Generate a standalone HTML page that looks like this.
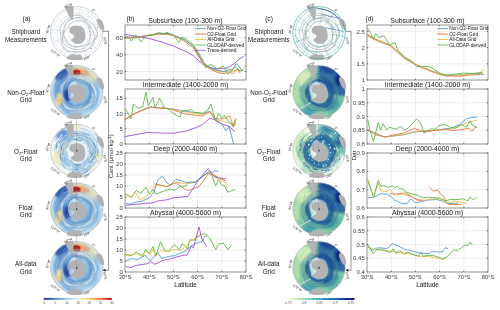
<!DOCTYPE html>
<html><head><meta charset="utf-8"><style>
html,body{margin:0;padding:0;background:#fff;width:500px;height:310px;overflow:hidden}
svg{display:block;will-change:transform}
text{font-family:"Liberation Sans", sans-serif}
</style></head><body>
<svg width="500" height="310" viewBox="0 0 500 310">
<rect width="500" height="310" fill="#fff"/>
<defs>
<filter id="bl2" x="-50%" y="-50%" width="200%" height="200%"><feGaussianBlur stdDeviation="2"/></filter>
<filter id="bl05" x="-50%" y="-50%" width="200%" height="200%"><feGaussianBlur stdDeviation="0.6"/></filter>
<filter id="bl1" x="-50%" y="-50%" width="200%" height="200%"><feGaussianBlur stdDeviation="1"/></filter>
<filter id="bl3" x="-50%" y="-50%" width="200%" height="200%"><feGaussianBlur stdDeviation="3.5"/></filter>
<clipPath id="cp00"><circle cx="76.7" cy="32.8" r="26.2"/></clipPath>
<clipPath id="cp00L"><circle cx="76.7" cy="32.8" r="28.03"/></clipPath>
<clipPath id="cp01"><circle cx="76.7" cy="91.7" r="26.2"/></clipPath>
<clipPath id="cp01L"><circle cx="76.7" cy="91.7" r="28.03"/></clipPath>
<clipPath id="cp02"><circle cx="76.7" cy="150.5" r="26.2"/></clipPath>
<clipPath id="cp02L"><circle cx="76.7" cy="150.5" r="28.03"/></clipPath>
<clipPath id="cp03"><circle cx="76.7" cy="209.0" r="26.2"/></clipPath>
<clipPath id="cp03L"><circle cx="76.7" cy="209.0" r="28.03"/></clipPath>
<clipPath id="cp04"><circle cx="76.7" cy="267.6" r="26.2"/></clipPath>
<clipPath id="cp04L"><circle cx="76.7" cy="267.6" r="28.03"/></clipPath>
<clipPath id="cp10"><circle cx="319.0" cy="32.8" r="26.2"/></clipPath>
<clipPath id="cp10L"><circle cx="319.0" cy="32.8" r="28.03"/></clipPath>
<clipPath id="cp11"><circle cx="319.0" cy="91.7" r="26.2"/></clipPath>
<clipPath id="cp11L"><circle cx="319.0" cy="91.7" r="28.03"/></clipPath>
<clipPath id="cp12"><circle cx="319.0" cy="150.5" r="26.2"/></clipPath>
<clipPath id="cp12L"><circle cx="319.0" cy="150.5" r="28.03"/></clipPath>
<clipPath id="cp13"><circle cx="319.0" cy="209.0" r="26.2"/></clipPath>
<clipPath id="cp13L"><circle cx="319.0" cy="209.0" r="28.03"/></clipPath>
<clipPath id="cp14"><circle cx="319.0" cy="267.6" r="26.2"/></clipPath>
<clipPath id="cp14L"><circle cx="319.0" cy="267.6" r="28.03"/></clipPath>
<linearGradient id="cbA" x1="0" x2="1" y1="0" y2="0"><stop offset="0" stop-color="#313695"/><stop offset="0.12" stop-color="#4575b4"/><stop offset="0.25" stop-color="#74add1"/><stop offset="0.38" stop-color="#abd9e9"/><stop offset="0.5" stop-color="#e0f3f8"/><stop offset="0.6" stop-color="#fee090"/><stop offset="0.72" stop-color="#fdae61"/><stop offset="0.85" stop-color="#f46d43"/><stop offset="0.93" stop-color="#d73027"/><stop offset="1" stop-color="#a50026"/></linearGradient>
<linearGradient id="cbC" x1="0" x2="1" y1="0" y2="0"><stop offset="0" stop-color="#ffffd9"/><stop offset="0.15" stop-color="#d5efb3"/><stop offset="0.3" stop-color="#97d6b9"/><stop offset="0.45" stop-color="#4ab3c2"/><stop offset="0.6" stop-color="#1f8ebc"/><stop offset="0.75" stop-color="#235fa6"/><stop offset="0.88" stop-color="#21318d"/><stop offset="1" stop-color="#081d58"/></linearGradient>
</defs>
<text x="25.80" y="34.40" font-size="6.3" text-anchor="middle" fill="#161616" >Shipboard</text>
<text x="25.80" y="41.70" font-size="6.3" text-anchor="middle" fill="#161616" >Measurements</text>
<text x="25.80" y="95.00" font-size="6.3" text-anchor="middle" fill="#161616" >Non-O<tspan font-size="4.2" dy="1.3">2</tspan><tspan dy="-1.3">-Float</tspan></text>
<text x="25.80" y="102.20" font-size="6.3" text-anchor="middle" fill="#161616" >Grid</text>
<text x="25.80" y="154.00" font-size="6.3" text-anchor="middle" fill="#161616" >O<tspan font-size="4.2" dy="1.3">2</tspan><tspan dy="-1.3">-Float</tspan></text>
<text x="25.80" y="161.40" font-size="6.3" text-anchor="middle" fill="#161616" >Grid</text>
<text x="25.80" y="210.00" font-size="6.3" text-anchor="middle" fill="#161616" >Float</text>
<text x="25.80" y="217.40" font-size="6.3" text-anchor="middle" fill="#161616" >Grid</text>
<text x="25.80" y="266.20" font-size="6.3" text-anchor="middle" fill="#161616" >All-data</text>
<text x="25.80" y="273.60" font-size="6.3" text-anchor="middle" fill="#161616" >Grid</text>
<text x="268.80" y="34.40" font-size="6.3" text-anchor="middle" fill="#161616" >Shipboard</text>
<text x="268.80" y="41.70" font-size="6.3" text-anchor="middle" fill="#161616" >Measurements</text>
<text x="268.80" y="95.00" font-size="6.3" text-anchor="middle" fill="#161616" >Non-O<tspan font-size="4.2" dy="1.3">2</tspan><tspan dy="-1.3">-Float</tspan></text>
<text x="268.80" y="102.20" font-size="6.3" text-anchor="middle" fill="#161616" >Grid</text>
<text x="268.80" y="154.00" font-size="6.3" text-anchor="middle" fill="#161616" >O<tspan font-size="4.2" dy="1.3">2</tspan><tspan dy="-1.3">-Float</tspan></text>
<text x="268.80" y="161.40" font-size="6.3" text-anchor="middle" fill="#161616" >Grid</text>
<text x="268.80" y="210.00" font-size="6.3" text-anchor="middle" fill="#161616" >Float</text>
<text x="268.80" y="217.40" font-size="6.3" text-anchor="middle" fill="#161616" >Grid</text>
<text x="268.80" y="266.20" font-size="6.3" text-anchor="middle" fill="#161616" >All-data</text>
<text x="268.80" y="273.60" font-size="6.3" text-anchor="middle" fill="#161616" >Grid</text>
<text x="26.50" y="21.30" font-size="6.6" text-anchor="middle" fill="#161616" >(a)</text>
<text x="269.00" y="21.30" font-size="6.6" text-anchor="middle" fill="#161616" >(c)</text>
<text x="130.50" y="21.30" font-size="6.6" text-anchor="middle" fill="#161616" >(b)</text>
<text x="369.50" y="21.30" font-size="6.6" text-anchor="middle" fill="#161616" >(d)</text>
<g clip-path="url(#cp00)">
<circle cx="76.7" cy="32.8" r="26.2" fill="#fff"/>
<circle cx="76.7" cy="32.8" r="7.86" fill="none" stroke="#b8b8b8" stroke-width="0.3" stroke-dasharray="0.7 0.7"/>
<circle cx="76.7" cy="32.8" r="14.41" fill="none" stroke="#b8b8b8" stroke-width="0.3" stroke-dasharray="0.7 0.7"/>
<circle cx="76.7" cy="32.8" r="20.96" fill="none" stroke="#b8b8b8" stroke-width="0.3" stroke-dasharray="0.7 0.7"/>
<line x1="76.70" y1="24.94" x2="76.70" y2="6.60" stroke="#c0c0c0" stroke-width="0.3" stroke-dasharray="0.7 0.7"/>
<line x1="80.63" y1="25.99" x2="89.80" y2="10.11" stroke="#c0c0c0" stroke-width="0.3" stroke-dasharray="0.7 0.7"/>
<line x1="83.51" y1="28.87" x2="99.39" y2="19.70" stroke="#c0c0c0" stroke-width="0.3" stroke-dasharray="0.7 0.7"/>
<line x1="84.56" y1="32.80" x2="102.90" y2="32.80" stroke="#c0c0c0" stroke-width="0.3" stroke-dasharray="0.7 0.7"/>
<line x1="83.51" y1="36.73" x2="99.39" y2="45.90" stroke="#c0c0c0" stroke-width="0.3" stroke-dasharray="0.7 0.7"/>
<line x1="80.63" y1="39.61" x2="89.80" y2="55.49" stroke="#c0c0c0" stroke-width="0.3" stroke-dasharray="0.7 0.7"/>
<line x1="76.70" y1="40.66" x2="76.70" y2="59.00" stroke="#c0c0c0" stroke-width="0.3" stroke-dasharray="0.7 0.7"/>
<line x1="72.77" y1="39.61" x2="63.60" y2="55.49" stroke="#c0c0c0" stroke-width="0.3" stroke-dasharray="0.7 0.7"/>
<line x1="69.89" y1="36.73" x2="54.01" y2="45.90" stroke="#c0c0c0" stroke-width="0.3" stroke-dasharray="0.7 0.7"/>
<line x1="68.84" y1="32.80" x2="50.50" y2="32.80" stroke="#c0c0c0" stroke-width="0.3" stroke-dasharray="0.7 0.7"/>
<line x1="69.89" y1="28.87" x2="54.01" y2="19.70" stroke="#c0c0c0" stroke-width="0.3" stroke-dasharray="0.7 0.7"/>
<line x1="72.77" y1="25.99" x2="63.60" y2="10.11" stroke="#c0c0c0" stroke-width="0.3" stroke-dasharray="0.7 0.7"/>
<path d="M77.75,21.03 C78.75,20.98 79.80,20.66 80.79,20.80 C81.77,20.93 82.80,21.32 83.66,21.82 C84.53,22.32 85.25,23.11 85.98,23.79 C86.71,24.46 87.56,25.07 88.07,25.88 C88.58,26.69 88.77,27.75 89.05,28.67 C89.32,29.58 89.50,30.47 89.73,31.38 C89.95,32.28 90.31,33.18 90.38,34.11 C90.45,35.04 90.24,35.97 90.16,36.94 C90.08,37.92 90.07,38.92 89.89,39.96 C89.70,40.99 89.68,42.35 89.06,43.13 C88.44,43.91 87.10,44.19 86.16,44.66 C85.23,45.13 84.41,45.76 83.45,45.96 C82.50,46.16 81.39,45.74 80.43,45.88 C79.48,46.02 78.68,46.62 77.75,46.79 C76.81,46.97 75.73,47.15 74.82,46.92 C73.92,46.69 73.19,45.84 72.30,45.42 C71.42,45.01 70.35,44.93 69.51,44.44 C68.67,43.95 67.86,43.25 67.26,42.47 C66.66,41.70 66.39,40.69 65.93,39.80 C65.48,38.91 64.86,38.08 64.51,37.13 C64.16,36.18 63.82,35.11 63.83,34.11 C63.85,33.11 64.08,31.98 64.58,31.11 C65.09,30.23 66.18,29.58 66.84,28.86 C67.50,28.13 68.02,27.52 68.53,26.76 C69.04,26.00 69.31,25.00 69.92,24.30 C70.53,23.59 71.37,23.08 72.18,22.55 C72.99,22.02 73.86,21.39 74.79,21.13 C75.71,20.88 76.75,21.09 77.75,21.03Z" fill="none" stroke="#222" stroke-width="0.4" opacity="0.65"/>
<path d="M77.75,17.56 C78.96,17.44 80.35,17.36 81.48,17.77 C82.61,18.18 83.61,19.24 84.54,20.01 C85.47,20.79 86.24,21.64 87.06,22.43 C87.88,23.23 88.77,23.91 89.44,24.78 C90.11,25.66 90.50,26.71 91.08,27.69 C91.66,28.66 92.43,29.58 92.92,30.65 C93.41,31.72 93.77,32.90 94.01,34.11 C94.25,35.32 94.57,36.70 94.36,37.90 C94.14,39.10 93.43,40.31 92.72,41.32 C92.02,42.33 91.06,43.23 90.12,43.97 C89.17,44.72 88.02,45.14 87.06,45.79 C86.10,46.43 85.36,47.32 84.37,47.87 C83.39,48.42 82.27,48.79 81.17,49.10 C80.07,49.41 78.90,49.66 77.75,49.71 C76.60,49.76 75.40,49.61 74.26,49.38 C73.12,49.15 71.99,48.79 70.89,48.35 C69.80,47.90 68.74,47.34 67.70,46.71 C66.66,46.08 65.46,45.46 64.63,44.57 C63.81,43.67 63.10,42.50 62.75,41.33 C62.41,40.16 62.49,38.78 62.57,37.57 C62.66,36.37 63.09,35.22 63.27,34.11 C63.44,33.00 63.43,31.95 63.63,30.89 C63.83,29.82 64.15,28.80 64.47,27.72 C64.79,26.63 65.08,25.49 65.57,24.40 C66.06,23.31 66.56,21.97 67.42,21.16 C68.29,20.36 69.63,20.03 70.75,19.58 C71.88,19.14 73.02,18.83 74.18,18.50 C75.35,18.16 76.53,17.68 77.75,17.56Z" fill="none" stroke="#222" stroke-width="0.4" opacity="0.65"/>
<path d="M77.75,15.30 C79.14,15.42 80.59,15.65 81.83,16.22 C83.07,16.79 84.09,17.93 85.17,18.70 C86.25,19.48 87.24,20.14 88.31,20.87 C89.37,21.60 90.55,22.22 91.55,23.11 C92.54,23.99 93.46,25.03 94.26,26.16 C95.07,27.28 95.82,28.54 96.36,29.86 C96.91,31.19 97.64,32.72 97.53,34.11 C97.42,35.50 96.31,36.92 95.69,38.20 C95.06,39.49 94.36,40.59 93.78,41.83 C93.21,43.08 93.04,44.60 92.25,45.67 C91.46,46.74 90.13,47.45 89.04,48.27 C87.95,49.09 86.92,50.11 85.69,50.60 C84.46,51.09 82.98,51.00 81.65,51.21 C80.33,51.42 79.07,51.77 77.75,51.85 C76.43,51.93 75.16,51.68 73.74,51.67 C72.32,51.65 70.69,52.04 69.25,51.75 C67.82,51.46 66.21,50.88 65.13,49.93 C64.04,48.99 63.37,47.40 62.75,46.07 C62.13,44.75 61.70,43.34 61.40,41.98 C61.09,40.63 61.00,39.26 60.92,37.95 C60.85,36.64 61.12,35.43 60.95,34.11 C60.78,32.79 59.92,31.39 59.91,30.04 C59.90,28.69 60.33,27.23 60.90,26.00 C61.47,24.76 62.39,23.61 63.33,22.61 C64.26,21.61 65.47,20.95 66.49,20.00 C67.52,19.05 68.29,17.64 69.46,16.89 C70.62,16.14 72.12,15.77 73.50,15.50 C74.88,15.24 76.36,15.18 77.75,15.30Z" fill="none" stroke="#222" stroke-width="0.4" opacity="0.65"/>
<line x1="78.09" y1="22.94" x2="80.31" y2="7.11" stroke="#78b0dc" stroke-width="0.45" opacity="0.45"/>
<line x1="82.83" y1="24.95" x2="92.67" y2="12.36" stroke="#78b0dc" stroke-width="0.45" opacity="0.45"/>
<line x1="85.93" y1="29.07" x2="100.75" y2="23.08" stroke="#78b0dc" stroke-width="0.45" opacity="0.45"/>
<line x1="86.56" y1="34.19" x2="102.39" y2="36.41" stroke="#78b0dc" stroke-width="0.45" opacity="0.45"/>
<line x1="84.55" y1="38.93" x2="97.14" y2="48.77" stroke="#78b0dc" stroke-width="0.45" opacity="0.45"/>
<line x1="80.43" y1="42.03" x2="86.42" y2="56.85" stroke="#78b0dc" stroke-width="0.45" opacity="0.45"/>
<line x1="75.31" y1="42.66" x2="73.09" y2="58.49" stroke="#78b0dc" stroke-width="0.45" opacity="0.45"/>
<line x1="70.57" y1="40.65" x2="60.73" y2="53.24" stroke="#78b0dc" stroke-width="0.45" opacity="0.45"/>
<line x1="67.47" y1="36.53" x2="52.65" y2="42.52" stroke="#78b0dc" stroke-width="0.45" opacity="0.45"/>
<line x1="66.84" y1="31.41" x2="51.01" y2="29.19" stroke="#78b0dc" stroke-width="0.45" opacity="0.45"/>
<line x1="68.85" y1="26.67" x2="56.26" y2="16.83" stroke="#78b0dc" stroke-width="0.45" opacity="0.45"/>
<line x1="72.97" y1="23.57" x2="66.98" y2="8.75" stroke="#78b0dc" stroke-width="0.45" opacity="0.45"/>
<circle cx="76.7" cy="32.8" r="14.41" fill="none" stroke="#78b0dc" stroke-width="0.45" opacity="0.45"/>
<circle cx="76.7" cy="32.8" r="19.39" fill="none" stroke="#78b0dc" stroke-width="0.45" opacity="0.45"/>
<circle cx="76.7" cy="32.8" r="23.84" fill="none" stroke="#78b0dc" stroke-width="0.45" opacity="0.45"/>
<circle cx="97.7" cy="27.6" r="0.5" fill="#e06030"/>
<circle cx="91.1" cy="48.5" r="0.6" fill="#d02020"/>
<path d="M87.2,9.2 Q99.0,17.1 101.6,35.4" fill="none" stroke="#e8c870" stroke-width="0.4" stroke-dasharray="0.6 0.6"/>
</g>
<g clip-path="url(#cp00L)"><path d="M64.91,6.60 C66.13,6.16 71.59,5.73 73.03,6.60 C74.47,7.47 73.51,10.18 73.56,11.84 C73.60,13.50 73.51,15.25 73.29,16.56 C73.08,17.87 72.73,19.44 72.25,19.70 C71.77,19.96 71.15,19.18 70.41,18.13 C69.67,17.08 68.58,14.90 67.79,13.41 C67.01,11.93 66.18,10.36 65.70,9.22 C65.22,8.08 63.69,7.04 64.91,6.60Z" fill="#b3b3b3"/>
<path d="M96.61,19.18 C97.05,18.39 99.10,18.56 100.28,19.18 C101.46,19.79 103.12,21.01 103.69,22.84 C104.25,24.68 104.25,29.22 103.69,30.18 C103.12,31.14 101.28,29.66 100.28,28.61 C99.28,27.56 98.27,25.46 97.66,23.89 C97.05,22.32 96.18,19.96 96.61,19.18Z" fill="#b3b3b3"/>
<path d="M67.27,59.79 C65.17,59.09 67.92,56.55 68.84,55.59 C69.76,54.63 71.46,54.15 72.77,54.02 C74.08,53.89 75.52,54.76 76.70,54.81 C77.88,54.85 78.97,53.93 79.84,54.28 C80.72,54.63 81.68,55.99 81.94,56.90 C82.20,57.82 83.86,59.31 81.42,59.79 C78.97,60.27 69.36,60.48 67.27,59.79Z" fill="#b3b3b3"/>
<path d="M71.46,26.51 C72.42,25.94 73.99,25.81 75.39,25.73 C76.79,25.64 78.53,25.59 79.84,25.99 C81.15,26.38 82.38,27.04 83.25,28.08 C84.12,29.13 84.73,30.79 85.08,32.28 C85.43,33.76 85.56,35.51 85.35,36.99 C85.13,38.48 84.60,40.09 83.77,41.18 C82.94,42.28 81.59,43.11 80.37,43.54 C79.15,43.98 77.66,44.02 76.44,43.80 C75.22,43.59 73.95,42.89 73.03,42.23 C72.11,41.58 70.89,40.57 70.94,39.87 C70.98,39.18 72.77,38.78 73.29,38.04 C73.82,37.30 74.34,36.07 74.08,35.42 C73.82,34.76 72.46,34.63 71.72,34.11 C70.98,33.59 69.98,33.11 69.63,32.28 C69.28,31.45 69.32,30.09 69.63,29.13 C69.93,28.17 70.50,27.08 71.46,26.51Z" fill="#b3b3b3"/></g>
<circle cx="76.7" cy="32.8" r="26.2" fill="none" stroke="#a8a8a8" stroke-width="0.5"/>
<text x="68.8" y="6.6" font-size="3.4" fill="#3a3a3a" text-anchor="middle" transform="rotate(-25 68.8 6.6)">60°W</text>
<text x="92.9" y="11.3" font-size="3.4" fill="#3a3a3a" text-anchor="middle" transform="rotate(40 92.9 11.3)">0°</text>
<text x="49.2" y="29.7" font-size="3.4" fill="#3a3a3a" text-anchor="middle" transform="rotate(-75 49.2 29.7)">90°W</text>
<text x="103.9" y="41.2" font-size="3.4" fill="#3a3a3a" text-anchor="middle" transform="rotate(80 103.9 41.2)">60°E</text>
<text x="54.4" y="53.8" font-size="3.4" fill="#3a3a3a" text-anchor="middle" transform="rotate(35 54.4 53.8)">120°W</text>
<text x="87.2" y="59.0" font-size="3.4" fill="#3a3a3a" text-anchor="middle" transform="rotate(-20 87.2 59.0)">180°</text>
<g clip-path="url(#cp01)">
<circle cx="76.7" cy="91.7" r="26.2" fill="#94c3e6"/>
<circle cx="76.7" cy="91.7" r="24.89" fill="none" stroke="#d4eaf5" stroke-width="3.14" filter="url(#bl1)"/>
<ellipse cx="62.29" cy="91.70" rx="7.86" ry="14.41" fill="#6496d2" opacity="0.9" filter="url(#bl2)" transform="rotate(0 62.29 91.70)"/>
<ellipse cx="74.08" cy="110.56" rx="11.79" ry="4.72" fill="#7aaad8" opacity="0.8" filter="url(#bl2)" transform="rotate(0 74.08 110.56)"/>
<ellipse cx="91.11" cy="100.87" rx="7.86" ry="9.17" fill="#88b8e0" opacity="0.7" filter="url(#bl2)" transform="rotate(0 91.11 100.87)"/>
<ellipse cx="61.50" cy="73.88" rx="7.86" ry="5.24" fill="#2f58ad" opacity="0.95" filter="url(#bl1)" transform="rotate(-35 61.50 73.88)"/>
<ellipse cx="64.91" cy="79.91" rx="4.72" ry="3.93" fill="#5a88c8" opacity="0.8" filter="url(#bl2)" transform="rotate(0 64.91 79.91)"/>
<ellipse cx="84.56" cy="79.91" rx="9.17" ry="3.67" fill="#eef0d6" opacity="0.9" filter="url(#bl2)" transform="rotate(15 84.56 79.91)"/>
<ellipse cx="92.94" cy="75.98" rx="5.76" ry="3.14" fill="#f5e2a2" opacity="0.95" filter="url(#bl2)" transform="rotate(35 92.94 75.98)"/>
<ellipse cx="79.32" cy="69.43" rx="6.55" ry="2.62" fill="#f3dca8" opacity="0.9" filter="url(#bl2)" transform="rotate(0 79.32 69.43)"/>
<ellipse cx="80.63" cy="71.79" rx="8.38" ry="3.41" fill="#f0a060" opacity="0.9" filter="url(#bl1)" transform="rotate(12 80.63 71.79)"/>
<ellipse cx="76.18" cy="72.57" rx="4.45" ry="3.14" fill="#b01812" opacity="1" filter="url(#bl05)" transform="rotate(5 76.18 72.57)"/>
<ellipse cx="59.41" cy="99.04" rx="3.41" ry="6.81" fill="#f2dc8c" opacity="1" filter="url(#bl1)" transform="rotate(15 59.41 99.04)"/>
<ellipse cx="59.41" cy="100.61" rx="1.57" ry="2.62" fill="#f0b060" opacity="0.8" filter="url(#bl1)" transform="rotate(0 59.41 100.61)"/>
<path d="M77.75,75.97 C79.01,76.06 80.34,76.18 81.48,76.64 C82.63,77.11 83.60,78.08 84.62,78.75 C85.63,79.42 86.60,80.00 87.58,80.68 C88.56,81.36 89.63,82.00 90.49,82.85 C91.35,83.70 92.07,84.73 92.74,85.79 C93.41,86.85 94.01,87.98 94.50,89.19 C94.99,90.39 95.74,91.75 95.66,93.01 C95.59,94.27 94.61,95.56 94.07,96.74 C93.53,97.91 92.93,98.93 92.43,100.08 C91.93,101.23 91.81,102.66 91.08,103.64 C90.36,104.63 89.10,105.22 88.09,105.98 C87.09,106.74 86.18,107.71 85.05,108.18 C83.93,108.65 82.57,108.58 81.35,108.78 C80.13,108.98 78.96,109.34 77.75,109.38 C76.54,109.42 75.37,109.09 74.09,109.03 C72.81,108.96 71.35,109.26 70.06,108.97 C68.77,108.68 67.35,108.14 66.36,107.29 C65.38,106.44 64.76,105.03 64.15,103.85 C63.54,102.68 63.04,101.47 62.71,100.25 C62.37,99.04 62.20,97.78 62.13,96.58 C62.05,95.37 62.36,94.23 62.23,93.01 C62.10,91.79 61.34,90.50 61.36,89.27 C61.38,88.04 61.84,86.73 62.38,85.61 C62.92,84.49 63.77,83.45 64.62,82.54 C65.48,81.63 66.58,81.04 67.51,80.17 C68.44,79.30 69.12,77.97 70.18,77.30 C71.25,76.63 72.64,76.36 73.90,76.14 C75.16,75.92 76.48,75.89 77.75,75.97Z" fill="none" stroke="#e2f0f6" stroke-width="2.36" opacity="0.85" filter="url(#bl1)"/>
<path d="M77.75,80.64 C78.69,80.91 79.49,81.28 80.38,81.50 C81.27,81.71 82.21,81.65 83.09,81.91 C83.98,82.17 84.86,82.58 85.69,83.05 C86.52,83.53 87.36,84.09 88.08,84.77 C88.81,85.44 89.51,86.23 90.04,87.09 C90.57,87.95 91.06,88.94 91.25,89.93 C91.43,90.92 91.23,92.00 91.14,93.01 C91.05,94.02 91.02,95.04 90.70,95.97 C90.39,96.89 89.72,97.69 89.25,98.55 C88.78,99.40 88.52,100.41 87.89,101.10 C87.26,101.79 86.30,102.23 85.49,102.72 C84.68,103.20 83.87,103.59 83.04,104.00 C82.21,104.41 81.41,104.80 80.53,105.18 C79.64,105.55 78.75,105.95 77.75,106.26 C76.75,106.58 75.56,107.16 74.54,107.07 C73.52,106.98 72.48,106.32 71.62,105.73 C70.76,105.14 70.03,104.29 69.38,103.51 C68.73,102.72 68.14,101.89 67.71,101.02 C67.28,100.14 67.19,99.14 66.82,98.27 C66.45,97.41 65.86,96.69 65.47,95.81 C65.09,94.93 64.63,93.98 64.49,93.01 C64.36,92.04 64.47,91.00 64.65,90.02 C64.83,89.04 65.17,88.07 65.57,87.15 C65.97,86.22 66.40,85.22 67.07,84.49 C67.73,83.76 68.78,83.40 69.57,82.75 C70.35,82.10 70.91,81.08 71.77,80.60 C72.63,80.12 73.75,79.85 74.75,79.86 C75.74,79.87 76.81,80.36 77.75,80.64Z" fill="none" stroke="#6a9fd4" stroke-width="3.67" opacity="0.85" filter="url(#bl1)"/>
<ellipse cx="67.27" cy="94.84" rx="3.41" ry="6.29" fill="#2442a0" opacity="1" filter="url(#bl1)" transform="rotate(0 67.27 94.84)"/>
<ellipse cx="79.32" cy="110.56" rx="9.17" ry="3.14" fill="#b8daf0" opacity="0.8" filter="url(#bl2)" transform="rotate(0 79.32 110.56)"/>
<path d="M84.76,115.75 A23.80,23.80 0 0 1 77.16,116.71" fill="none" stroke="#d8ecf6" stroke-width="0.73" opacity="0.5"/>
<path d="M93.86,86.62 A17.34,17.34 0 0 1 95.37,93.78" fill="none" stroke="#ffffff" stroke-width="0.35" opacity="0.5"/>
<path d="M98.66,100.30 A22.15,22.15 0 0 1 97.93,103.31" fill="none" stroke="#ffffff" stroke-width="0.60" opacity="0.5"/>
<path d="M90.58,109.80 A21.13,21.13 0 0 1 85.56,113.06" fill="none" stroke="#d8ecf6" stroke-width="0.31" opacity="0.5"/>
<path d="M75.40,106.02 A13.22,13.22 0 0 1 74.02,104.99" fill="none" stroke="#ffffff" stroke-width="0.69" opacity="0.5"/>
<path d="M89.54,99.14 A13.29,13.29 0 0 1 86.38,102.18" fill="none" stroke="#4a80c4" stroke-width="0.55" opacity="0.5"/>
<path d="M65.40,100.58 A14.49,14.49 0 0 1 62.52,97.18" fill="none" stroke="#ffffff" stroke-width="0.65" opacity="0.5"/>
<path d="M91.18,98.85 A14.65,14.65 0 0 1 88.89,100.67" fill="none" stroke="#ffffff" stroke-width="0.50" opacity="0.5"/>
<path d="M57.80,79.16 A24.29,24.29 0 0 1 61.34,73.89" fill="none" stroke="#ffffff" stroke-width="0.41" opacity="0.5"/>
<path d="M70.72,78.76 A15.89,15.89 0 0 1 72.31,77.50" fill="none" stroke="#4a80c4" stroke-width="0.34" opacity="0.5"/>
<path d="M67.31,102.88 A14.37,14.37 0 0 1 65.25,97.52" fill="none" stroke="#4a80c4" stroke-width="0.31" opacity="0.5"/>
<path d="M84.40,103.50 A12.42,12.42 0 0 1 78.99,105.91" fill="none" stroke="#ffffff" stroke-width="0.33" opacity="0.5"/>
<path d="M60.01,87.61 A18.54,18.54 0 0 1 61.31,84.73" fill="none" stroke="#ffffff" stroke-width="0.79" opacity="0.5"/>
<path d="M61.86,91.05 A16.01,16.01 0 0 1 63.20,87.02" fill="none" stroke="#ffffff" stroke-width="0.30" opacity="0.5"/>
<path d="M63.43,80.49 A19.02,19.02 0 0 1 70.54,74.00" fill="none" stroke="#ffffff" stroke-width="0.41" opacity="0.5"/>
<path d="M89.91,108.54 A19.73,19.73 0 0 1 81.87,111.23" fill="none" stroke="#ffffff" stroke-width="0.41" opacity="0.5"/>
<path d="M92.95,93.80 A15.22,15.22 0 0 1 90.90,99.54" fill="none" stroke="#ffffff" stroke-width="0.34" opacity="0.5"/>
<path d="M88.09,90.27 A10.70,10.70 0 0 1 88.06,94.00" fill="none" stroke="#d8ecf6" stroke-width="0.53" opacity="0.5"/>
<path d="M72.98,74.87 A18.76,18.76 0 0 1 78.47,73.30" fill="none" stroke="#ffffff" stroke-width="0.61" opacity="0.5"/>
<path d="M95.63,100.20 A19.28,19.28 0 0 1 94.44,103.79" fill="none" stroke="#ffffff" stroke-width="0.67" opacity="0.5"/>
<path d="M68.91,70.51 A24.17,24.17 0 0 1 72.85,68.32" fill="none" stroke="#d8ecf6" stroke-width="0.34" opacity="0.5"/>
<path d="M82.99,75.93 A17.86,17.86 0 0 1 85.11,77.44" fill="none" stroke="#d8ecf6" stroke-width="0.65" opacity="0.5"/>
<path d="M96.80,93.85 A19.08,19.08 0 0 1 94.24,101.46" fill="none" stroke="#ffffff" stroke-width="0.76" opacity="0.5"/>
<path d="M75.26,75.80 A17.39,17.39 0 0 1 77.88,75.22" fill="none" stroke="#d8ecf6" stroke-width="0.61" opacity="0.5"/>
<path d="M90.93,95.54 A13.42,13.42 0 0 1 87.37,100.43" fill="none" stroke="#4a80c4" stroke-width="0.51" opacity="0.5"/>
<path d="M92.29,92.92 A14.54,14.54 0 0 1 92.28,94.66" fill="none" stroke="#ffffff" stroke-width="0.35" opacity="0.5"/>
<path d="M89.40,83.17 A15.25,15.25 0 0 1 92.22,86.53" fill="none" stroke="#d8ecf6" stroke-width="0.59" opacity="0.5"/>
<path d="M86.04,86.18 A10.74,10.74 0 0 1 87.66,86.59" fill="none" stroke="#d8ecf6" stroke-width="0.46" opacity="0.5"/>
<path d="M80.17,81.71 A11.56,11.56 0 0 1 83.20,84.12" fill="none" stroke="#4a80c4" stroke-width="0.46" opacity="0.5"/>
<path d="M77.67,74.66 A18.35,18.35 0 0 1 80.13,74.19" fill="none" stroke="#d8ecf6" stroke-width="0.67" opacity="0.5"/>
<path d="M88.95,82.43 A15.40,15.40 0 0 1 91.54,89.17" fill="none" stroke="#4a80c4" stroke-width="0.75" opacity="0.5"/>
<path d="M61.91,77.93 A21.87,21.87 0 0 1 65.95,73.47" fill="none" stroke="#d8ecf6" stroke-width="0.31" opacity="0.5"/>
<path d="M68.67,98.59 A10.66,10.66 0 0 1 68.63,95.83" fill="none" stroke="#ffffff" stroke-width="0.62" opacity="0.5"/>
<path d="M76.87,72.05 A20.97,20.97 0 0 1 85.99,74.04" fill="none" stroke="#d8ecf6" stroke-width="0.65" opacity="0.5"/>
<path d="M82.54,110.65 A18.28,18.28 0 0 1 77.39,111.33" fill="none" stroke="#d8ecf6" stroke-width="0.31" opacity="0.5"/>
<path d="M69.55,104.11 A13.80,13.80 0 0 1 66.28,101.58" fill="none" stroke="#4a80c4" stroke-width="0.69" opacity="0.5"/>
<path d="M57.98,105.53 A23.40,23.40 0 0 1 55.53,99.16" fill="none" stroke="#ffffff" stroke-width="0.64" opacity="0.5"/>
<path d="M100.24,86.10 A23.53,23.53 0 0 1 101.50,89.90" fill="none" stroke="#4a80c4" stroke-width="0.55" opacity="0.5"/>
<path d="M91.82,92.26 A14.09,14.09 0 0 1 91.88,96.00" fill="none" stroke="#ffffff" stroke-width="0.74" opacity="0.5"/>
<path d="M87.74,104.26 A15.04,15.04 0 0 1 83.14,106.02" fill="none" stroke="#4a80c4" stroke-width="0.48" opacity="0.5"/>
<path d="M70.80,83.97 A11.40,11.40 0 0 1 71.24,82.15" fill="none" stroke="#ffffff" stroke-width="0.36" opacity="0.5"/>
<path d="M81.77,115.10 A22.45,22.45 0 0 1 71.41,114.23" fill="none" stroke="#d8ecf6" stroke-width="0.55" opacity="0.5"/>
<path d="M100.33,102.84 A24.63,24.63 0 0 1 93.99,111.36" fill="none" stroke="#ffffff" stroke-width="0.71" opacity="0.5"/>
<path d="M97.69,96.57 A20.25,20.25 0 0 1 94.83,102.78" fill="none" stroke="#4a80c4" stroke-width="0.45" opacity="0.5"/>
<path d="M65.73,89.80 A12.44,12.44 0 0 1 66.26,88.57" fill="none" stroke="#ffffff" stroke-width="0.68" opacity="0.5"/>
<path d="M99.59,95.27 A21.96,21.96 0 0 1 97.97,104.45" fill="none" stroke="#ffffff" stroke-width="0.52" opacity="0.5"/>
<path d="M61.63,108.15 A22.11,22.11 0 0 1 56.20,101.92" fill="none" stroke="#d8ecf6" stroke-width="0.40" opacity="0.5"/>
<path d="M59.17,83.72 A20.77,20.77 0 0 1 60.89,79.76" fill="none" stroke="#d8ecf6" stroke-width="0.66" opacity="0.5"/>
<path d="M91.70,86.35 A15.46,15.46 0 0 1 93.28,89.27" fill="none" stroke="#d8ecf6" stroke-width="0.55" opacity="0.5"/>
<path d="M77.29,70.30 A22.71,22.71 0 0 1 81.07,70.02" fill="none" stroke="#ffffff" stroke-width="0.34" opacity="0.5"/>
<path d="M72.67,81.75 A12.35,12.35 0 0 1 77.33,80.79" fill="none" stroke="#d8ecf6" stroke-width="0.74" opacity="0.5"/>
<path d="M78.59,73.14 A19.89,19.89 0 0 1 84.80,74.41" fill="none" stroke="#4a80c4" stroke-width="0.53" opacity="0.5"/>
<path d="M60.75,105.14 A20.88,20.88 0 0 1 58.08,102.22" fill="none" stroke="#d8ecf6" stroke-width="0.76" opacity="0.5"/>
<path d="M89.03,81.52 A16.10,16.10 0 0 1 90.16,84.55" fill="none" stroke="#4a80c4" stroke-width="0.57" opacity="0.5"/>
<path d="M54.93,87.03 A23.59,23.59 0 0 1 56.04,81.59" fill="none" stroke="#4a80c4" stroke-width="0.55" opacity="0.5"/>
<path d="M81.58,76.91 A16.55,16.55 0 0 1 84.98,78.78" fill="none" stroke="#ffffff" stroke-width="0.41" opacity="0.5"/>
<path d="M69.62,85.61 A10.99,10.99 0 0 1 71.86,83.63" fill="none" stroke="#d8ecf6" stroke-width="0.69" opacity="0.5"/>
<path d="M91.59,81.63 A17.92,17.92 0 0 1 93.73,83.68" fill="none" stroke="#d8ecf6" stroke-width="0.64" opacity="0.5"/>
<path d="M69.67,70.24 A24.16,24.16 0 0 1 76.74,69.96" fill="none" stroke="#ffffff" stroke-width="0.52" opacity="0.5"/>
<path d="M71.04,110.33 A18.57,18.57 0 0 1 65.03,105.31" fill="none" stroke="#d8ecf6" stroke-width="0.72" opacity="0.5"/>
<path d="M77.75,79.93 C78.75,79.88 79.80,79.56 80.79,79.70 C81.77,79.83 82.80,80.22 83.66,80.72 C84.53,81.22 85.25,82.01 85.98,82.69 C86.71,83.36 87.56,83.97 88.07,84.78 C88.58,85.59 88.77,86.65 89.05,87.57 C89.32,88.48 89.50,89.37 89.73,90.28 C89.95,91.18 90.31,92.08 90.38,93.01 C90.45,93.94 90.24,94.87 90.16,95.84 C90.08,96.82 90.07,97.82 89.89,98.86 C89.70,99.89 89.68,101.25 89.06,102.03 C88.44,102.81 87.10,103.09 86.16,103.56 C85.23,104.03 84.41,104.66 83.45,104.86 C82.50,105.06 81.39,104.64 80.43,104.78 C79.48,104.92 78.68,105.52 77.75,105.69 C76.81,105.87 75.73,106.05 74.82,105.82 C73.92,105.59 73.19,104.74 72.30,104.32 C71.42,103.91 70.35,103.83 69.51,103.34 C68.67,102.85 67.86,102.15 67.26,101.37 C66.66,100.60 66.39,99.59 65.93,98.70 C65.48,97.81 64.86,96.98 64.51,96.03 C64.16,95.08 63.82,94.01 63.83,93.01 C63.85,92.01 64.08,90.88 64.58,90.01 C65.09,89.13 66.18,88.48 66.84,87.76 C67.50,87.03 68.02,86.42 68.53,85.66 C69.04,84.90 69.31,83.90 69.92,83.20 C70.53,82.49 71.37,81.98 72.18,81.45 C72.99,80.92 73.86,80.29 74.79,80.03 C75.71,79.78 76.75,79.99 77.75,79.93Z" fill="none" stroke="#3c4650" stroke-width="0.35" opacity="0.6"/>
<path d="M77.75,76.46 C78.96,76.34 80.35,76.26 81.48,76.67 C82.61,77.08 83.61,78.14 84.54,78.91 C85.47,79.69 86.24,80.54 87.06,81.33 C87.88,82.13 88.77,82.81 89.44,83.68 C90.11,84.56 90.50,85.61 91.08,86.59 C91.66,87.56 92.43,88.48 92.92,89.55 C93.41,90.62 93.77,91.80 94.01,93.01 C94.25,94.22 94.57,95.60 94.36,96.80 C94.14,98.00 93.43,99.21 92.72,100.22 C92.02,101.23 91.06,102.13 90.12,102.87 C89.17,103.62 88.02,104.04 87.06,104.69 C86.10,105.33 85.36,106.22 84.37,106.77 C83.39,107.32 82.27,107.69 81.17,108.00 C80.07,108.31 78.90,108.56 77.75,108.61 C76.60,108.66 75.40,108.51 74.26,108.28 C73.12,108.05 71.99,107.69 70.89,107.25 C69.80,106.80 68.74,106.24 67.70,105.61 C66.66,104.98 65.46,104.36 64.63,103.47 C63.81,102.57 63.10,101.40 62.75,100.23 C62.41,99.06 62.49,97.68 62.57,96.47 C62.66,95.27 63.09,94.12 63.27,93.01 C63.44,91.90 63.43,90.85 63.63,89.79 C63.83,88.72 64.15,87.70 64.47,86.62 C64.79,85.53 65.08,84.39 65.57,83.30 C66.06,82.21 66.56,80.87 67.42,80.06 C68.29,79.26 69.63,78.93 70.75,78.48 C71.88,78.04 73.02,77.73 74.18,77.40 C75.35,77.06 76.53,76.58 77.75,76.46Z" fill="none" stroke="#3c4650" stroke-width="0.35" opacity="0.6"/>
<path d="M77.75,74.20 C79.14,74.32 80.59,74.55 81.83,75.12 C83.07,75.69 84.09,76.83 85.17,77.60 C86.25,78.38 87.24,79.04 88.31,79.77 C89.37,80.50 90.55,81.12 91.55,82.01 C92.54,82.89 93.46,83.93 94.26,85.06 C95.07,86.18 95.82,87.44 96.36,88.76 C96.91,90.09 97.64,91.62 97.53,93.01 C97.42,94.40 96.31,95.82 95.69,97.10 C95.06,98.39 94.36,99.49 93.78,100.73 C93.21,101.98 93.04,103.50 92.25,104.57 C91.46,105.64 90.13,106.35 89.04,107.17 C87.95,107.99 86.92,109.01 85.69,109.50 C84.46,109.99 82.98,109.90 81.65,110.11 C80.33,110.32 79.07,110.67 77.75,110.75 C76.43,110.83 75.16,110.58 73.74,110.57 C72.32,110.55 70.69,110.94 69.25,110.65 C67.82,110.36 66.21,109.78 65.13,108.83 C64.04,107.89 63.37,106.30 62.75,104.97 C62.13,103.65 61.70,102.24 61.40,100.88 C61.09,99.53 61.00,98.16 60.92,96.85 C60.85,95.54 61.12,94.33 60.95,93.01 C60.78,91.69 59.92,90.29 59.91,88.94 C59.90,87.59 60.33,86.13 60.90,84.90 C61.47,83.66 62.39,82.51 63.33,81.51 C64.26,80.51 65.47,79.85 66.49,78.90 C67.52,77.95 68.29,76.54 69.46,75.79 C70.62,75.04 72.12,74.67 73.50,74.40 C74.88,74.14 76.36,74.08 77.75,74.20Z" fill="none" stroke="#3c4650" stroke-width="0.35" opacity="0.6"/>
</g>
<g clip-path="url(#cp01L)"><path d="M68.05,89.60 C68.45,87.86 69.50,85.24 70.41,83.84 C71.33,82.44 72.60,81.48 73.56,81.22 C74.52,80.96 75.43,81.70 76.18,82.27 C76.92,82.84 78.80,84.10 78.01,84.63 C77.22,85.15 72.86,84.84 71.46,85.41 C70.06,85.98 69.93,87.07 69.63,88.03 C69.32,88.99 69.28,90.35 69.63,91.18 C69.98,92.01 70.98,92.49 71.72,93.01 C72.46,93.53 73.82,93.67 74.08,94.32 C74.34,94.98 73.82,96.20 73.29,96.94 C72.77,97.68 71.59,98.56 70.94,98.77 C70.28,98.99 69.84,98.99 69.36,98.25 C68.88,97.51 68.27,95.76 68.05,94.32 C67.84,92.88 67.66,91.35 68.05,89.60Z" fill="#eef4f8" opacity="0.55"/>
<path d="M64.91,65.50 C66.13,65.06 71.59,64.63 73.03,65.50 C74.47,66.37 73.51,69.08 73.56,70.74 C73.60,72.40 73.51,74.15 73.29,75.46 C73.08,76.77 72.73,78.34 72.25,78.60 C71.77,78.86 71.15,78.08 70.41,77.03 C69.67,75.98 68.58,73.80 67.79,72.31 C67.01,70.83 66.18,69.26 65.70,68.12 C65.22,66.98 63.69,65.94 64.91,65.50Z" fill="#b3b3b3"/>
<path d="M96.61,78.08 C97.05,77.29 99.10,77.46 100.28,78.08 C101.46,78.69 103.12,79.91 103.69,81.74 C104.25,83.58 104.25,88.12 103.69,89.08 C103.12,90.04 101.28,88.56 100.28,87.51 C99.28,86.46 98.27,84.36 97.66,82.79 C97.05,81.22 96.18,78.86 96.61,78.08Z" fill="#b3b3b3"/>
<path d="M67.27,118.69 C65.17,117.99 67.92,115.45 68.84,114.49 C69.76,113.53 71.46,113.05 72.77,112.92 C74.08,112.79 75.52,113.66 76.70,113.71 C77.88,113.75 78.97,112.83 79.84,113.18 C80.72,113.53 81.68,114.89 81.94,115.80 C82.20,116.72 83.86,118.21 81.42,118.69 C78.97,119.17 69.36,119.38 67.27,118.69Z" fill="#b3b3b3"/>
<path d="M71.46,85.41 C72.42,84.84 73.99,84.71 75.39,84.63 C76.79,84.54 78.53,84.50 79.84,84.89 C81.15,85.28 82.38,85.94 83.25,86.98 C84.12,88.03 84.73,89.69 85.08,91.18 C85.43,92.66 85.56,94.41 85.35,95.89 C85.13,97.38 84.60,98.99 83.77,100.08 C82.94,101.18 81.59,102.01 80.37,102.44 C79.15,102.88 77.66,102.92 76.44,102.70 C75.22,102.49 73.95,101.79 73.03,101.13 C72.11,100.48 70.89,99.47 70.94,98.77 C70.98,98.08 72.77,97.68 73.29,96.94 C73.82,96.20 74.34,94.98 74.08,94.32 C73.82,93.67 72.46,93.53 71.72,93.01 C70.98,92.49 69.98,92.01 69.63,91.18 C69.28,90.35 69.32,88.99 69.63,88.03 C69.93,87.07 70.50,85.98 71.46,85.41Z" fill="#b3b3b3"/></g>
<circle cx="76.7" cy="91.7" r="26.2" fill="none" stroke="#a8a8a8" stroke-width="0.5"/>
<text x="68.8" y="65.5" font-size="3.4" fill="#3a3a3a" text-anchor="middle" transform="rotate(-25 68.8 65.5)">60°W</text>
<text x="92.9" y="70.2" font-size="3.4" fill="#3a3a3a" text-anchor="middle" transform="rotate(40 92.9 70.2)">0°</text>
<text x="49.2" y="88.6" font-size="3.4" fill="#3a3a3a" text-anchor="middle" transform="rotate(-75 49.2 88.6)">90°W</text>
<text x="103.9" y="100.1" font-size="3.4" fill="#3a3a3a" text-anchor="middle" transform="rotate(80 103.9 100.1)">60°E</text>
<text x="54.4" y="112.7" font-size="3.4" fill="#3a3a3a" text-anchor="middle" transform="rotate(35 54.4 112.7)">120°W</text>
<text x="87.2" y="117.9" font-size="3.4" fill="#3a3a3a" text-anchor="middle" transform="rotate(-20 87.2 117.9)">180°</text>
<g clip-path="url(#cp02)">
<circle cx="76.7" cy="150.5" r="26.2" fill="#eef6fa"/>
<path d="M77.75,136.93 C78.89,136.85 80.04,136.53 81.23,136.53 C82.43,136.54 83.72,136.61 84.90,136.96 C86.08,137.30 87.34,137.82 88.29,138.59 C89.24,139.35 89.92,140.53 90.60,141.56 C91.29,142.59 92.08,143.61 92.41,144.75 C92.74,145.89 92.42,147.24 92.60,148.42 C92.78,149.60 93.35,150.65 93.49,151.81 C93.63,152.97 93.76,154.28 93.45,155.39 C93.14,156.51 92.23,157.49 91.61,158.49 C91.00,159.49 90.53,160.57 89.76,161.39 C88.98,162.20 87.82,162.58 86.98,163.38 C86.13,164.18 85.60,165.44 84.67,166.18 C83.74,166.92 82.55,167.42 81.40,167.81 C80.25,168.21 78.95,168.60 77.75,168.55 C76.54,168.50 75.23,168.08 74.16,167.51 C73.10,166.93 72.28,165.80 71.35,165.10 C70.42,164.40 69.48,163.95 68.59,163.30 C67.70,162.64 66.89,161.93 66.01,161.17 C65.12,160.42 63.93,159.74 63.29,158.77 C62.65,157.80 62.30,156.53 62.16,155.37 C62.02,154.21 62.47,153.00 62.45,151.81 C62.43,150.62 61.87,149.37 62.04,148.23 C62.22,147.08 63.03,146.07 63.49,144.94 C63.94,143.81 64.02,142.36 64.75,141.44 C65.48,140.52 66.78,139.94 67.87,139.42 C68.96,138.91 70.18,138.75 71.27,138.36 C72.35,137.96 73.30,137.28 74.38,137.04 C75.46,136.80 76.61,137.02 77.75,136.93Z" fill="none" stroke="#a8d0ea" stroke-width="7.86" opacity="0.9" filter="url(#bl2)"/>
<ellipse cx="62.29" cy="134.26" rx="7.34" ry="5.24" fill="#4a7ec8" opacity="0.85" filter="url(#bl2)" transform="rotate(-30 62.29 134.26)"/>
<ellipse cx="57.05" cy="157.05" rx="3.67" ry="8.38" fill="#f4e4a8" opacity="0.95" filter="url(#bl2)" transform="rotate(0 57.05 157.05)"/>
<ellipse cx="98.97" cy="157.05" rx="3.14" ry="5.76" fill="#f4e6b0" opacity="0.9" filter="url(#bl2)" transform="rotate(0 98.97 157.05)"/>
<ellipse cx="91.11" cy="169.36" rx="4.72" ry="2.62" fill="#f4e6b0" opacity="0.9" filter="url(#bl2)" transform="rotate(0 91.11 169.36)"/>
<ellipse cx="64.91" cy="147.88" rx="2.62" ry="5.24" fill="#f0e8c0" opacity="0.8" filter="url(#bl2)" transform="rotate(0 64.91 147.88)"/>
<ellipse cx="78.01" cy="128.23" rx="3.14" ry="3.14" fill="#f2e6b0" opacity="0.9" filter="url(#bl2)" transform="rotate(0 78.01 128.23)"/>
<path d="M93.21,142.66 A17.97,17.97 0 0 1 95.44,148.98" fill="none" stroke="#4a88c8" stroke-width="0.99" opacity="0.85"/>
<path d="M79.75,164.29 A12.64,12.64 0 0 1 73.68,163.86" fill="none" stroke="#4a88c8" stroke-width="0.41" opacity="0.85"/>
<path d="M72.75,140.69 A12.19,12.19 0 0 1 75.81,139.11" fill="none" stroke="#4a88c8" stroke-width="0.82" opacity="0.85"/>
<path d="M85.31,169.86 A19.57,19.57 0 0 1 75.79,171.03" fill="none" stroke="#7ab0dc" stroke-width="0.42" opacity="0.85"/>
<path d="M88.17,157.45 A11.85,11.85 0 0 1 86.87,161.11" fill="none" stroke="#7ab0dc" stroke-width="0.41" opacity="0.85"/>
<path d="M57.77,152.94 A20.01,20.01 0 0 1 59.05,150.33" fill="none" stroke="#4a88c8" stroke-width="0.73" opacity="0.85"/>
<path d="M88.33,158.80 A12.68,12.68 0 0 1 85.08,160.63" fill="none" stroke="#4a88c8" stroke-width="0.44" opacity="0.85"/>
<path d="M96.61,145.33 A19.95,19.95 0 0 1 98.09,152.60" fill="none" stroke="#a8d0ea" stroke-width="0.99" opacity="0.85"/>
<path d="M85.11,136.41 A17.07,17.07 0 0 1 89.42,139.76" fill="none" stroke="#7ab0dc" stroke-width="0.95" opacity="0.85"/>
<path d="M68.15,140.56 A14.79,14.79 0 0 1 71.47,138.56" fill="none" stroke="#7ab0dc" stroke-width="0.59" opacity="0.85"/>
<path d="M79.73,172.03 A20.31,20.31 0 0 1 75.64,171.12" fill="none" stroke="#a8d0ea" stroke-width="1.00" opacity="0.85"/>
<path d="M78.17,168.77 A16.97,16.97 0 0 1 73.02,168.78" fill="none" stroke="#4a88c8" stroke-width="0.74" opacity="0.85"/>
<path d="M88.48,156.75 A11.81,11.81 0 0 1 85.14,161.58" fill="none" stroke="#a8d0ea" stroke-width="0.61" opacity="0.85"/>
<path d="M70.00,136.10 A17.52,17.52 0 0 1 74.04,135.20" fill="none" stroke="#4a88c8" stroke-width="0.50" opacity="0.85"/>
<path d="M70.53,138.05 A15.53,15.53 0 0 1 73.23,137.88" fill="none" stroke="#4a88c8" stroke-width="0.81" opacity="0.85"/>
<path d="M68.67,139.52 A15.28,15.28 0 0 1 75.22,135.44" fill="none" stroke="#a8d0ea" stroke-width="0.75" opacity="0.85"/>
<path d="M67.76,140.74 A14.91,14.91 0 0 1 71.71,138.91" fill="none" stroke="#4a88c8" stroke-width="0.50" opacity="0.85"/>
<path d="M86.02,134.04 A19.60,19.60 0 0 1 92.54,139.01" fill="none" stroke="#7ab0dc" stroke-width="0.43" opacity="0.85"/>
<path d="M93.16,152.58 A15.43,15.43 0 0 1 91.80,155.64" fill="none" stroke="#4a88c8" stroke-width="0.92" opacity="0.85"/>
<path d="M68.04,159.30 A12.26,12.26 0 0 1 66.45,157.96" fill="none" stroke="#4a88c8" stroke-width="0.55" opacity="0.85"/>
<path d="M72.88,133.37 A19.07,19.07 0 0 1 78.67,134.00" fill="none" stroke="#4a88c8" stroke-width="0.94" opacity="0.85"/>
<path d="M88.83,161.67 A14.83,14.83 0 0 1 87.55,163.87" fill="none" stroke="#7ab0dc" stroke-width="0.75" opacity="0.85"/>
<path d="M64.13,142.00 A16.78,16.78 0 0 1 67.03,139.67" fill="none" stroke="#a8d0ea" stroke-width="0.41" opacity="0.85"/>
<path d="M67.87,156.06 A10.76,10.76 0 0 1 66.78,150.98" fill="none" stroke="#a8d0ea" stroke-width="0.55" opacity="0.85"/>
<path d="M72.65,133.99 A18.53,18.53 0 0 1 77.55,132.62" fill="none" stroke="#4a88c8" stroke-width="0.48" opacity="0.85"/>
<path d="M83.80,142.89 A10.78,10.78 0 0 1 84.87,143.91" fill="none" stroke="#4a88c8" stroke-width="0.44" opacity="0.85"/>
<path d="M87.32,141.50 A14.06,14.06 0 0 1 90.22,143.09" fill="none" stroke="#7ab0dc" stroke-width="0.70" opacity="0.85"/>
<path d="M90.17,149.41 A12.65,12.65 0 0 1 90.07,151.51" fill="none" stroke="#a8d0ea" stroke-width="0.85" opacity="0.85"/>
<path d="M61.33,151.08 A16.43,16.43 0 0 1 61.93,145.38" fill="none" stroke="#4a88c8" stroke-width="0.87" opacity="0.85"/>
<path d="M78.30,140.59 A11.23,11.23 0 0 1 81.66,140.55" fill="none" stroke="#4a88c8" stroke-width="0.91" opacity="0.85"/>
<path d="M95.27,149.97 A17.62,17.62 0 0 1 94.70,158.60" fill="none" stroke="#4a88c8" stroke-width="0.63" opacity="0.85"/>
<path d="M90.75,156.90 A13.96,13.96 0 0 1 87.14,162.15" fill="none" stroke="#a8d0ea" stroke-width="0.69" opacity="0.85"/>
<path d="M72.80,161.84 A11.19,11.19 0 0 1 69.73,159.97" fill="none" stroke="#7ab0dc" stroke-width="0.98" opacity="0.85"/>
<path d="M93.25,157.97 A16.68,16.68 0 0 1 89.98,163.38" fill="none" stroke="#4a88c8" stroke-width="0.77" opacity="0.85"/>
<path d="M87.75,156.96 A11.25,11.25 0 0 1 86.99,158.93" fill="none" stroke="#7ab0dc" stroke-width="0.46" opacity="0.85"/>
<path d="M86.99,133.98 A20.08,20.08 0 0 1 89.60,134.76" fill="none" stroke="#7ab0dc" stroke-width="0.70" opacity="0.85"/>
<path d="M71.61,134.04 A18.80,18.80 0 0 1 78.48,133.10" fill="none" stroke="#a8d0ea" stroke-width="0.63" opacity="0.85"/>
<path d="M84.16,160.82 A11.06,11.06 0 0 1 82.27,161.71" fill="none" stroke="#4a88c8" stroke-width="0.57" opacity="0.85"/>
<path d="M69.48,164.94 A15.51,15.51 0 0 1 65.79,162.88" fill="none" stroke="#7ab0dc" stroke-width="0.63" opacity="0.85"/>
<path d="M79.56,173.57 A21.84,21.84 0 0 1 72.22,171.81" fill="none" stroke="#7ab0dc" stroke-width="0.50" opacity="0.85"/>
<path d="M87.07,160.91 A13.03,13.03 0 0 1 83.43,163.39" fill="none" stroke="#a8d0ea" stroke-width="0.86" opacity="0.85"/>
<path d="M61.46,161.03 A18.72,18.72 0 0 1 58.60,153.18" fill="none" stroke="#4a88c8" stroke-width="0.69" opacity="0.85"/>
<path d="M77.87,166.79 A14.98,14.98 0 0 1 74.55,166.51" fill="none" stroke="#a8d0ea" stroke-width="0.99" opacity="0.85"/>
<path d="M78.32,137.67 A14.16,14.16 0 0 1 81.38,138.42" fill="none" stroke="#4a88c8" stroke-width="0.45" opacity="0.85"/>
<path d="M93.61,143.77 A17.79,17.79 0 0 1 94.99,149.02" fill="none" stroke="#a8d0ea" stroke-width="0.68" opacity="0.85"/>
<path d="M89.56,137.21 A18.78,18.78 0 0 1 94.28,144.66" fill="none" stroke="#7ab0dc" stroke-width="0.62" opacity="0.85"/>
<path d="M72.13,161.78 A11.45,11.45 0 0 1 71.26,159.69" fill="none" stroke="#a8d0ea" stroke-width="0.55" opacity="0.85"/>
<path d="M62.46,141.37 A18.51,18.51 0 0 1 64.91,139.59" fill="none" stroke="#a8d0ea" stroke-width="0.81" opacity="0.85"/>
<path d="M62.98,155.00 A15.11,15.11 0 0 1 62.91,152.55" fill="none" stroke="#7ab0dc" stroke-width="0.77" opacity="0.85"/>
<path d="M92.49,154.68 A15.01,15.01 0 0 1 91.23,156.92" fill="none" stroke="#4a88c8" stroke-width="0.99" opacity="0.85"/>
<path d="M95.22,147.93 A17.90,17.90 0 0 1 96.62,152.22" fill="none" stroke="#7ab0dc" stroke-width="0.41" opacity="0.85"/>
<path d="M77.61,169.46 A17.65,17.65 0 0 1 75.51,169.84" fill="none" stroke="#4a88c8" stroke-width="0.99" opacity="0.85"/>
<path d="M69.87,131.32 A21.95,21.95 0 0 1 73.38,131.13" fill="none" stroke="#7ab0dc" stroke-width="0.94" opacity="0.85"/>
<path d="M92.19,165.38 A19.81,19.81 0 0 1 90.46,168.10" fill="none" stroke="#a8d0ea" stroke-width="0.90" opacity="0.85"/>
<path d="M97.23,159.33 A20.89,20.89 0 0 1 94.02,163.81" fill="none" stroke="#a8d0ea" stroke-width="0.88" opacity="0.85"/>
<path d="M60.35,140.23 A20.90,20.90 0 0 1 68.11,134.71" fill="none" stroke="#a8d0ea" stroke-width="0.44" opacity="0.85"/>
<path d="M86.44,172.17 A22.14,22.14 0 0 1 77.08,174.36" fill="none" stroke="#4a88c8" stroke-width="0.44" opacity="0.85"/>
<path d="M61.43,144.72 A17.79,17.79 0 0 1 64.81,139.70" fill="none" stroke="#a8d0ea" stroke-width="0.60" opacity="0.85"/>
<path d="M91.63,153.54 A13.99,13.99 0 0 1 91.13,156.93" fill="none" stroke="#4a88c8" stroke-width="0.80" opacity="0.85"/>
<path d="M96.40,143.93 A20.25,20.25 0 0 1 96.96,146.69" fill="none" stroke="#7ab0dc" stroke-width="0.44" opacity="0.85"/>
<path d="M82.03,133.81 A18.51,18.51 0 0 1 87.33,135.51" fill="none" stroke="#4a88c8" stroke-width="0.42" opacity="0.85"/>
<path d="M91.10,150.35 A13.43,13.43 0 0 1 90.28,153.51" fill="none" stroke="#4a88c8" stroke-width="0.84" opacity="0.85"/>
<path d="M74.64,171.80 A20.23,20.23 0 0 1 72.26,170.50" fill="none" stroke="#4a88c8" stroke-width="0.84" opacity="0.85"/>
<path d="M66.53,165.96 A18.06,18.06 0 0 1 63.40,160.55" fill="none" stroke="#7ab0dc" stroke-width="0.70" opacity="0.85"/>
<path d="M94.76,141.31 A19.99,19.99 0 0 1 98.67,149.45" fill="none" stroke="#a8d0ea" stroke-width="0.43" opacity="0.85"/>
<path d="M61.65,159.27 A17.74,17.74 0 0 1 59.78,153.16" fill="none" stroke="#4a88c8" stroke-width="0.98" opacity="0.85"/>
<path d="M91.45,168.41 A21.52,21.52 0 0 1 82.47,173.60" fill="none" stroke="#4a88c8" stroke-width="0.95" opacity="0.85"/>
<path d="M87.30,146.82 A10.77,10.77 0 0 1 87.80,148.97" fill="none" stroke="#a8d0ea" stroke-width="0.50" opacity="0.85"/>
<path d="M68.95,132.88 A20.88,20.88 0 0 1 75.33,131.85" fill="none" stroke="#a8d0ea" stroke-width="0.73" opacity="0.85"/>
<path d="M57.13,148.47 A20.89,20.89 0 0 1 60.32,140.96" fill="none" stroke="#4a88c8" stroke-width="0.54" opacity="0.85"/>
<path d="M66.99,166.74 A18.40,18.40 0 0 1 63.01,164.37" fill="none" stroke="#a8d0ea" stroke-width="0.48" opacity="0.85"/>
<path d="M80.67,134.74 A17.32,17.32 0 0 1 84.58,137.25" fill="none" stroke="#a8d0ea" stroke-width="0.84" opacity="0.85"/>
<path d="M61.01,152.68 A16.76,16.76 0 0 1 61.47,149.63" fill="none" stroke="#a8d0ea" stroke-width="0.58" opacity="0.85"/>
<path d="M92.77,142.42 A17.71,17.71 0 0 1 95.04,148.42" fill="none" stroke="#7ab0dc" stroke-width="0.85" opacity="0.85"/>
<path d="M65.12,160.89 A15.55,15.55 0 0 1 63.85,158.05" fill="none" stroke="#7ab0dc" stroke-width="0.69" opacity="0.85"/>
<path d="M81.00,139.32 A12.91,12.91 0 0 1 86.53,141.34" fill="none" stroke="#7ab0dc" stroke-width="0.75" opacity="0.85"/>
<path d="M59.69,145.60 A19.10,19.10 0 0 1 62.50,138.27" fill="none" stroke="#7ab0dc" stroke-width="0.49" opacity="0.85"/>
<path d="M81.98,131.55 A20.70,20.70 0 0 1 89.41,135.36" fill="none" stroke="#7ab0dc" stroke-width="0.52" opacity="0.85"/>
<path d="M97.60,148.96 A20.06,20.06 0 0 1 97.13,156.78" fill="none" stroke="#4a88c8" stroke-width="0.42" opacity="0.85"/>
<path d="M70.52,139.34 A14.42,14.42 0 0 1 72.64,138.74" fill="none" stroke="#a8d0ea" stroke-width="0.78" opacity="0.85"/>
<path d="M65.75,168.66 A20.68,20.68 0 0 1 59.84,163.41" fill="none" stroke="#7ab0dc" stroke-width="0.79" opacity="0.85"/>
<path d="M65.85,152.99 A11.95,11.95 0 0 1 64.98,149.43" fill="none" stroke="#a8d0ea" stroke-width="0.91" opacity="0.85"/>
<path d="M68.79,140.90 A14.11,14.11 0 0 1 70.11,139.53" fill="none" stroke="#4a88c8" stroke-width="0.85" opacity="0.85"/>
<path d="M70.72,135.51 A17.76,17.76 0 0 1 72.99,134.31" fill="none" stroke="#a8d0ea" stroke-width="0.52" opacity="0.85"/>
<path d="M77.95,164.86 A13.05,13.05 0 0 1 72.85,164.43" fill="none" stroke="#7ab0dc" stroke-width="0.95" opacity="0.85"/>
<path d="M74.86,172.02 A20.42,20.42 0 0 1 72.92,171.06" fill="none" stroke="#7ab0dc" stroke-width="0.82" opacity="0.85"/>
<path d="M88.52,169.68 A20.86,20.86 0 0 1 85.90,171.45" fill="none" stroke="#4a88c8" stroke-width="1.00" opacity="0.85"/>
<path d="M93.88,150.03 A16.23,16.23 0 0 1 93.48,156.19" fill="none" stroke="#a8d0ea" stroke-width="0.62" opacity="0.85"/>
<path d="M66.58,161.51 A14.79,14.79 0 0 1 64.28,156.89" fill="none" stroke="#7ab0dc" stroke-width="0.78" opacity="0.85"/>
<path d="M81.25,164.45 A13.12,13.12 0 0 1 77.27,165.67" fill="none" stroke="#4a88c8" stroke-width="0.91" opacity="0.85"/>
<path d="M65.99,136.11 A19.61,19.61 0 0 1 73.53,131.58" fill="none" stroke="#a8d0ea" stroke-width="0.45" opacity="0.85"/>
<path d="M78.98,171.67 A19.90,19.90 0 0 1 75.73,171.15" fill="none" stroke="#7ab0dc" stroke-width="0.58" opacity="0.85"/>
<path d="M74.91,139.27 A12.86,12.86 0 0 1 78.44,140.25" fill="none" stroke="#4a88c8" stroke-width="0.91" opacity="0.85"/>
<path d="M94.25,148.77 A16.78,16.78 0 0 1 93.51,151.22" fill="none" stroke="#7ab0dc" stroke-width="0.47" opacity="0.85"/>
<path d="M86.83,142.60 A12.94,12.94 0 0 1 88.44,147.14" fill="none" stroke="#4a88c8" stroke-width="0.53" opacity="0.85"/>
<path d="M71.29,165.98 A15.57,15.57 0 0 1 68.19,165.05" fill="none" stroke="#a8d0ea" stroke-width="0.82" opacity="0.85"/>
<path d="M57.61,143.47 A21.79,21.79 0 0 1 59.80,138.09" fill="none" stroke="#a8d0ea" stroke-width="0.61" opacity="0.85"/>
<path d="M61.78,148.26 A16.36,16.36 0 0 1 61.32,146.14" fill="none" stroke="#a8d0ea" stroke-width="0.69" opacity="0.85"/>
<path d="M82.39,132.70 A19.66,19.66 0 0 1 88.41,136.05" fill="none" stroke="#7ab0dc" stroke-width="0.83" opacity="0.85"/>
<path d="M74.97,166.04 A14.50,14.50 0 0 1 72.52,165.79" fill="none" stroke="#a8d0ea" stroke-width="0.56" opacity="0.85"/>
<path d="M71.81,141.56 A11.84,11.84 0 0 1 74.09,140.31" fill="none" stroke="#7ab0dc" stroke-width="0.59" opacity="0.85"/>
<path d="M65.95,148.55 A12.24,12.24 0 0 1 68.55,144.51" fill="none" stroke="#4a88c8" stroke-width="0.56" opacity="0.85"/>
<path d="M67.83,156.69 A11.06,11.06 0 0 1 66.05,151.75" fill="none" stroke="#7ab0dc" stroke-width="0.71" opacity="0.85"/>
<path d="M85.83,141.56 A13.05,13.05 0 0 1 90.61,146.16" fill="none" stroke="#a8d0ea" stroke-width="0.52" opacity="0.85"/>
<path d="M78.25,166.17 A14.37,14.37 0 0 1 75.23,165.12" fill="none" stroke="#4a88c8" stroke-width="0.66" opacity="0.85"/>
<path d="M90.12,147.81 A13.01,13.01 0 0 1 91.44,149.04" fill="none" stroke="#7ab0dc" stroke-width="0.41" opacity="0.85"/>
<path d="M56.14,148.59 A21.85,21.85 0 0 1 60.12,140.06" fill="none" stroke="#7ab0dc" stroke-width="0.72" opacity="0.85"/>
<path d="M90.08,164.20 A17.49,17.49 0 0 1 87.67,167.25" fill="none" stroke="#a8d0ea" stroke-width="0.62" opacity="0.85"/>
<path d="M94.30,138.69 A21.12,21.12 0 0 1 97.37,142.97" fill="none" stroke="#7ab0dc" stroke-width="0.81" opacity="0.85"/>
<path d="M56.11,148.79 A21.85,21.85 0 0 1 57.80,140.68" fill="none" stroke="#4a88c8" stroke-width="0.83" opacity="0.85"/>
<path d="M96.75,158.53 A20.16,20.16 0 0 1 94.21,164.69" fill="none" stroke="#a8d0ea" stroke-width="0.64" opacity="0.85"/>
<path d="M68.06,161.39 A13.63,13.63 0 0 1 65.63,159.59" fill="none" stroke="#a8d0ea" stroke-width="0.86" opacity="0.85"/>
<path d="M88.44,150.50 A10.77,10.77 0 0 1 87.75,152.07" fill="none" stroke="#7ab0dc" stroke-width="0.99" opacity="0.85"/>
<path d="M77.82,168.35 A16.54,16.54 0 0 1 71.22,168.33" fill="none" stroke="#a8d0ea" stroke-width="0.94" opacity="0.85"/>
<path d="M91.07,166.13 A19.56,19.56 0 0 1 83.12,170.67" fill="none" stroke="#4a88c8" stroke-width="0.48" opacity="0.85"/>
<path d="M78.15,135.98 A15.84,15.84 0 0 1 80.42,135.50" fill="none" stroke="#4a88c8" stroke-width="0.44" opacity="0.85"/>
<path d="M93.07,159.96 A17.35,17.35 0 0 1 91.78,162.68" fill="none" stroke="#a8d0ea" stroke-width="0.57" opacity="0.85"/>
<path d="M60.83,150.01 A17.01,17.01 0 0 1 64.06,142.71" fill="none" stroke="#4a88c8" stroke-width="0.82" opacity="0.85"/>
<path d="M66.11,144.94 A13.51,13.51 0 0 1 70.57,139.98" fill="none" stroke="#7ab0dc" stroke-width="0.93" opacity="0.85"/>
<path d="M94.40,153.40 A16.73,16.73 0 0 1 93.92,157.44" fill="none" stroke="#a8d0ea" stroke-width="0.61" opacity="0.85"/>
<path d="M72.61,132.68 A19.80,19.80 0 0 1 75.51,130.82" fill="none" stroke="#8cc0e4" stroke-width="0.82" opacity="0.8"/>
<path d="M52.96,153.43 A24.84,24.84 0 0 1 55.76,142.87" fill="none" stroke="#ffffff" stroke-width="0.98" opacity="0.8"/>
<path d="M101.09,162.70 A25.76,25.76 0 0 1 96.46,170.21" fill="none" stroke="#ffffff" stroke-width="0.82" opacity="0.8"/>
<path d="M84.79,129.38 A23.51,23.51 0 0 1 93.55,135.08" fill="none" stroke="#8cc0e4" stroke-width="0.51" opacity="0.8"/>
<path d="M93.50,133.15 A24.42,24.42 0 0 1 99.55,138.22" fill="none" stroke="#8cc0e4" stroke-width="0.82" opacity="0.8"/>
<path d="M60.94,171.54 A25.92,25.92 0 0 1 57.69,167.43" fill="none" stroke="#8cc0e4" stroke-width="0.57" opacity="0.8"/>
<path d="M100.04,154.71 A22.48,22.48 0 0 1 97.05,162.51" fill="none" stroke="#8cc0e4" stroke-width="0.65" opacity="0.8"/>
<path d="M103.18,152.06 A25.43,25.43 0 0 1 102.28,157.39" fill="none" stroke="#8cc0e4" stroke-width="0.58" opacity="0.8"/>
<path d="M93.14,166.96 A21.60,21.60 0 0 1 87.45,171.39" fill="none" stroke="#ffffff" stroke-width="0.85" opacity="0.8"/>
<path d="M65.77,135.49 A20.24,20.24 0 0 1 70.62,133.02" fill="none" stroke="#8cc0e4" stroke-width="0.66" opacity="0.8"/>
<path d="M92.59,173.02 A25.89,25.89 0 0 1 81.34,177.48" fill="none" stroke="#ffffff" stroke-width="0.40" opacity="0.8"/>
<path d="M82.81,171.00 A19.85,19.85 0 0 1 79.32,171.27" fill="none" stroke="#8cc0e4" stroke-width="0.60" opacity="0.8"/>
<path d="M93.30,164.22 A19.89,19.89 0 0 1 90.94,166.83" fill="none" stroke="#8cc0e4" stroke-width="0.79" opacity="0.8"/>
<path d="M89.87,135.34 A20.45,20.45 0 0 1 91.93,138.38" fill="none" stroke="#ffffff" stroke-width="0.43" opacity="0.8"/>
<path d="M91.81,136.84 A20.54,20.54 0 0 1 95.87,143.42" fill="none" stroke="#ffffff" stroke-width="0.69" opacity="0.8"/>
<path d="M88.16,128.09 A25.90,25.90 0 0 1 95.59,134.46" fill="none" stroke="#ffffff" stroke-width="0.97" opacity="0.8"/>
<path d="M80.46,128.16 A23.81,23.81 0 0 1 87.16,130.40" fill="none" stroke="#8cc0e4" stroke-width="0.78" opacity="0.8"/>
<path d="M65.85,168.88 A20.81,20.81 0 0 1 61.29,162.64" fill="none" stroke="#8cc0e4" stroke-width="0.61" opacity="0.8"/>
<path d="M92.16,136.09 A21.32,21.32 0 0 1 95.59,138.46" fill="none" stroke="#8cc0e4" stroke-width="0.41" opacity="0.8"/>
<path d="M54.05,151.43 A23.70,23.70 0 0 1 55.71,143.81" fill="none" stroke="#8cc0e4" stroke-width="0.84" opacity="0.8"/>
<path d="M68.72,134.07 A19.90,19.90 0 0 1 77.02,132.24" fill="none" stroke="#8cc0e4" stroke-width="0.52" opacity="0.8"/>
<path d="M57.78,151.34 A19.97,19.97 0 0 1 58.72,144.27" fill="none" stroke="#ffffff" stroke-width="0.68" opacity="0.8"/>
<path d="M99.14,151.68 A21.39,21.39 0 0 1 97.65,155.56" fill="none" stroke="#8cc0e4" stroke-width="0.51" opacity="0.8"/>
<path d="M73.02,132.54 A19.85,19.85 0 0 1 77.50,132.86" fill="none" stroke="#ffffff" stroke-width="0.43" opacity="0.8"/>
<path d="M79.80,176.39 A24.67,24.67 0 0 1 77.08,175.17" fill="none" stroke="#ffffff" stroke-width="0.91" opacity="0.8"/>
<path d="M98.20,149.66 A20.57,20.57 0 0 1 97.46,155.99" fill="none" stroke="#8cc0e4" stroke-width="0.82" opacity="0.8"/>
<path d="M61.89,171.39 A25.19,25.19 0 0 1 58.39,169.74" fill="none" stroke="#ffffff" stroke-width="0.57" opacity="0.8"/>
<path d="M60.05,139.87 A21.35,21.35 0 0 1 62.81,136.47" fill="none" stroke="#ffffff" stroke-width="0.90" opacity="0.8"/>
<path d="M76.20,176.77 A25.00,25.00 0 0 1 66.55,175.55" fill="none" stroke="#8cc0e4" stroke-width="0.70" opacity="0.8"/>
<path d="M94.54,162.96 A20.16,20.16 0 0 1 88.24,169.53" fill="none" stroke="#8cc0e4" stroke-width="0.82" opacity="0.8"/>
<path d="M88.96,133.04 A21.87,21.87 0 0 1 95.24,140.74" fill="none" stroke="#8cc0e4" stroke-width="0.52" opacity="0.8"/>
<path d="M92.73,164.53 A19.65,19.65 0 0 1 84.97,169.58" fill="none" stroke="#8cc0e4" stroke-width="0.47" opacity="0.8"/>
<path d="M76.74,175.58 A23.79,23.79 0 0 1 74.08,174.16" fill="none" stroke="#8cc0e4" stroke-width="0.95" opacity="0.8"/>
<path d="M99.42,152.85 A21.70,21.70 0 0 1 99.70,157.87" fill="none" stroke="#ffffff" stroke-width="0.59" opacity="0.8"/>
<path d="M59.87,160.76 A19.99,19.99 0 0 1 58.47,152.72" fill="none" stroke="#ffffff" stroke-width="0.81" opacity="0.8"/>
<path d="M78.18,131.39 A20.42,20.42 0 0 1 82.07,132.35" fill="none" stroke="#8cc0e4" stroke-width="0.96" opacity="0.8"/>
<path d="M94.05,132.79 A25.05,25.05 0 0 1 101.84,141.64" fill="none" stroke="#8cc0e4" stroke-width="0.69" opacity="0.8"/>
<path d="M90.48,173.30 A24.98,24.98 0 0 1 84.83,175.23" fill="none" stroke="#8cc0e4" stroke-width="0.93" opacity="0.8"/>
<path d="M72.68,132.55 A19.92,19.92 0 0 1 77.59,130.72" fill="none" stroke="#8cc0e4" stroke-width="0.46" opacity="0.8"/>
<path d="M56.83,141.55 A23.29,23.29 0 0 1 62.59,134.32" fill="none" stroke="#ffffff" stroke-width="1.00" opacity="0.8"/>
<path d="M57.13,142.07 A22.80,22.80 0 0 1 58.10,138.75" fill="none" stroke="#ffffff" stroke-width="0.44" opacity="0.8"/>
<path d="M99.43,165.50 A25.64,25.64 0 0 1 95.47,170.64" fill="none" stroke="#ffffff" stroke-width="0.66" opacity="0.8"/>
<path d="M72.30,173.80 A22.66,22.66 0 0 1 66.43,172.49" fill="none" stroke="#ffffff" stroke-width="0.62" opacity="0.8"/>
<path d="M97.42,156.33 A20.19,20.19 0 0 1 95.99,158.06" fill="none" stroke="#ffffff" stroke-width="0.85" opacity="0.8"/>
<path d="M89.66,130.02 A24.83,24.83 0 0 1 95.55,135.38" fill="none" stroke="#8cc0e4" stroke-width="0.41" opacity="0.8"/>
<path d="M67.39,132.81 A21.64,21.64 0 0 1 74.31,131.14" fill="none" stroke="#8cc0e4" stroke-width="0.96" opacity="0.8"/>
<path d="M97.63,163.96 A23.30,23.30 0 0 1 93.26,168.04" fill="none" stroke="#ffffff" stroke-width="0.80" opacity="0.8"/>
<path d="M84.52,173.20 A22.44,22.44 0 0 1 75.14,174.82" fill="none" stroke="#8cc0e4" stroke-width="0.87" opacity="0.8"/>
<path d="M101.58,148.10 A24.12,24.12 0 0 1 101.75,155.63" fill="none" stroke="#8cc0e4" stroke-width="0.77" opacity="0.8"/>
<path d="M102.65,150.47 A24.94,24.94 0 0 1 103.26,157.79" fill="none" stroke="#8cc0e4" stroke-width="0.75" opacity="0.8"/>
<circle cx="66.26" cy="129.32" r="0.92" fill="#ffffff" opacity="0.9"/>
<circle cx="87.13" cy="135.61" r="0.60" fill="#ffffff" opacity="0.9"/>
<circle cx="75.82" cy="161.88" r="0.43" fill="#ffffff" opacity="0.9"/>
<circle cx="81.81" cy="163.01" r="0.62" fill="#ffffff" opacity="0.9"/>
<circle cx="79.21" cy="142.49" r="0.80" fill="#ffffff" opacity="0.9"/>
<circle cx="85.94" cy="167.00" r="0.81" fill="#ffffff" opacity="0.9"/>
<circle cx="84.65" cy="157.45" r="0.85" fill="#ffffff" opacity="0.9"/>
<circle cx="67.16" cy="168.69" r="0.73" fill="#ffffff" opacity="0.9"/>
<circle cx="75.09" cy="137.54" r="0.83" fill="#ffffff" opacity="0.9"/>
<circle cx="91.23" cy="164.26" r="0.76" fill="#ffffff" opacity="0.9"/>
<circle cx="86.42" cy="155.52" r="0.63" fill="#ffffff" opacity="0.9"/>
<circle cx="59.43" cy="155.55" r="0.61" fill="#ffffff" opacity="0.9"/>
<circle cx="69.01" cy="158.82" r="0.42" fill="#ffffff" opacity="0.9"/>
<circle cx="98.19" cy="161.97" r="0.44" fill="#ffffff" opacity="0.9"/>
<circle cx="84.11" cy="144.53" r="0.33" fill="#ffffff" opacity="0.9"/>
<circle cx="95.88" cy="154.75" r="0.87" fill="#ffffff" opacity="0.9"/>
<circle cx="90.54" cy="158.93" r="0.50" fill="#ffffff" opacity="0.9"/>
<circle cx="98.57" cy="159.28" r="0.68" fill="#ffffff" opacity="0.9"/>
<circle cx="87.56" cy="152.33" r="0.85" fill="#ffffff" opacity="0.9"/>
<circle cx="55.52" cy="157.94" r="0.47" fill="#ffffff" opacity="0.9"/>
<circle cx="70.78" cy="175.52" r="0.71" fill="#ffffff" opacity="0.9"/>
<circle cx="74.08" cy="141.52" r="0.98" fill="#ffffff" opacity="0.9"/>
<circle cx="83.08" cy="137.26" r="0.32" fill="#ffffff" opacity="0.9"/>
<circle cx="58.70" cy="144.33" r="0.98" fill="#ffffff" opacity="0.9"/>
<circle cx="53.98" cy="143.26" r="0.68" fill="#ffffff" opacity="0.9"/>
<circle cx="76.15" cy="130.27" r="0.54" fill="#ffffff" opacity="0.9"/>
<circle cx="75.38" cy="137.23" r="0.44" fill="#ffffff" opacity="0.9"/>
<circle cx="85.28" cy="137.23" r="0.44" fill="#ffffff" opacity="0.9"/>
<circle cx="67.50" cy="128.69" r="0.45" fill="#ffffff" opacity="0.9"/>
<circle cx="88.38" cy="137.83" r="0.42" fill="#ffffff" opacity="0.9"/>
<circle cx="71.58" cy="173.73" r="0.48" fill="#ffffff" opacity="0.9"/>
<circle cx="89.26" cy="173.30" r="0.61" fill="#ffffff" opacity="0.9"/>
<circle cx="97.97" cy="165.15" r="0.87" fill="#ffffff" opacity="0.9"/>
<circle cx="65.22" cy="135.62" r="0.59" fill="#ffffff" opacity="0.9"/>
<circle cx="56.13" cy="159.90" r="0.75" fill="#ffffff" opacity="0.9"/>
<circle cx="90.99" cy="150.85" r="0.59" fill="#ffffff" opacity="0.9"/>
<circle cx="59.84" cy="149.36" r="0.68" fill="#ffffff" opacity="0.9"/>
<circle cx="69.02" cy="147.25" r="0.74" fill="#ffffff" opacity="0.9"/>
<circle cx="93.49" cy="160.79" r="0.88" fill="#ffffff" opacity="0.9"/>
<circle cx="103.06" cy="151.55" r="0.36" fill="#ffffff" opacity="0.9"/>
<circle cx="70.99" cy="168.27" r="0.46" fill="#ffffff" opacity="0.9"/>
<circle cx="71.59" cy="167.11" r="0.61" fill="#ffffff" opacity="0.9"/>
<circle cx="69.97" cy="153.38" r="0.56" fill="#ffffff" opacity="0.9"/>
<circle cx="67.55" cy="149.49" r="0.91" fill="#ffffff" opacity="0.9"/>
<circle cx="97.24" cy="145.96" r="0.42" fill="#ffffff" opacity="0.9"/>
<circle cx="82.63" cy="166.63" r="0.36" fill="#ffffff" opacity="0.9"/>
<circle cx="61.91" cy="157.00" r="0.78" fill="#ffffff" opacity="0.9"/>
<circle cx="73.35" cy="169.32" r="0.67" fill="#ffffff" opacity="0.9"/>
<circle cx="101.00" cy="159.01" r="0.36" fill="#ffffff" opacity="0.9"/>
<circle cx="61.16" cy="134.89" r="0.65" fill="#ffffff" opacity="0.9"/>
<circle cx="57.83" cy="148.40" r="0.72" fill="#ffffff" opacity="0.9"/>
<circle cx="91.00" cy="155.36" r="0.54" fill="#ffffff" opacity="0.9"/>
<circle cx="101.85" cy="160.01" r="0.54" fill="#ffffff" opacity="0.9"/>
<circle cx="87.85" cy="163.64" r="0.87" fill="#ffffff" opacity="0.9"/>
<circle cx="80.26" cy="169.65" r="0.48" fill="#ffffff" opacity="0.9"/>
<circle cx="87.09" cy="153.48" r="0.45" fill="#ffffff" opacity="0.9"/>
<circle cx="101.15" cy="153.86" r="0.65" fill="#ffffff" opacity="0.9"/>
<circle cx="88.20" cy="139.24" r="0.38" fill="#ffffff" opacity="0.9"/>
<circle cx="71.31" cy="166.42" r="0.90" fill="#ffffff" opacity="0.9"/>
<circle cx="101.17" cy="153.18" r="0.47" fill="#ffffff" opacity="0.9"/>
<path d="M77.75,138.73 C78.75,138.68 79.80,138.36 80.79,138.50 C81.77,138.63 82.80,139.02 83.66,139.52 C84.53,140.02 85.25,140.81 85.98,141.49 C86.71,142.16 87.56,142.77 88.07,143.58 C88.58,144.39 88.77,145.45 89.05,146.37 C89.32,147.28 89.50,148.17 89.73,149.08 C89.95,149.98 90.31,150.88 90.38,151.81 C90.45,152.74 90.24,153.67 90.16,154.64 C90.08,155.62 90.07,156.62 89.89,157.66 C89.70,158.69 89.68,160.05 89.06,160.83 C88.44,161.61 87.10,161.89 86.16,162.36 C85.23,162.83 84.41,163.46 83.45,163.66 C82.50,163.86 81.39,163.44 80.43,163.58 C79.48,163.72 78.68,164.32 77.75,164.49 C76.81,164.67 75.73,164.85 74.82,164.62 C73.92,164.39 73.19,163.54 72.30,163.12 C71.42,162.71 70.35,162.63 69.51,162.14 C68.67,161.65 67.86,160.95 67.26,160.17 C66.66,159.40 66.39,158.39 65.93,157.50 C65.48,156.61 64.86,155.78 64.51,154.83 C64.16,153.88 63.82,152.81 63.83,151.81 C63.85,150.81 64.08,149.68 64.58,148.81 C65.09,147.93 66.18,147.28 66.84,146.56 C67.50,145.83 68.02,145.22 68.53,144.46 C69.04,143.70 69.31,142.70 69.92,142.00 C70.53,141.29 71.37,140.78 72.18,140.25 C72.99,139.72 73.86,139.09 74.79,138.83 C75.71,138.58 76.75,138.79 77.75,138.73Z" fill="none" stroke="#3c4650" stroke-width="0.35" opacity="0.5"/>
<path d="M77.75,135.26 C78.96,135.14 80.35,135.06 81.48,135.47 C82.61,135.88 83.61,136.94 84.54,137.71 C85.47,138.49 86.24,139.34 87.06,140.13 C87.88,140.93 88.77,141.61 89.44,142.48 C90.11,143.36 90.50,144.41 91.08,145.39 C91.66,146.36 92.43,147.28 92.92,148.35 C93.41,149.42 93.77,150.60 94.01,151.81 C94.25,153.02 94.57,154.40 94.36,155.60 C94.14,156.80 93.43,158.01 92.72,159.02 C92.02,160.03 91.06,160.93 90.12,161.67 C89.17,162.42 88.02,162.84 87.06,163.49 C86.10,164.13 85.36,165.02 84.37,165.57 C83.39,166.12 82.27,166.49 81.17,166.80 C80.07,167.11 78.90,167.36 77.75,167.41 C76.60,167.46 75.40,167.31 74.26,167.08 C73.12,166.85 71.99,166.49 70.89,166.05 C69.80,165.60 68.74,165.04 67.70,164.41 C66.66,163.78 65.46,163.16 64.63,162.27 C63.81,161.37 63.10,160.20 62.75,159.03 C62.41,157.86 62.49,156.48 62.57,155.27 C62.66,154.07 63.09,152.92 63.27,151.81 C63.44,150.70 63.43,149.65 63.63,148.59 C63.83,147.52 64.15,146.50 64.47,145.42 C64.79,144.33 65.08,143.19 65.57,142.10 C66.06,141.01 66.56,139.67 67.42,138.86 C68.29,138.06 69.63,137.73 70.75,137.28 C71.88,136.84 73.02,136.53 74.18,136.20 C75.35,135.86 76.53,135.38 77.75,135.26Z" fill="none" stroke="#3c4650" stroke-width="0.35" opacity="0.5"/>
<path d="M77.75,133.00 C79.14,133.12 80.59,133.35 81.83,133.92 C83.07,134.49 84.09,135.63 85.17,136.40 C86.25,137.18 87.24,137.84 88.31,138.57 C89.37,139.30 90.55,139.92 91.55,140.81 C92.54,141.69 93.46,142.73 94.26,143.86 C95.07,144.98 95.82,146.24 96.36,147.56 C96.91,148.89 97.64,150.42 97.53,151.81 C97.42,153.20 96.31,154.62 95.69,155.90 C95.06,157.19 94.36,158.29 93.78,159.53 C93.21,160.78 93.04,162.30 92.25,163.37 C91.46,164.44 90.13,165.15 89.04,165.97 C87.95,166.79 86.92,167.81 85.69,168.30 C84.46,168.79 82.98,168.70 81.65,168.91 C80.33,169.12 79.07,169.47 77.75,169.55 C76.43,169.63 75.16,169.38 73.74,169.37 C72.32,169.35 70.69,169.74 69.25,169.45 C67.82,169.16 66.21,168.58 65.13,167.63 C64.04,166.69 63.37,165.10 62.75,163.77 C62.13,162.45 61.70,161.04 61.40,159.68 C61.09,158.33 61.00,156.96 60.92,155.65 C60.85,154.34 61.12,153.13 60.95,151.81 C60.78,150.49 59.92,149.09 59.91,147.74 C59.90,146.39 60.33,144.93 60.90,143.70 C61.47,142.46 62.39,141.31 63.33,140.31 C64.26,139.31 65.47,138.65 66.49,137.70 C67.52,136.75 68.29,135.34 69.46,134.59 C70.62,133.84 72.12,133.47 73.50,133.20 C74.88,132.94 76.36,132.88 77.75,133.00Z" fill="none" stroke="#3c4650" stroke-width="0.35" opacity="0.5"/>
</g>
<g clip-path="url(#cp02L)"><path d="M68.05,148.40 C68.45,146.66 69.50,144.04 70.41,142.64 C71.33,141.24 72.60,140.28 73.56,140.02 C74.52,139.76 75.43,140.50 76.18,141.07 C76.92,141.64 78.80,142.90 78.01,143.43 C77.22,143.95 72.86,143.64 71.46,144.21 C70.06,144.78 69.93,145.87 69.63,146.83 C69.32,147.79 69.28,149.15 69.63,149.98 C69.98,150.81 70.98,151.29 71.72,151.81 C72.46,152.33 73.82,152.47 74.08,153.12 C74.34,153.78 73.82,155.00 73.29,155.74 C72.77,156.48 71.59,157.36 70.94,157.57 C70.28,157.79 69.84,157.79 69.36,157.05 C68.88,156.31 68.27,154.56 68.05,153.12 C67.84,151.68 67.66,150.15 68.05,148.40Z" fill="#eef4f8" opacity="0.55"/>
<path d="M64.91,124.30 C66.13,123.86 71.59,123.43 73.03,124.30 C74.47,125.17 73.51,127.88 73.56,129.54 C73.60,131.20 73.51,132.95 73.29,134.26 C73.08,135.57 72.73,137.14 72.25,137.40 C71.77,137.66 71.15,136.88 70.41,135.83 C69.67,134.78 68.58,132.60 67.79,131.11 C67.01,129.63 66.18,128.06 65.70,126.92 C65.22,125.78 63.69,124.74 64.91,124.30Z" fill="#b3b3b3"/>
<path d="M96.61,136.88 C97.05,136.09 99.10,136.26 100.28,136.88 C101.46,137.49 103.12,138.71 103.69,140.54 C104.25,142.38 104.25,146.92 103.69,147.88 C103.12,148.84 101.28,147.36 100.28,146.31 C99.28,145.26 98.27,143.16 97.66,141.59 C97.05,140.02 96.18,137.66 96.61,136.88Z" fill="#b3b3b3"/>
<path d="M67.27,177.49 C65.17,176.79 67.92,174.25 68.84,173.29 C69.76,172.33 71.46,171.85 72.77,171.72 C74.08,171.59 75.52,172.46 76.70,172.51 C77.88,172.55 78.97,171.63 79.84,171.98 C80.72,172.33 81.68,173.69 81.94,174.60 C82.20,175.52 83.86,177.01 81.42,177.49 C78.97,177.97 69.36,178.18 67.27,177.49Z" fill="#b3b3b3"/>
<path d="M71.46,144.21 C72.42,143.64 73.99,143.51 75.39,143.43 C76.79,143.34 78.53,143.29 79.84,143.69 C81.15,144.08 82.38,144.74 83.25,145.78 C84.12,146.83 84.73,148.49 85.08,149.98 C85.43,151.46 85.56,153.21 85.35,154.69 C85.13,156.18 84.60,157.79 83.77,158.88 C82.94,159.98 81.59,160.81 80.37,161.24 C79.15,161.68 77.66,161.72 76.44,161.50 C75.22,161.29 73.95,160.59 73.03,159.93 C72.11,159.28 70.89,158.27 70.94,157.57 C70.98,156.88 72.77,156.48 73.29,155.74 C73.82,155.00 74.34,153.78 74.08,153.12 C73.82,152.47 72.46,152.33 71.72,151.81 C70.98,151.29 69.98,150.81 69.63,149.98 C69.28,149.15 69.32,147.79 69.63,146.83 C69.93,145.87 70.50,144.78 71.46,144.21Z" fill="#b3b3b3"/></g>
<circle cx="76.7" cy="150.5" r="26.2" fill="none" stroke="#a8a8a8" stroke-width="0.5"/>
<text x="68.8" y="124.3" font-size="3.4" fill="#3a3a3a" text-anchor="middle" transform="rotate(-25 68.8 124.3)">60°W</text>
<text x="92.9" y="129.0" font-size="3.4" fill="#3a3a3a" text-anchor="middle" transform="rotate(40 92.9 129.0)">0°</text>
<text x="49.2" y="147.4" font-size="3.4" fill="#3a3a3a" text-anchor="middle" transform="rotate(-75 49.2 147.4)">90°W</text>
<text x="103.9" y="158.9" font-size="3.4" fill="#3a3a3a" text-anchor="middle" transform="rotate(80 103.9 158.9)">60°E</text>
<text x="54.4" y="171.5" font-size="3.4" fill="#3a3a3a" text-anchor="middle" transform="rotate(35 54.4 171.5)">120°W</text>
<text x="87.2" y="176.7" font-size="3.4" fill="#3a3a3a" text-anchor="middle" transform="rotate(-20 87.2 176.7)">180°</text>
<path d="M76.70,149.30 L77.60,151.30 L75.80,151.30 Z" fill="#111"/>
<g clip-path="url(#cp03)">
<circle cx="76.7" cy="209.0" r="26.2" fill="#94c3e6"/>
<circle cx="76.7" cy="209.0" r="24.89" fill="none" stroke="#d4eaf5" stroke-width="3.14" filter="url(#bl1)"/>
<ellipse cx="62.29" cy="209.00" rx="7.86" ry="14.41" fill="#6496d2" opacity="0.9" filter="url(#bl2)" transform="rotate(0 62.29 209.00)"/>
<ellipse cx="74.08" cy="227.86" rx="11.79" ry="4.72" fill="#7aaad8" opacity="0.8" filter="url(#bl2)" transform="rotate(0 74.08 227.86)"/>
<ellipse cx="91.11" cy="218.17" rx="7.86" ry="9.17" fill="#88b8e0" opacity="0.7" filter="url(#bl2)" transform="rotate(0 91.11 218.17)"/>
<ellipse cx="61.50" cy="191.18" rx="7.86" ry="5.24" fill="#2f58ad" opacity="0.95" filter="url(#bl1)" transform="rotate(-35 61.50 191.18)"/>
<ellipse cx="64.91" cy="197.21" rx="4.72" ry="3.93" fill="#5a88c8" opacity="0.8" filter="url(#bl2)" transform="rotate(0 64.91 197.21)"/>
<ellipse cx="84.56" cy="197.21" rx="9.17" ry="3.67" fill="#eef0d6" opacity="0.9" filter="url(#bl2)" transform="rotate(15 84.56 197.21)"/>
<ellipse cx="92.94" cy="193.28" rx="5.76" ry="3.14" fill="#f5e2a2" opacity="0.95" filter="url(#bl2)" transform="rotate(35 92.94 193.28)"/>
<ellipse cx="79.32" cy="186.73" rx="6.55" ry="2.62" fill="#f3dca8" opacity="0.9" filter="url(#bl2)" transform="rotate(0 79.32 186.73)"/>
<ellipse cx="80.63" cy="189.09" rx="8.38" ry="3.41" fill="#f0a060" opacity="0.9" filter="url(#bl1)" transform="rotate(12 80.63 189.09)"/>
<ellipse cx="76.18" cy="189.87" rx="4.45" ry="3.14" fill="#b01812" opacity="1" filter="url(#bl05)" transform="rotate(5 76.18 189.87)"/>
<ellipse cx="59.41" cy="216.34" rx="3.41" ry="6.81" fill="#f2dc8c" opacity="1" filter="url(#bl1)" transform="rotate(15 59.41 216.34)"/>
<ellipse cx="59.41" cy="217.91" rx="1.57" ry="2.62" fill="#f0b060" opacity="0.8" filter="url(#bl1)" transform="rotate(0 59.41 217.91)"/>
<path d="M77.75,193.27 C79.01,193.36 80.34,193.48 81.48,193.94 C82.63,194.41 83.60,195.38 84.62,196.05 C85.63,196.72 86.60,197.30 87.58,197.98 C88.56,198.66 89.63,199.30 90.49,200.15 C91.35,201.00 92.07,202.03 92.74,203.09 C93.41,204.15 94.01,205.28 94.50,206.49 C94.99,207.69 95.74,209.05 95.66,210.31 C95.59,211.57 94.61,212.86 94.07,214.04 C93.53,215.21 92.93,216.23 92.43,217.38 C91.93,218.53 91.81,219.96 91.08,220.94 C90.36,221.93 89.10,222.52 88.09,223.28 C87.09,224.04 86.18,225.01 85.05,225.48 C83.93,225.95 82.57,225.88 81.35,226.08 C80.13,226.28 78.96,226.64 77.75,226.68 C76.54,226.72 75.37,226.39 74.09,226.33 C72.81,226.26 71.35,226.56 70.06,226.27 C68.77,225.98 67.35,225.44 66.36,224.59 C65.38,223.74 64.76,222.33 64.15,221.15 C63.54,219.98 63.04,218.77 62.71,217.55 C62.37,216.34 62.20,215.08 62.13,213.88 C62.05,212.67 62.36,211.53 62.23,210.31 C62.10,209.09 61.34,207.80 61.36,206.57 C61.38,205.34 61.84,204.03 62.38,202.91 C62.92,201.79 63.77,200.75 64.62,199.84 C65.48,198.93 66.58,198.34 67.51,197.47 C68.44,196.60 69.12,195.27 70.18,194.60 C71.25,193.93 72.64,193.66 73.90,193.44 C75.16,193.22 76.48,193.19 77.75,193.27Z" fill="none" stroke="#e2f0f6" stroke-width="2.36" opacity="0.85" filter="url(#bl1)"/>
<path d="M77.75,197.94 C78.69,198.21 79.49,198.58 80.38,198.80 C81.27,199.01 82.21,198.95 83.09,199.21 C83.98,199.47 84.86,199.88 85.69,200.35 C86.52,200.83 87.36,201.39 88.08,202.07 C88.81,202.74 89.51,203.53 90.04,204.39 C90.57,205.25 91.06,206.24 91.25,207.23 C91.43,208.22 91.23,209.30 91.14,210.31 C91.05,211.32 91.02,212.34 90.70,213.27 C90.39,214.19 89.72,214.99 89.25,215.85 C88.78,216.70 88.52,217.71 87.89,218.40 C87.26,219.09 86.30,219.53 85.49,220.02 C84.68,220.50 83.87,220.89 83.04,221.30 C82.21,221.71 81.41,222.10 80.53,222.48 C79.64,222.85 78.75,223.25 77.75,223.56 C76.75,223.88 75.56,224.46 74.54,224.37 C73.52,224.28 72.48,223.62 71.62,223.03 C70.76,222.44 70.03,221.59 69.38,220.81 C68.73,220.02 68.14,219.19 67.71,218.32 C67.28,217.44 67.19,216.44 66.82,215.57 C66.45,214.71 65.86,213.99 65.47,213.11 C65.09,212.23 64.63,211.28 64.49,210.31 C64.36,209.34 64.47,208.30 64.65,207.32 C64.83,206.34 65.17,205.37 65.57,204.45 C65.97,203.52 66.40,202.52 67.07,201.79 C67.73,201.06 68.78,200.70 69.57,200.05 C70.35,199.40 70.91,198.38 71.77,197.90 C72.63,197.42 73.75,197.15 74.75,197.16 C75.74,197.17 76.81,197.66 77.75,197.94Z" fill="none" stroke="#6a9fd4" stroke-width="3.67" opacity="0.85" filter="url(#bl1)"/>
<ellipse cx="67.27" cy="212.14" rx="3.41" ry="6.29" fill="#2442a0" opacity="1" filter="url(#bl1)" transform="rotate(0 67.27 212.14)"/>
<ellipse cx="79.32" cy="227.86" rx="9.17" ry="3.14" fill="#b8daf0" opacity="0.8" filter="url(#bl2)" transform="rotate(0 79.32 227.86)"/>
<path d="M80.94,230.14 A20.08,20.08 0 0 1 73.88,229.06" fill="none" stroke="#ffffff" stroke-width="0.80" opacity="0.5"/>
<path d="M79.62,227.32 A17.11,17.11 0 0 1 73.32,227.83" fill="none" stroke="#ffffff" stroke-width="0.58" opacity="0.5"/>
<path d="M63.47,219.21 A16.82,16.82 0 0 1 63.06,216.50" fill="none" stroke="#ffffff" stroke-width="0.33" opacity="0.5"/>
<path d="M59.24,201.77 A20.38,20.38 0 0 1 60.87,199.67" fill="none" stroke="#4a80c4" stroke-width="0.70" opacity="0.5"/>
<path d="M89.38,191.29 A22.29,22.29 0 0 1 97.06,198.35" fill="none" stroke="#ffffff" stroke-width="0.35" opacity="0.5"/>
<path d="M76.77,198.25 A12.10,12.10 0 0 1 82.36,199.34" fill="none" stroke="#ffffff" stroke-width="0.57" opacity="0.5"/>
<path d="M61.17,192.20 A24.55,24.55 0 0 1 67.37,186.95" fill="none" stroke="#d8ecf6" stroke-width="0.39" opacity="0.5"/>
<path d="M62.62,203.68 A16.52,16.52 0 0 1 64.64,199.86" fill="none" stroke="#4a80c4" stroke-width="0.60" opacity="0.5"/>
<path d="M74.76,221.59 A11.67,11.67 0 0 1 71.48,219.18" fill="none" stroke="#d8ecf6" stroke-width="0.43" opacity="0.5"/>
<path d="M71.95,195.36 A16.04,16.04 0 0 1 78.93,194.82" fill="none" stroke="#4a80c4" stroke-width="0.42" opacity="0.5"/>
<path d="M94.52,224.78 A22.15,22.15 0 0 1 89.41,229.15" fill="none" stroke="#ffffff" stroke-width="0.49" opacity="0.5"/>
<path d="M69.35,203.44 A10.85,10.85 0 0 1 69.86,202.21" fill="none" stroke="#ffffff" stroke-width="0.49" opacity="0.5"/>
<path d="M59.52,207.78 A18.41,18.41 0 0 1 60.86,205.48" fill="none" stroke="#d8ecf6" stroke-width="0.44" opacity="0.5"/>
<path d="M85.52,227.82 A19.16,19.16 0 0 1 80.09,229.92" fill="none" stroke="#d8ecf6" stroke-width="0.53" opacity="0.5"/>
<path d="M94.51,205.87 A17.34,17.34 0 0 1 96.27,209.45" fill="none" stroke="#4a80c4" stroke-width="0.42" opacity="0.5"/>
<path d="M76.42,191.97 A18.39,18.39 0 0 1 81.47,193.15" fill="none" stroke="#d8ecf6" stroke-width="0.41" opacity="0.5"/>
<path d="M63.02,228.84 A23.67,23.67 0 0 1 55.41,220.28" fill="none" stroke="#ffffff" stroke-width="0.42" opacity="0.5"/>
<path d="M78.80,190.94 A19.40,19.40 0 0 1 81.25,189.94" fill="none" stroke="#d8ecf6" stroke-width="0.55" opacity="0.5"/>
<path d="M81.01,188.73 A21.83,21.83 0 0 1 86.15,189.23" fill="none" stroke="#d8ecf6" stroke-width="0.36" opacity="0.5"/>
<path d="M60.61,206.57 A17.54,17.54 0 0 1 62.82,201.85" fill="none" stroke="#d8ecf6" stroke-width="0.77" opacity="0.5"/>
<path d="M68.70,198.75 A14.68,14.68 0 0 1 70.25,196.56" fill="none" stroke="#4a80c4" stroke-width="0.47" opacity="0.5"/>
<path d="M64.88,199.37 A16.89,16.89 0 0 1 69.13,194.90" fill="none" stroke="#d8ecf6" stroke-width="0.44" opacity="0.5"/>
<path d="M98.22,210.95 A20.48,20.48 0 0 1 95.69,217.99" fill="none" stroke="#4a80c4" stroke-width="0.51" opacity="0.5"/>
<path d="M102.30,208.96 A24.59,24.59 0 0 1 101.91,215.69" fill="none" stroke="#d8ecf6" stroke-width="0.66" opacity="0.5"/>
<path d="M73.45,200.13 A11.04,11.04 0 0 1 75.63,199.65" fill="none" stroke="#ffffff" stroke-width="0.75" opacity="0.5"/>
<path d="M62.73,206.53 A15.49,15.49 0 0 1 65.07,202.03" fill="none" stroke="#d8ecf6" stroke-width="0.49" opacity="0.5"/>
<path d="M88.53,203.56 A12.72,12.72 0 0 1 89.04,208.21" fill="none" stroke="#ffffff" stroke-width="0.75" opacity="0.5"/>
<path d="M66.10,191.82 A21.85,21.85 0 0 1 72.46,189.44" fill="none" stroke="#ffffff" stroke-width="0.66" opacity="0.5"/>
<path d="M98.06,202.11 A21.91,21.91 0 0 1 99.80,206.40" fill="none" stroke="#4a80c4" stroke-width="0.61" opacity="0.5"/>
<path d="M92.27,195.74 A20.58,20.58 0 0 1 95.81,201.05" fill="none" stroke="#ffffff" stroke-width="0.34" opacity="0.5"/>
<path d="M89.77,219.73 A15.27,15.27 0 0 1 88.76,221.59" fill="none" stroke="#d8ecf6" stroke-width="0.46" opacity="0.5"/>
<path d="M58.91,216.99 A19.98,19.98 0 0 1 56.67,208.98" fill="none" stroke="#4a80c4" stroke-width="0.39" opacity="0.5"/>
<path d="M94.65,205.87 A17.47,17.47 0 0 1 93.99,211.82" fill="none" stroke="#d8ecf6" stroke-width="0.47" opacity="0.5"/>
<path d="M101.76,208.55 A24.08,24.08 0 0 1 100.26,213.89" fill="none" stroke="#4a80c4" stroke-width="0.48" opacity="0.5"/>
<path d="M65.75,201.73 A14.75,14.75 0 0 1 69.71,197.90" fill="none" stroke="#ffffff" stroke-width="0.55" opacity="0.5"/>
<path d="M61.48,215.81 A17.18,17.18 0 0 1 60.52,213.11" fill="none" stroke="#d8ecf6" stroke-width="0.42" opacity="0.5"/>
<path d="M83.38,232.06 A22.46,22.46 0 0 1 73.68,231.68" fill="none" stroke="#d8ecf6" stroke-width="0.65" opacity="0.5"/>
<path d="M61.51,205.94 A16.82,16.82 0 0 1 64.59,201.85" fill="none" stroke="#ffffff" stroke-width="0.58" opacity="0.5"/>
<path d="M58.67,219.17 A21.03,21.03 0 0 1 57.57,214.29" fill="none" stroke="#4a80c4" stroke-width="0.75" opacity="0.5"/>
<path d="M64.91,221.99 A17.35,17.35 0 0 1 62.47,220.10" fill="none" stroke="#ffffff" stroke-width="0.43" opacity="0.5"/>
<path d="M81.90,196.32 A14.60,14.60 0 0 1 88.01,198.37" fill="none" stroke="#d8ecf6" stroke-width="0.44" opacity="0.5"/>
<path d="M60.00,202.90 A19.23,19.23 0 0 1 65.14,197.04" fill="none" stroke="#4a80c4" stroke-width="0.62" opacity="0.5"/>
<path d="M59.56,198.33 A21.78,21.78 0 0 1 64.79,193.09" fill="none" stroke="#d8ecf6" stroke-width="0.63" opacity="0.5"/>
<path d="M92.60,219.71 A17.58,17.58 0 0 1 88.30,225.78" fill="none" stroke="#ffffff" stroke-width="0.38" opacity="0.5"/>
<path d="M101.25,203.50 A24.47,24.47 0 0 1 102.20,208.34" fill="none" stroke="#ffffff" stroke-width="0.73" opacity="0.5"/>
<path d="M60.70,222.21 A20.79,20.79 0 0 1 56.20,214.96" fill="none" stroke="#4a80c4" stroke-width="0.69" opacity="0.5"/>
<path d="M59.89,195.73 A23.06,23.06 0 0 1 63.18,191.61" fill="none" stroke="#ffffff" stroke-width="0.58" opacity="0.5"/>
<path d="M81.26,197.49 A13.30,13.30 0 0 1 85.72,200.68" fill="none" stroke="#4a80c4" stroke-width="0.76" opacity="0.5"/>
<path d="M75.62,192.08 A18.35,18.35 0 0 1 82.69,193.94" fill="none" stroke="#ffffff" stroke-width="0.48" opacity="0.5"/>
<path d="M77.88,222.20 A11.89,11.89 0 0 1 75.96,220.76" fill="none" stroke="#ffffff" stroke-width="0.70" opacity="0.5"/>
<path d="M77.18,227.51 A17.21,17.21 0 0 1 71.11,226.57" fill="none" stroke="#4a80c4" stroke-width="0.73" opacity="0.5"/>
<path d="M63.61,192.61 A22.66,22.66 0 0 1 66.33,192.21" fill="none" stroke="#ffffff" stroke-width="0.55" opacity="0.5"/>
<path d="M58.63,195.38 A24.26,24.26 0 0 1 65.21,188.99" fill="none" stroke="#4a80c4" stroke-width="0.57" opacity="0.5"/>
<path d="M75.07,199.11 A11.51,11.51 0 0 1 77.94,197.70" fill="none" stroke="#4a80c4" stroke-width="0.33" opacity="0.5"/>
<path d="M84.84,201.53 A11.29,11.29 0 0 1 85.02,203.43" fill="none" stroke="#ffffff" stroke-width="0.32" opacity="0.5"/>
<path d="M55.82,219.54 A23.79,23.79 0 0 1 53.43,212.07" fill="none" stroke="#d8ecf6" stroke-width="0.67" opacity="0.5"/>
<path d="M73.46,197.23 A13.76,13.76 0 0 1 74.71,195.74" fill="none" stroke="#4a80c4" stroke-width="0.61" opacity="0.5"/>
<path d="M82.57,229.56 A19.84,19.84 0 0 1 77.97,231.02" fill="none" stroke="#ffffff" stroke-width="0.50" opacity="0.5"/>
<path d="M68.34,216.62 A11.33,11.33 0 0 1 66.40,214.52" fill="none" stroke="#d8ecf6" stroke-width="0.77" opacity="0.5"/>
<path d="M95.86,225.73 A23.79,23.79 0 0 1 92.23,229.51" fill="none" stroke="#d8ecf6" stroke-width="0.44" opacity="0.5"/>
<path d="M77.75,197.23 C78.75,197.18 79.80,196.86 80.79,197.00 C81.77,197.13 82.80,197.52 83.66,198.02 C84.53,198.52 85.25,199.31 85.98,199.99 C86.71,200.66 87.56,201.27 88.07,202.08 C88.58,202.89 88.77,203.95 89.05,204.87 C89.32,205.78 89.50,206.67 89.73,207.58 C89.95,208.48 90.31,209.38 90.38,210.31 C90.45,211.24 90.24,212.17 90.16,213.14 C90.08,214.12 90.07,215.12 89.89,216.16 C89.70,217.19 89.68,218.55 89.06,219.33 C88.44,220.11 87.10,220.39 86.16,220.86 C85.23,221.33 84.41,221.96 83.45,222.16 C82.50,222.36 81.39,221.94 80.43,222.08 C79.48,222.22 78.68,222.82 77.75,222.99 C76.81,223.17 75.73,223.35 74.82,223.12 C73.92,222.89 73.19,222.04 72.30,221.62 C71.42,221.21 70.35,221.13 69.51,220.64 C68.67,220.15 67.86,219.45 67.26,218.67 C66.66,217.90 66.39,216.89 65.93,216.00 C65.48,215.11 64.86,214.28 64.51,213.33 C64.16,212.38 63.82,211.31 63.83,210.31 C63.85,209.31 64.08,208.18 64.58,207.31 C65.09,206.43 66.18,205.78 66.84,205.06 C67.50,204.33 68.02,203.72 68.53,202.96 C69.04,202.20 69.31,201.20 69.92,200.50 C70.53,199.79 71.37,199.28 72.18,198.75 C72.99,198.22 73.86,197.59 74.79,197.33 C75.71,197.08 76.75,197.29 77.75,197.23Z" fill="none" stroke="#3c4650" stroke-width="0.35" opacity="0.6"/>
<path d="M77.75,193.76 C78.96,193.64 80.35,193.56 81.48,193.97 C82.61,194.38 83.61,195.44 84.54,196.21 C85.47,196.99 86.24,197.84 87.06,198.63 C87.88,199.43 88.77,200.11 89.44,200.98 C90.11,201.86 90.50,202.91 91.08,203.89 C91.66,204.86 92.43,205.78 92.92,206.85 C93.41,207.92 93.77,209.10 94.01,210.31 C94.25,211.52 94.57,212.90 94.36,214.10 C94.14,215.30 93.43,216.51 92.72,217.52 C92.02,218.53 91.06,219.43 90.12,220.17 C89.17,220.92 88.02,221.34 87.06,221.99 C86.10,222.63 85.36,223.52 84.37,224.07 C83.39,224.62 82.27,224.99 81.17,225.30 C80.07,225.61 78.90,225.86 77.75,225.91 C76.60,225.96 75.40,225.81 74.26,225.58 C73.12,225.35 71.99,224.99 70.89,224.55 C69.80,224.10 68.74,223.54 67.70,222.91 C66.66,222.28 65.46,221.66 64.63,220.77 C63.81,219.87 63.10,218.70 62.75,217.53 C62.41,216.36 62.49,214.98 62.57,213.77 C62.66,212.57 63.09,211.42 63.27,210.31 C63.44,209.20 63.43,208.15 63.63,207.09 C63.83,206.02 64.15,205.00 64.47,203.92 C64.79,202.83 65.08,201.69 65.57,200.60 C66.06,199.51 66.56,198.17 67.42,197.36 C68.29,196.56 69.63,196.23 70.75,195.78 C71.88,195.34 73.02,195.03 74.18,194.70 C75.35,194.36 76.53,193.88 77.75,193.76Z" fill="none" stroke="#3c4650" stroke-width="0.35" opacity="0.6"/>
<path d="M77.75,191.50 C79.14,191.62 80.59,191.85 81.83,192.42 C83.07,192.99 84.09,194.13 85.17,194.90 C86.25,195.68 87.24,196.34 88.31,197.07 C89.37,197.80 90.55,198.42 91.55,199.31 C92.54,200.19 93.46,201.23 94.26,202.36 C95.07,203.48 95.82,204.74 96.36,206.06 C96.91,207.39 97.64,208.92 97.53,210.31 C97.42,211.70 96.31,213.12 95.69,214.40 C95.06,215.69 94.36,216.79 93.78,218.03 C93.21,219.28 93.04,220.80 92.25,221.87 C91.46,222.94 90.13,223.65 89.04,224.47 C87.95,225.29 86.92,226.31 85.69,226.80 C84.46,227.29 82.98,227.20 81.65,227.41 C80.33,227.62 79.07,227.97 77.75,228.05 C76.43,228.13 75.16,227.88 73.74,227.87 C72.32,227.85 70.69,228.24 69.25,227.95 C67.82,227.66 66.21,227.08 65.13,226.13 C64.04,225.19 63.37,223.60 62.75,222.27 C62.13,220.95 61.70,219.54 61.40,218.18 C61.09,216.83 61.00,215.46 60.92,214.15 C60.85,212.84 61.12,211.63 60.95,210.31 C60.78,208.99 59.92,207.59 59.91,206.24 C59.90,204.89 60.33,203.43 60.90,202.20 C61.47,200.96 62.39,199.81 63.33,198.81 C64.26,197.81 65.47,197.15 66.49,196.20 C67.52,195.25 68.29,193.84 69.46,193.09 C70.62,192.34 72.12,191.97 73.50,191.70 C74.88,191.44 76.36,191.38 77.75,191.50Z" fill="none" stroke="#3c4650" stroke-width="0.35" opacity="0.6"/>
</g>
<g clip-path="url(#cp03L)"><path d="M68.05,206.90 C68.45,205.16 69.50,202.54 70.41,201.14 C71.33,199.74 72.60,198.78 73.56,198.52 C74.52,198.26 75.43,199.00 76.18,199.57 C76.92,200.14 78.80,201.40 78.01,201.93 C77.22,202.45 72.86,202.14 71.46,202.71 C70.06,203.28 69.93,204.37 69.63,205.33 C69.32,206.29 69.28,207.65 69.63,208.48 C69.98,209.31 70.98,209.79 71.72,210.31 C72.46,210.83 73.82,210.97 74.08,211.62 C74.34,212.28 73.82,213.50 73.29,214.24 C72.77,214.98 71.59,215.86 70.94,216.07 C70.28,216.29 69.84,216.29 69.36,215.55 C68.88,214.81 68.27,213.06 68.05,211.62 C67.84,210.18 67.66,208.65 68.05,206.90Z" fill="#eef4f8" opacity="0.55"/>
<path d="M64.91,182.80 C66.13,182.36 71.59,181.93 73.03,182.80 C74.47,183.67 73.51,186.38 73.56,188.04 C73.60,189.70 73.51,191.45 73.29,192.76 C73.08,194.07 72.73,195.64 72.25,195.90 C71.77,196.16 71.15,195.38 70.41,194.33 C69.67,193.28 68.58,191.10 67.79,189.61 C67.01,188.13 66.18,186.56 65.70,185.42 C65.22,184.28 63.69,183.24 64.91,182.80Z" fill="#b3b3b3"/>
<path d="M96.61,195.38 C97.05,194.59 99.10,194.76 100.28,195.38 C101.46,195.99 103.12,197.21 103.69,199.04 C104.25,200.88 104.25,205.42 103.69,206.38 C103.12,207.34 101.28,205.86 100.28,204.81 C99.28,203.76 98.27,201.66 97.66,200.09 C97.05,198.52 96.18,196.16 96.61,195.38Z" fill="#b3b3b3"/>
<path d="M67.27,235.99 C65.17,235.29 67.92,232.75 68.84,231.79 C69.76,230.83 71.46,230.35 72.77,230.22 C74.08,230.09 75.52,230.96 76.70,231.01 C77.88,231.05 78.97,230.13 79.84,230.48 C80.72,230.83 81.68,232.19 81.94,233.10 C82.20,234.02 83.86,235.51 81.42,235.99 C78.97,236.47 69.36,236.68 67.27,235.99Z" fill="#b3b3b3"/>
<path d="M71.46,202.71 C72.42,202.14 73.99,202.01 75.39,201.93 C76.79,201.84 78.53,201.79 79.84,202.19 C81.15,202.58 82.38,203.24 83.25,204.28 C84.12,205.33 84.73,206.99 85.08,208.48 C85.43,209.96 85.56,211.71 85.35,213.19 C85.13,214.68 84.60,216.29 83.77,217.38 C82.94,218.48 81.59,219.31 80.37,219.74 C79.15,220.18 77.66,220.22 76.44,220.00 C75.22,219.79 73.95,219.09 73.03,218.43 C72.11,217.78 70.89,216.77 70.94,216.07 C70.98,215.38 72.77,214.98 73.29,214.24 C73.82,213.50 74.34,212.28 74.08,211.62 C73.82,210.97 72.46,210.83 71.72,210.31 C70.98,209.79 69.98,209.31 69.63,208.48 C69.28,207.65 69.32,206.29 69.63,205.33 C69.93,204.37 70.50,203.28 71.46,202.71Z" fill="#b3b3b3"/></g>
<circle cx="76.7" cy="209.0" r="26.2" fill="none" stroke="#a8a8a8" stroke-width="0.5"/>
<text x="68.8" y="182.8" font-size="3.4" fill="#3a3a3a" text-anchor="middle" transform="rotate(-25 68.8 182.8)">60°W</text>
<text x="92.9" y="187.5" font-size="3.4" fill="#3a3a3a" text-anchor="middle" transform="rotate(40 92.9 187.5)">0°</text>
<text x="49.2" y="205.9" font-size="3.4" fill="#3a3a3a" text-anchor="middle" transform="rotate(-75 49.2 205.9)">90°W</text>
<text x="103.9" y="217.4" font-size="3.4" fill="#3a3a3a" text-anchor="middle" transform="rotate(80 103.9 217.4)">60°E</text>
<text x="54.4" y="230.0" font-size="3.4" fill="#3a3a3a" text-anchor="middle" transform="rotate(35 54.4 230.0)">120°W</text>
<text x="87.2" y="235.2" font-size="3.4" fill="#3a3a3a" text-anchor="middle" transform="rotate(-20 87.2 235.2)">180°</text>
<path d="M76.70,207.80 L77.60,209.80 L75.80,209.80 Z" fill="#111"/>
<g clip-path="url(#cp04)">
<circle cx="76.7" cy="267.6" r="26.2" fill="#94c3e6"/>
<circle cx="76.7" cy="267.6" r="24.89" fill="none" stroke="#d4eaf5" stroke-width="3.14" filter="url(#bl1)"/>
<ellipse cx="62.29" cy="267.60" rx="7.86" ry="14.41" fill="#6496d2" opacity="0.9" filter="url(#bl2)" transform="rotate(0 62.29 267.60)"/>
<ellipse cx="74.08" cy="286.46" rx="11.79" ry="4.72" fill="#7aaad8" opacity="0.8" filter="url(#bl2)" transform="rotate(0 74.08 286.46)"/>
<ellipse cx="91.11" cy="276.77" rx="7.86" ry="9.17" fill="#88b8e0" opacity="0.7" filter="url(#bl2)" transform="rotate(0 91.11 276.77)"/>
<ellipse cx="61.50" cy="249.78" rx="7.86" ry="5.24" fill="#2f58ad" opacity="0.95" filter="url(#bl1)" transform="rotate(-35 61.50 249.78)"/>
<ellipse cx="64.91" cy="255.81" rx="4.72" ry="3.93" fill="#5a88c8" opacity="0.8" filter="url(#bl2)" transform="rotate(0 64.91 255.81)"/>
<ellipse cx="84.56" cy="255.81" rx="9.17" ry="3.67" fill="#eef0d6" opacity="0.9" filter="url(#bl2)" transform="rotate(15 84.56 255.81)"/>
<ellipse cx="92.94" cy="251.88" rx="5.76" ry="3.14" fill="#f5e2a2" opacity="0.95" filter="url(#bl2)" transform="rotate(35 92.94 251.88)"/>
<ellipse cx="79.32" cy="245.33" rx="6.55" ry="2.62" fill="#f3dca8" opacity="0.9" filter="url(#bl2)" transform="rotate(0 79.32 245.33)"/>
<ellipse cx="80.63" cy="247.69" rx="8.38" ry="3.41" fill="#f0a060" opacity="0.9" filter="url(#bl1)" transform="rotate(12 80.63 247.69)"/>
<ellipse cx="76.18" cy="248.47" rx="4.45" ry="3.14" fill="#b01812" opacity="1" filter="url(#bl05)" transform="rotate(5 76.18 248.47)"/>
<ellipse cx="59.41" cy="274.94" rx="3.41" ry="6.81" fill="#f2dc8c" opacity="1" filter="url(#bl1)" transform="rotate(15 59.41 274.94)"/>
<ellipse cx="59.41" cy="276.51" rx="1.57" ry="2.62" fill="#f0b060" opacity="0.8" filter="url(#bl1)" transform="rotate(0 59.41 276.51)"/>
<path d="M77.75,251.87 C79.01,251.96 80.34,252.08 81.48,252.54 C82.63,253.01 83.60,253.98 84.62,254.65 C85.63,255.32 86.60,255.90 87.58,256.58 C88.56,257.26 89.63,257.90 90.49,258.75 C91.35,259.60 92.07,260.63 92.74,261.69 C93.41,262.75 94.01,263.88 94.50,265.09 C94.99,266.29 95.74,267.65 95.66,268.91 C95.59,270.17 94.61,271.46 94.07,272.64 C93.53,273.81 92.93,274.83 92.43,275.98 C91.93,277.13 91.81,278.56 91.08,279.54 C90.36,280.53 89.10,281.12 88.09,281.88 C87.09,282.64 86.18,283.61 85.05,284.08 C83.93,284.55 82.57,284.48 81.35,284.68 C80.13,284.88 78.96,285.24 77.75,285.28 C76.54,285.32 75.37,284.99 74.09,284.93 C72.81,284.86 71.35,285.16 70.06,284.87 C68.77,284.58 67.35,284.04 66.36,283.19 C65.38,282.34 64.76,280.93 64.15,279.75 C63.54,278.58 63.04,277.37 62.71,276.15 C62.37,274.94 62.20,273.68 62.13,272.48 C62.05,271.27 62.36,270.13 62.23,268.91 C62.10,267.69 61.34,266.40 61.36,265.17 C61.38,263.94 61.84,262.63 62.38,261.51 C62.92,260.39 63.77,259.35 64.62,258.44 C65.48,257.53 66.58,256.94 67.51,256.07 C68.44,255.20 69.12,253.87 70.18,253.20 C71.25,252.53 72.64,252.26 73.90,252.04 C75.16,251.82 76.48,251.79 77.75,251.87Z" fill="none" stroke="#e2f0f6" stroke-width="2.36" opacity="0.85" filter="url(#bl1)"/>
<path d="M77.75,256.54 C78.69,256.81 79.49,257.18 80.38,257.40 C81.27,257.61 82.21,257.55 83.09,257.81 C83.98,258.07 84.86,258.48 85.69,258.95 C86.52,259.43 87.36,259.99 88.08,260.67 C88.81,261.34 89.51,262.13 90.04,262.99 C90.57,263.85 91.06,264.84 91.25,265.83 C91.43,266.82 91.23,267.90 91.14,268.91 C91.05,269.92 91.02,270.94 90.70,271.87 C90.39,272.79 89.72,273.59 89.25,274.45 C88.78,275.30 88.52,276.31 87.89,277.00 C87.26,277.69 86.30,278.13 85.49,278.62 C84.68,279.10 83.87,279.49 83.04,279.90 C82.21,280.31 81.41,280.70 80.53,281.08 C79.64,281.45 78.75,281.85 77.75,282.16 C76.75,282.48 75.56,283.06 74.54,282.97 C73.52,282.88 72.48,282.22 71.62,281.63 C70.76,281.04 70.03,280.19 69.38,279.41 C68.73,278.62 68.14,277.79 67.71,276.92 C67.28,276.04 67.19,275.04 66.82,274.17 C66.45,273.31 65.86,272.59 65.47,271.71 C65.09,270.83 64.63,269.88 64.49,268.91 C64.36,267.94 64.47,266.90 64.65,265.92 C64.83,264.94 65.17,263.97 65.57,263.05 C65.97,262.12 66.40,261.12 67.07,260.39 C67.73,259.66 68.78,259.30 69.57,258.65 C70.35,258.00 70.91,256.98 71.77,256.50 C72.63,256.02 73.75,255.75 74.75,255.76 C75.74,255.77 76.81,256.26 77.75,256.54Z" fill="none" stroke="#6a9fd4" stroke-width="3.67" opacity="0.85" filter="url(#bl1)"/>
<ellipse cx="67.27" cy="270.74" rx="3.41" ry="6.29" fill="#2442a0" opacity="1" filter="url(#bl1)" transform="rotate(0 67.27 270.74)"/>
<ellipse cx="79.32" cy="286.46" rx="9.17" ry="3.14" fill="#b8daf0" opacity="0.8" filter="url(#bl2)" transform="rotate(0 79.32 286.46)"/>
<path d="M98.05,270.06 A20.34,20.34 0 0 1 97.06,277.78" fill="none" stroke="#ffffff" stroke-width="0.63" opacity="0.5"/>
<path d="M60.70,278.82 A19.72,19.72 0 0 1 58.91,270.40" fill="none" stroke="#ffffff" stroke-width="0.57" opacity="0.5"/>
<path d="M94.02,265.16 A16.70,16.70 0 0 1 95.33,268.75" fill="none" stroke="#d8ecf6" stroke-width="0.80" opacity="0.5"/>
<path d="M77.23,257.22 A11.70,11.70 0 0 1 82.49,257.37" fill="none" stroke="#4a80c4" stroke-width="0.71" opacity="0.5"/>
<path d="M55.84,269.63 A21.92,21.92 0 0 1 58.56,259.72" fill="none" stroke="#ffffff" stroke-width="0.54" opacity="0.5"/>
<path d="M61.09,268.39 A16.67,16.67 0 0 1 62.46,263.21" fill="none" stroke="#4a80c4" stroke-width="0.62" opacity="0.5"/>
<path d="M61.98,279.59 A19.05,19.05 0 0 1 59.57,275.69" fill="none" stroke="#4a80c4" stroke-width="0.65" opacity="0.5"/>
<path d="M73.60,280.62 A12.42,12.42 0 0 1 69.06,278.43" fill="none" stroke="#4a80c4" stroke-width="0.57" opacity="0.5"/>
<path d="M92.79,273.11 A15.61,15.61 0 0 1 91.54,275.47" fill="none" stroke="#4a80c4" stroke-width="0.60" opacity="0.5"/>
<path d="M88.44,282.83 A17.55,17.55 0 0 1 85.87,283.68" fill="none" stroke="#ffffff" stroke-width="0.74" opacity="0.5"/>
<path d="M61.83,273.91 A16.68,16.68 0 0 1 60.92,271.49" fill="none" stroke="#4a80c4" stroke-width="0.49" opacity="0.5"/>
<path d="M66.86,271.07 A11.10,11.10 0 0 1 67.97,266.12" fill="none" stroke="#d8ecf6" stroke-width="0.72" opacity="0.5"/>
<path d="M65.14,279.46 A16.44,16.44 0 0 1 62.76,277.76" fill="none" stroke="#4a80c4" stroke-width="0.40" opacity="0.5"/>
<path d="M61.20,256.30 A20.80,20.80 0 0 1 65.43,253.34" fill="none" stroke="#d8ecf6" stroke-width="0.60" opacity="0.5"/>
<path d="M58.66,272.22 A19.37,19.37 0 0 1 58.16,268.65" fill="none" stroke="#d8ecf6" stroke-width="0.32" opacity="0.5"/>
<path d="M71.22,280.27 A13.10,13.10 0 0 1 68.51,277.03" fill="none" stroke="#d8ecf6" stroke-width="0.58" opacity="0.5"/>
<path d="M68.01,255.39 A16.66,16.66 0 0 1 70.28,253.74" fill="none" stroke="#d8ecf6" stroke-width="0.65" opacity="0.5"/>
<path d="M74.18,249.46 A19.78,19.78 0 0 1 82.63,249.67" fill="none" stroke="#ffffff" stroke-width="0.80" opacity="0.5"/>
<path d="M87.67,258.54 A14.36,14.36 0 0 1 89.92,260.82" fill="none" stroke="#ffffff" stroke-width="0.77" opacity="0.5"/>
<path d="M76.23,279.80 A11.00,11.00 0 0 1 71.99,277.72" fill="none" stroke="#ffffff" stroke-width="0.55" opacity="0.5"/>
<path d="M74.48,251.91 A17.31,17.31 0 0 1 79.82,251.27" fill="none" stroke="#4a80c4" stroke-width="0.70" opacity="0.5"/>
<path d="M86.69,277.99 A12.74,12.74 0 0 1 82.27,279.83" fill="none" stroke="#4a80c4" stroke-width="0.64" opacity="0.5"/>
<path d="M62.35,257.85 A18.95,18.95 0 0 1 65.16,255.25" fill="none" stroke="#ffffff" stroke-width="0.60" opacity="0.5"/>
<path d="M85.02,283.84 A16.61,16.61 0 0 1 79.31,284.97" fill="none" stroke="#4a80c4" stroke-width="0.34" opacity="0.5"/>
<path d="M67.22,268.37 A10.54,10.54 0 0 1 67.34,264.62" fill="none" stroke="#ffffff" stroke-width="0.52" opacity="0.5"/>
<path d="M77.14,257.56 A11.36,11.36 0 0 1 80.05,257.71" fill="none" stroke="#ffffff" stroke-width="0.37" opacity="0.5"/>
<path d="M81.88,256.87 A12.73,12.73 0 0 1 84.43,258.67" fill="none" stroke="#d8ecf6" stroke-width="0.49" opacity="0.5"/>
<path d="M81.01,253.57 A15.68,15.68 0 0 1 83.23,254.38" fill="none" stroke="#d8ecf6" stroke-width="0.79" opacity="0.5"/>
<path d="M81.09,257.03 A12.34,12.34 0 0 1 85.03,257.98" fill="none" stroke="#4a80c4" stroke-width="0.38" opacity="0.5"/>
<path d="M62.46,251.08 A23.48,23.48 0 0 1 70.20,245.58" fill="none" stroke="#d8ecf6" stroke-width="0.37" opacity="0.5"/>
<path d="M79.79,284.23 A15.45,15.45 0 0 1 75.86,285.04" fill="none" stroke="#ffffff" stroke-width="0.32" opacity="0.5"/>
<path d="M91.63,267.84 A13.92,13.92 0 0 1 91.51,274.00" fill="none" stroke="#4a80c4" stroke-width="0.40" opacity="0.5"/>
<path d="M89.18,283.28 A18.36,18.36 0 0 1 86.73,283.56" fill="none" stroke="#d8ecf6" stroke-width="0.37" opacity="0.5"/>
<path d="M73.91,286.67 A18.17,18.17 0 0 1 67.24,283.09" fill="none" stroke="#d8ecf6" stroke-width="0.45" opacity="0.5"/>
<path d="M83.42,259.58 A10.92,10.92 0 0 1 84.87,259.86" fill="none" stroke="#ffffff" stroke-width="0.56" opacity="0.5"/>
<path d="M92.90,270.95 A15.29,15.29 0 0 1 92.80,273.08" fill="none" stroke="#ffffff" stroke-width="0.61" opacity="0.5"/>
<path d="M65.04,261.59 A14.67,14.67 0 0 1 68.31,256.80" fill="none" stroke="#ffffff" stroke-width="0.35" opacity="0.5"/>
<path d="M86.73,282.27 A16.10,16.10 0 0 1 82.77,283.24" fill="none" stroke="#ffffff" stroke-width="0.53" opacity="0.5"/>
<path d="M78.08,254.70 A14.21,14.21 0 0 1 79.60,255.26" fill="none" stroke="#ffffff" stroke-width="0.78" opacity="0.5"/>
<path d="M74.00,256.74 A12.74,12.74 0 0 1 77.08,255.31" fill="none" stroke="#4a80c4" stroke-width="0.50" opacity="0.5"/>
<path d="M97.84,255.27 A24.29,24.29 0 0 1 101.09,262.57" fill="none" stroke="#4a80c4" stroke-width="0.66" opacity="0.5"/>
<path d="M57.23,257.39 A23.53,23.53 0 0 1 58.68,255.21" fill="none" stroke="#d8ecf6" stroke-width="0.39" opacity="0.5"/>
<path d="M86.73,257.01 A14.91,14.91 0 0 1 90.98,260.07" fill="none" stroke="#4a80c4" stroke-width="0.59" opacity="0.5"/>
<path d="M57.36,272.18 A20.64,20.64 0 0 1 56.04,269.71" fill="none" stroke="#d8ecf6" stroke-width="0.51" opacity="0.5"/>
<path d="M71.96,246.75 A22.91,22.91 0 0 1 74.54,247.17" fill="none" stroke="#d8ecf6" stroke-width="0.38" opacity="0.5"/>
<path d="M85.62,246.43 A23.82,23.82 0 0 1 91.54,250.27" fill="none" stroke="#4a80c4" stroke-width="0.31" opacity="0.5"/>
<path d="M87.62,254.17 A17.74,17.74 0 0 1 90.82,256.64" fill="none" stroke="#4a80c4" stroke-width="0.63" opacity="0.5"/>
<path d="M62.18,288.19 A24.78,24.78 0 0 1 57.62,282.14" fill="none" stroke="#d8ecf6" stroke-width="0.67" opacity="0.5"/>
<path d="M91.85,249.60 A23.91,23.91 0 0 1 99.76,257.61" fill="none" stroke="#ffffff" stroke-width="0.64" opacity="0.5"/>
<path d="M59.07,272.37 A18.99,18.99 0 0 1 59.70,265.56" fill="none" stroke="#ffffff" stroke-width="0.36" opacity="0.5"/>
<path d="M94.28,260.93 A18.36,18.36 0 0 1 94.35,263.63" fill="none" stroke="#d8ecf6" stroke-width="0.56" opacity="0.5"/>
<path d="M61.97,266.41 A15.97,15.97 0 0 1 63.96,259.32" fill="none" stroke="#4a80c4" stroke-width="0.70" opacity="0.5"/>
<path d="M75.85,291.69 A22.86,22.86 0 0 1 72.96,291.34" fill="none" stroke="#4a80c4" stroke-width="0.47" opacity="0.5"/>
<path d="M59.79,278.44 A20.33,20.33 0 0 1 57.75,269.37" fill="none" stroke="#ffffff" stroke-width="0.68" opacity="0.5"/>
<path d="M67.82,247.22 A23.85,23.85 0 0 1 73.05,246.79" fill="none" stroke="#d8ecf6" stroke-width="0.52" opacity="0.5"/>
<path d="M89.09,286.92 A21.28,21.28 0 0 1 82.48,288.53" fill="none" stroke="#ffffff" stroke-width="0.30" opacity="0.5"/>
<path d="M73.18,291.03 A22.59,22.59 0 0 1 63.15,286.25" fill="none" stroke="#4a80c4" stroke-width="0.77" opacity="0.5"/>
<path d="M101.31,275.69 A24.52,24.52 0 0 1 98.74,279.35" fill="none" stroke="#ffffff" stroke-width="0.63" opacity="0.5"/>
<path d="M72.41,250.13 A19.53,19.53 0 0 1 78.60,249.89" fill="none" stroke="#ffffff" stroke-width="0.38" opacity="0.5"/>
<path d="M93.16,262.27 A16.78,16.78 0 0 1 95.08,263.84" fill="none" stroke="#ffffff" stroke-width="0.63" opacity="0.5"/>
<path d="M77.75,255.83 C78.75,255.78 79.80,255.46 80.79,255.60 C81.77,255.73 82.80,256.12 83.66,256.62 C84.53,257.12 85.25,257.91 85.98,258.59 C86.71,259.26 87.56,259.87 88.07,260.68 C88.58,261.49 88.77,262.55 89.05,263.47 C89.32,264.38 89.50,265.27 89.73,266.18 C89.95,267.08 90.31,267.98 90.38,268.91 C90.45,269.84 90.24,270.77 90.16,271.74 C90.08,272.72 90.07,273.72 89.89,274.76 C89.70,275.79 89.68,277.15 89.06,277.93 C88.44,278.71 87.10,278.99 86.16,279.46 C85.23,279.93 84.41,280.56 83.45,280.76 C82.50,280.96 81.39,280.54 80.43,280.68 C79.48,280.82 78.68,281.42 77.75,281.59 C76.81,281.77 75.73,281.95 74.82,281.72 C73.92,281.49 73.19,280.64 72.30,280.22 C71.42,279.81 70.35,279.73 69.51,279.24 C68.67,278.75 67.86,278.05 67.26,277.27 C66.66,276.50 66.39,275.49 65.93,274.60 C65.48,273.71 64.86,272.88 64.51,271.93 C64.16,270.98 63.82,269.91 63.83,268.91 C63.85,267.91 64.08,266.78 64.58,265.91 C65.09,265.03 66.18,264.38 66.84,263.66 C67.50,262.93 68.02,262.32 68.53,261.56 C69.04,260.80 69.31,259.80 69.92,259.10 C70.53,258.39 71.37,257.88 72.18,257.35 C72.99,256.82 73.86,256.19 74.79,255.93 C75.71,255.68 76.75,255.89 77.75,255.83Z" fill="none" stroke="#3c4650" stroke-width="0.35" opacity="0.6"/>
<path d="M77.75,252.36 C78.96,252.24 80.35,252.16 81.48,252.57 C82.61,252.98 83.61,254.04 84.54,254.81 C85.47,255.59 86.24,256.44 87.06,257.23 C87.88,258.03 88.77,258.71 89.44,259.58 C90.11,260.46 90.50,261.51 91.08,262.49 C91.66,263.46 92.43,264.38 92.92,265.45 C93.41,266.52 93.77,267.70 94.01,268.91 C94.25,270.12 94.57,271.50 94.36,272.70 C94.14,273.90 93.43,275.11 92.72,276.12 C92.02,277.13 91.06,278.03 90.12,278.77 C89.17,279.52 88.02,279.94 87.06,280.59 C86.10,281.23 85.36,282.12 84.37,282.67 C83.39,283.22 82.27,283.59 81.17,283.90 C80.07,284.21 78.90,284.46 77.75,284.51 C76.60,284.56 75.40,284.41 74.26,284.18 C73.12,283.95 71.99,283.59 70.89,283.15 C69.80,282.70 68.74,282.14 67.70,281.51 C66.66,280.88 65.46,280.26 64.63,279.37 C63.81,278.47 63.10,277.30 62.75,276.13 C62.41,274.96 62.49,273.58 62.57,272.37 C62.66,271.17 63.09,270.02 63.27,268.91 C63.44,267.80 63.43,266.75 63.63,265.69 C63.83,264.62 64.15,263.60 64.47,262.52 C64.79,261.43 65.08,260.29 65.57,259.20 C66.06,258.11 66.56,256.77 67.42,255.96 C68.29,255.16 69.63,254.83 70.75,254.38 C71.88,253.94 73.02,253.63 74.18,253.30 C75.35,252.96 76.53,252.48 77.75,252.36Z" fill="none" stroke="#3c4650" stroke-width="0.35" opacity="0.6"/>
<path d="M77.75,250.10 C79.14,250.22 80.59,250.45 81.83,251.02 C83.07,251.59 84.09,252.73 85.17,253.50 C86.25,254.28 87.24,254.94 88.31,255.67 C89.37,256.40 90.55,257.02 91.55,257.91 C92.54,258.79 93.46,259.83 94.26,260.96 C95.07,262.08 95.82,263.34 96.36,264.66 C96.91,265.99 97.64,267.52 97.53,268.91 C97.42,270.30 96.31,271.72 95.69,273.00 C95.06,274.29 94.36,275.39 93.78,276.63 C93.21,277.88 93.04,279.40 92.25,280.47 C91.46,281.54 90.13,282.25 89.04,283.07 C87.95,283.89 86.92,284.91 85.69,285.40 C84.46,285.89 82.98,285.80 81.65,286.01 C80.33,286.22 79.07,286.57 77.75,286.65 C76.43,286.73 75.16,286.48 73.74,286.47 C72.32,286.45 70.69,286.84 69.25,286.55 C67.82,286.26 66.21,285.68 65.13,284.73 C64.04,283.79 63.37,282.20 62.75,280.87 C62.13,279.55 61.70,278.14 61.40,276.78 C61.09,275.43 61.00,274.06 60.92,272.75 C60.85,271.44 61.12,270.23 60.95,268.91 C60.78,267.59 59.92,266.19 59.91,264.84 C59.90,263.49 60.33,262.03 60.90,260.80 C61.47,259.56 62.39,258.41 63.33,257.41 C64.26,256.41 65.47,255.75 66.49,254.80 C67.52,253.85 68.29,252.44 69.46,251.69 C70.62,250.94 72.12,250.57 73.50,250.30 C74.88,250.04 76.36,249.98 77.75,250.10Z" fill="none" stroke="#3c4650" stroke-width="0.35" opacity="0.6"/>
</g>
<g clip-path="url(#cp04L)"><path d="M68.05,265.50 C68.45,263.76 69.50,261.14 70.41,259.74 C71.33,258.34 72.60,257.38 73.56,257.12 C74.52,256.86 75.43,257.60 76.18,258.17 C76.92,258.74 78.80,260.00 78.01,260.53 C77.22,261.05 72.86,260.74 71.46,261.31 C70.06,261.88 69.93,262.97 69.63,263.93 C69.32,264.89 69.28,266.25 69.63,267.08 C69.98,267.91 70.98,268.39 71.72,268.91 C72.46,269.43 73.82,269.57 74.08,270.22 C74.34,270.88 73.82,272.10 73.29,272.84 C72.77,273.58 71.59,274.46 70.94,274.67 C70.28,274.89 69.84,274.89 69.36,274.15 C68.88,273.41 68.27,271.66 68.05,270.22 C67.84,268.78 67.66,267.25 68.05,265.50Z" fill="#eef4f8" opacity="0.55"/>
<path d="M64.91,241.40 C66.13,240.96 71.59,240.53 73.03,241.40 C74.47,242.27 73.51,244.98 73.56,246.64 C73.60,248.30 73.51,250.05 73.29,251.36 C73.08,252.67 72.73,254.24 72.25,254.50 C71.77,254.76 71.15,253.98 70.41,252.93 C69.67,251.88 68.58,249.70 67.79,248.21 C67.01,246.73 66.18,245.16 65.70,244.02 C65.22,242.88 63.69,241.84 64.91,241.40Z" fill="#b3b3b3"/>
<path d="M96.61,253.98 C97.05,253.19 99.10,253.36 100.28,253.98 C101.46,254.59 103.12,255.81 103.69,257.64 C104.25,259.48 104.25,264.02 103.69,264.98 C103.12,265.94 101.28,264.46 100.28,263.41 C99.28,262.36 98.27,260.26 97.66,258.69 C97.05,257.12 96.18,254.76 96.61,253.98Z" fill="#b3b3b3"/>
<path d="M67.27,294.59 C65.17,293.89 67.92,291.35 68.84,290.39 C69.76,289.43 71.46,288.95 72.77,288.82 C74.08,288.69 75.52,289.56 76.70,289.61 C77.88,289.65 78.97,288.73 79.84,289.08 C80.72,289.43 81.68,290.79 81.94,291.70 C82.20,292.62 83.86,294.11 81.42,294.59 C78.97,295.07 69.36,295.28 67.27,294.59Z" fill="#b3b3b3"/>
<path d="M71.46,261.31 C72.42,260.74 73.99,260.61 75.39,260.53 C76.79,260.44 78.53,260.39 79.84,260.79 C81.15,261.18 82.38,261.84 83.25,262.88 C84.12,263.93 84.73,265.59 85.08,267.08 C85.43,268.56 85.56,270.31 85.35,271.79 C85.13,273.28 84.60,274.89 83.77,275.98 C82.94,277.08 81.59,277.91 80.37,278.34 C79.15,278.78 77.66,278.82 76.44,278.60 C75.22,278.39 73.95,277.69 73.03,277.03 C72.11,276.38 70.89,275.37 70.94,274.67 C70.98,273.98 72.77,273.58 73.29,272.84 C73.82,272.10 74.34,270.88 74.08,270.22 C73.82,269.57 72.46,269.43 71.72,268.91 C70.98,268.39 69.98,267.91 69.63,267.08 C69.28,266.25 69.32,264.89 69.63,263.93 C69.93,262.97 70.50,261.88 71.46,261.31Z" fill="#b3b3b3"/></g>
<circle cx="76.7" cy="267.6" r="26.2" fill="none" stroke="#a8a8a8" stroke-width="0.5"/>
<text x="68.8" y="241.4" font-size="3.4" fill="#3a3a3a" text-anchor="middle" transform="rotate(-25 68.8 241.4)">60°W</text>
<text x="92.9" y="246.1" font-size="3.4" fill="#3a3a3a" text-anchor="middle" transform="rotate(40 92.9 246.1)">0°</text>
<text x="49.2" y="264.5" font-size="3.4" fill="#3a3a3a" text-anchor="middle" transform="rotate(-75 49.2 264.5)">90°W</text>
<text x="103.9" y="276.0" font-size="3.4" fill="#3a3a3a" text-anchor="middle" transform="rotate(80 103.9 276.0)">60°E</text>
<text x="54.4" y="288.6" font-size="3.4" fill="#3a3a3a" text-anchor="middle" transform="rotate(35 54.4 288.6)">120°W</text>
<text x="87.2" y="293.8" font-size="3.4" fill="#3a3a3a" text-anchor="middle" transform="rotate(-20 87.2 293.8)">180°</text>
<path d="M76.70,266.40 L77.60,268.40 L75.80,268.40 Z" fill="#111"/>
<g clip-path="url(#cp10)">
<circle cx="319.0" cy="32.8" r="26.2" fill="#fff"/>
<circle cx="319.0" cy="32.8" r="7.86" fill="none" stroke="#b8b8b8" stroke-width="0.3" stroke-dasharray="0.7 0.7"/>
<circle cx="319.0" cy="32.8" r="14.41" fill="none" stroke="#b8b8b8" stroke-width="0.3" stroke-dasharray="0.7 0.7"/>
<circle cx="319.0" cy="32.8" r="20.96" fill="none" stroke="#b8b8b8" stroke-width="0.3" stroke-dasharray="0.7 0.7"/>
<line x1="319.00" y1="24.94" x2="319.00" y2="6.60" stroke="#c0c0c0" stroke-width="0.3" stroke-dasharray="0.7 0.7"/>
<line x1="322.93" y1="25.99" x2="332.10" y2="10.11" stroke="#c0c0c0" stroke-width="0.3" stroke-dasharray="0.7 0.7"/>
<line x1="325.81" y1="28.87" x2="341.69" y2="19.70" stroke="#c0c0c0" stroke-width="0.3" stroke-dasharray="0.7 0.7"/>
<line x1="326.86" y1="32.80" x2="345.20" y2="32.80" stroke="#c0c0c0" stroke-width="0.3" stroke-dasharray="0.7 0.7"/>
<line x1="325.81" y1="36.73" x2="341.69" y2="45.90" stroke="#c0c0c0" stroke-width="0.3" stroke-dasharray="0.7 0.7"/>
<line x1="322.93" y1="39.61" x2="332.10" y2="55.49" stroke="#c0c0c0" stroke-width="0.3" stroke-dasharray="0.7 0.7"/>
<line x1="319.00" y1="40.66" x2="319.00" y2="59.00" stroke="#c0c0c0" stroke-width="0.3" stroke-dasharray="0.7 0.7"/>
<line x1="315.07" y1="39.61" x2="305.90" y2="55.49" stroke="#c0c0c0" stroke-width="0.3" stroke-dasharray="0.7 0.7"/>
<line x1="312.19" y1="36.73" x2="296.31" y2="45.90" stroke="#c0c0c0" stroke-width="0.3" stroke-dasharray="0.7 0.7"/>
<line x1="311.14" y1="32.80" x2="292.80" y2="32.80" stroke="#c0c0c0" stroke-width="0.3" stroke-dasharray="0.7 0.7"/>
<line x1="312.19" y1="28.87" x2="296.31" y2="19.70" stroke="#c0c0c0" stroke-width="0.3" stroke-dasharray="0.7 0.7"/>
<line x1="315.07" y1="25.99" x2="305.90" y2="10.11" stroke="#c0c0c0" stroke-width="0.3" stroke-dasharray="0.7 0.7"/>
<path d="M320.05,21.03 C321.05,20.98 322.10,20.66 323.09,20.80 C324.07,20.93 325.10,21.32 325.96,21.82 C326.83,22.32 327.55,23.11 328.28,23.79 C329.01,24.46 329.86,25.07 330.37,25.88 C330.88,26.69 331.07,27.75 331.35,28.67 C331.62,29.58 331.80,30.47 332.03,31.38 C332.25,32.28 332.61,33.18 332.68,34.11 C332.75,35.04 332.54,35.97 332.46,36.94 C332.38,37.92 332.37,38.92 332.19,39.96 C332.00,40.99 331.98,42.35 331.36,43.13 C330.74,43.91 329.40,44.19 328.46,44.66 C327.53,45.13 326.71,45.76 325.75,45.96 C324.80,46.16 323.69,45.74 322.73,45.88 C321.78,46.02 320.98,46.62 320.05,46.79 C319.11,46.97 318.03,47.15 317.12,46.92 C316.22,46.69 315.49,45.84 314.60,45.42 C313.72,45.01 312.65,44.93 311.81,44.44 C310.97,43.95 310.16,43.25 309.56,42.47 C308.96,41.70 308.69,40.69 308.23,39.80 C307.78,38.91 307.16,38.08 306.81,37.13 C306.46,36.18 306.12,35.11 306.13,34.11 C306.15,33.11 306.38,31.98 306.88,31.11 C307.39,30.23 308.48,29.58 309.14,28.86 C309.80,28.13 310.32,27.52 310.83,26.76 C311.34,26.00 311.61,25.00 312.22,24.30 C312.83,23.59 313.67,23.08 314.48,22.55 C315.29,22.02 316.16,21.39 317.09,21.13 C318.01,20.88 319.05,21.09 320.05,21.03Z" fill="none" stroke="#222" stroke-width="0.4" opacity="0.65"/>
<path d="M320.05,17.56 C321.26,17.44 322.65,17.36 323.78,17.77 C324.91,18.18 325.91,19.24 326.84,20.01 C327.77,20.79 328.54,21.64 329.36,22.43 C330.18,23.23 331.07,23.91 331.74,24.78 C332.41,25.66 332.80,26.71 333.38,27.69 C333.96,28.66 334.73,29.58 335.22,30.65 C335.71,31.72 336.07,32.90 336.31,34.11 C336.55,35.32 336.87,36.70 336.66,37.90 C336.44,39.10 335.73,40.31 335.02,41.32 C334.32,42.33 333.36,43.23 332.42,43.97 C331.47,44.72 330.32,45.14 329.36,45.79 C328.40,46.43 327.66,47.32 326.67,47.87 C325.69,48.42 324.57,48.79 323.47,49.10 C322.37,49.41 321.20,49.66 320.05,49.71 C318.90,49.76 317.70,49.61 316.56,49.38 C315.42,49.15 314.29,48.79 313.19,48.35 C312.10,47.90 311.04,47.34 310.00,46.71 C308.96,46.08 307.76,45.46 306.93,44.57 C306.11,43.67 305.40,42.50 305.05,41.33 C304.71,40.16 304.79,38.78 304.87,37.57 C304.96,36.37 305.39,35.22 305.57,34.11 C305.74,33.00 305.73,31.95 305.93,30.89 C306.13,29.82 306.45,28.80 306.77,27.72 C307.09,26.63 307.38,25.49 307.87,24.40 C308.36,23.31 308.86,21.97 309.72,21.16 C310.59,20.36 311.93,20.03 313.05,19.58 C314.18,19.14 315.32,18.83 316.48,18.50 C317.65,18.16 318.83,17.68 320.05,17.56Z" fill="none" stroke="#222" stroke-width="0.4" opacity="0.65"/>
<path d="M320.05,15.30 C321.44,15.42 322.89,15.65 324.13,16.22 C325.37,16.79 326.39,17.93 327.47,18.70 C328.55,19.48 329.54,20.14 330.61,20.87 C331.67,21.60 332.85,22.22 333.85,23.11 C334.84,23.99 335.76,25.03 336.56,26.16 C337.37,27.28 338.12,28.54 338.66,29.86 C339.21,31.19 339.94,32.72 339.83,34.11 C339.72,35.50 338.61,36.92 337.99,38.20 C337.36,39.49 336.66,40.59 336.08,41.83 C335.51,43.08 335.34,44.60 334.55,45.67 C333.76,46.74 332.43,47.45 331.34,48.27 C330.25,49.09 329.22,50.11 327.99,50.60 C326.76,51.09 325.28,51.00 323.95,51.21 C322.63,51.42 321.37,51.77 320.05,51.85 C318.73,51.93 317.46,51.68 316.04,51.67 C314.62,51.65 312.99,52.04 311.55,51.75 C310.12,51.46 308.51,50.88 307.43,49.93 C306.34,48.99 305.67,47.40 305.05,46.07 C304.43,44.75 304.00,43.34 303.70,41.98 C303.39,40.63 303.30,39.26 303.22,37.95 C303.15,36.64 303.42,35.43 303.25,34.11 C303.08,32.79 302.22,31.39 302.21,30.04 C302.20,28.69 302.63,27.23 303.20,26.00 C303.77,24.76 304.69,23.61 305.63,22.61 C306.56,21.61 307.77,20.95 308.79,20.00 C309.82,19.05 310.59,17.64 311.76,16.89 C312.92,16.14 314.42,15.77 315.80,15.50 C317.18,15.24 318.66,15.18 320.05,15.30Z" fill="none" stroke="#222" stroke-width="0.4" opacity="0.65"/>
<line x1="320.39" y1="22.94" x2="322.61" y2="7.11" stroke="#3c9aa0" stroke-width="0.45" opacity="0.75"/>
<line x1="325.13" y1="24.95" x2="334.97" y2="12.36" stroke="#3c9aa0" stroke-width="0.45" opacity="0.75"/>
<line x1="328.23" y1="29.07" x2="343.05" y2="23.08" stroke="#3c9aa0" stroke-width="0.45" opacity="0.75"/>
<line x1="328.86" y1="34.19" x2="344.69" y2="36.41" stroke="#3c9aa0" stroke-width="0.45" opacity="0.75"/>
<line x1="326.85" y1="38.93" x2="339.44" y2="48.77" stroke="#3c9aa0" stroke-width="0.45" opacity="0.75"/>
<line x1="322.73" y1="42.03" x2="328.72" y2="56.85" stroke="#3c9aa0" stroke-width="0.45" opacity="0.75"/>
<line x1="317.61" y1="42.66" x2="315.39" y2="58.49" stroke="#3c9aa0" stroke-width="0.45" opacity="0.75"/>
<line x1="312.87" y1="40.65" x2="303.03" y2="53.24" stroke="#3c9aa0" stroke-width="0.45" opacity="0.75"/>
<line x1="309.77" y1="36.53" x2="294.95" y2="42.52" stroke="#3c9aa0" stroke-width="0.45" opacity="0.75"/>
<line x1="309.14" y1="31.41" x2="293.31" y2="29.19" stroke="#3c9aa0" stroke-width="0.45" opacity="0.75"/>
<line x1="311.15" y1="26.67" x2="298.56" y2="16.83" stroke="#3c9aa0" stroke-width="0.45" opacity="0.75"/>
<line x1="315.27" y1="23.57" x2="309.28" y2="8.75" stroke="#3c9aa0" stroke-width="0.45" opacity="0.75"/>
<circle cx="319.0" cy="32.8" r="14.41" fill="none" stroke="#3c9aa0" stroke-width="0.45" opacity="0.75"/>
<circle cx="319.0" cy="32.8" r="19.39" fill="none" stroke="#3c9aa0" stroke-width="0.45" opacity="0.75"/>
<circle cx="319.0" cy="32.8" r="23.84" fill="none" stroke="#3c9aa0" stroke-width="0.45" opacity="0.75"/>
<path d="M316.4,7.9 Q337.3,10.5 342.6,24.9" fill="none" stroke="#1f3f8f" stroke-width="0.7"/>
<path d="M321.6,14.5 L340.0,18.4" fill="none" stroke="#1f3f8f" stroke-width="0.5"/>
<path d="M324.2,27.6 L343.9,31.5" fill="none" stroke="#2060a0" stroke-width="0.5"/>
<path d="M295.4,35.4 Q303.3,51.1 319.0,55.9" fill="none" stroke="#3a9aa0" stroke-width="0.5"/>
</g>
<g clip-path="url(#cp10L)"><path d="M307.21,6.60 C308.43,6.16 313.89,5.73 315.33,6.60 C316.77,7.47 315.81,10.18 315.86,11.84 C315.90,13.50 315.81,15.25 315.59,16.56 C315.38,17.87 315.03,19.44 314.55,19.70 C314.07,19.96 313.45,19.18 312.71,18.13 C311.97,17.08 310.88,14.90 310.09,13.41 C309.31,11.93 308.48,10.36 308.00,9.22 C307.52,8.08 305.99,7.04 307.21,6.60Z" fill="#b3b3b3"/>
<path d="M338.91,19.18 C339.35,18.39 341.40,18.56 342.58,19.18 C343.76,19.79 345.42,21.01 345.99,22.84 C346.55,24.68 346.55,29.22 345.99,30.18 C345.42,31.14 343.58,29.66 342.58,28.61 C341.58,27.56 340.57,25.46 339.96,23.89 C339.35,22.32 338.48,19.96 338.91,19.18Z" fill="#b3b3b3"/>
<path d="M309.57,59.79 C307.47,59.09 310.22,56.55 311.14,55.59 C312.06,54.63 313.76,54.15 315.07,54.02 C316.38,53.89 317.82,54.76 319.00,54.81 C320.18,54.85 321.27,53.93 322.14,54.28 C323.02,54.63 323.98,55.99 324.24,56.90 C324.50,57.82 326.16,59.31 323.72,59.79 C321.27,60.27 311.66,60.48 309.57,59.79Z" fill="#b3b3b3"/>
<path d="M313.76,26.51 C314.72,25.94 316.29,25.81 317.69,25.73 C319.09,25.64 320.83,25.59 322.14,25.99 C323.45,26.38 324.68,27.04 325.55,28.08 C326.42,29.13 327.03,30.79 327.38,32.28 C327.73,33.76 327.86,35.51 327.65,36.99 C327.43,38.48 326.90,40.09 326.07,41.18 C325.24,42.28 323.89,43.11 322.67,43.54 C321.45,43.98 319.96,44.02 318.74,43.80 C317.52,43.59 316.25,42.89 315.33,42.23 C314.41,41.58 313.19,40.57 313.24,39.87 C313.28,39.18 315.07,38.78 315.59,38.04 C316.12,37.30 316.64,36.07 316.38,35.42 C316.12,34.76 314.76,34.63 314.02,34.11 C313.28,33.59 312.28,33.11 311.93,32.28 C311.58,31.45 311.62,30.09 311.93,29.13 C312.23,28.17 312.80,27.08 313.76,26.51Z" fill="#b3b3b3"/></g>
<circle cx="319.0" cy="32.8" r="26.2" fill="none" stroke="#3aa0a0" stroke-width="0.6"/>
<text x="311.1" y="6.6" font-size="3.4" fill="#3a3a3a" text-anchor="middle" transform="rotate(-25 311.1 6.6)">60°W</text>
<text x="335.2" y="11.3" font-size="3.4" fill="#3a3a3a" text-anchor="middle" transform="rotate(40 335.2 11.3)">0°</text>
<text x="291.5" y="29.7" font-size="3.4" fill="#3a3a3a" text-anchor="middle" transform="rotate(-75 291.5 29.7)">90°W</text>
<text x="346.2" y="41.2" font-size="3.4" fill="#3a3a3a" text-anchor="middle" transform="rotate(80 346.2 41.2)">60°E</text>
<text x="296.7" y="53.8" font-size="3.4" fill="#3a3a3a" text-anchor="middle" transform="rotate(35 296.7 53.8)">120°W</text>
<text x="329.5" y="59.0" font-size="3.4" fill="#3a3a3a" text-anchor="middle" transform="rotate(-20 329.5 59.0)">180°</text>
<g clip-path="url(#cp11)">
<circle cx="319.0" cy="91.7" r="26.2" fill="#8ccfa8"/>
<ellipse cx="304.59" cy="78.60" rx="9.17" ry="9.17" fill="#d6edb8" opacity="0.95" filter="url(#bl2)" transform="rotate(0 304.59 78.60)"/>
<ellipse cx="296.73" cy="94.32" rx="5.24" ry="10.48" fill="#b4e0ac" opacity="0.9" filter="url(#bl2)" transform="rotate(0 296.73 94.32)"/>
<ellipse cx="308.52" cy="112.14" rx="7.86" ry="5.24" fill="#3f9fb2" opacity="0.9" filter="url(#bl2)" transform="rotate(0 308.52 112.14)"/>
<ellipse cx="334.72" cy="106.11" rx="9.17" ry="7.86" fill="#5ab6a8" opacity="0.9" filter="url(#bl2)" transform="rotate(0 334.72 106.11)"/>
<path d="M319.00,91.70 L318.01,63.42 A28.30,28.30 0 0 1 346.87,96.61 Z" fill="#2a62a4" opacity="0.92" filter="url(#bl1)"/>
<ellipse cx="339.96" cy="78.60" rx="4.72" ry="7.86" fill="#0f2a74" opacity="0.95" filter="url(#bl1)" transform="rotate(30 339.96 78.60)"/>
<ellipse cx="328.17" cy="69.43" rx="7.86" ry="3.14" fill="#1c4690" opacity="0.9" filter="url(#bl1)" transform="rotate(15 328.17 69.43)"/>
<path d="M320.05,80.50 C320.95,80.29 322.01,80.25 322.91,80.47 C323.81,80.69 324.67,81.29 325.44,81.82 C326.20,82.35 326.89,83.00 327.50,83.66 C328.12,84.32 328.51,85.11 329.13,85.77 C329.74,86.44 330.74,86.89 331.18,87.65 C331.63,88.41 331.67,89.43 331.82,90.32 C331.97,91.22 332.22,92.14 332.09,93.01 C331.96,93.88 331.30,94.67 331.06,95.52 C330.82,96.37 330.95,97.31 330.65,98.11 C330.35,98.92 329.68,99.52 329.26,100.35 C328.84,101.19 328.72,102.40 328.13,103.15 C327.54,103.89 326.62,104.48 325.73,104.81 C324.84,105.13 323.75,105.07 322.81,105.09 C321.86,105.12 320.94,105.05 320.05,104.95 C319.15,104.85 318.25,104.77 317.43,104.49 C316.61,104.20 315.93,103.59 315.13,103.23 C314.32,102.88 313.38,102.78 312.60,102.35 C311.82,101.93 310.95,101.39 310.44,100.67 C309.93,99.96 309.93,98.89 309.54,98.07 C309.14,97.25 308.38,96.59 308.04,95.75 C307.71,94.91 307.64,93.95 307.52,93.01 C307.40,92.07 307.12,91.01 307.34,90.11 C307.56,89.21 308.23,88.34 308.83,87.61 C309.43,86.88 310.29,86.37 310.93,85.74 C311.58,85.11 312.03,84.33 312.71,83.81 C313.39,83.28 314.23,82.93 315.03,82.58 C315.82,82.24 316.64,82.09 317.48,81.74 C318.31,81.39 319.14,80.71 320.05,80.50Z" fill="none" stroke="#1f5a9c" stroke-width="5.24" opacity="0.88" filter="url(#bl1)"/>
<ellipse cx="328.17" cy="103.49" rx="7.86" ry="6.55" fill="#24609f" opacity="0.45" filter="url(#bl2)" transform="rotate(0 328.17 103.49)"/>
<path d="M320.05,74.84 C321.40,74.99 322.68,75.42 323.99,75.72 C325.31,76.02 326.75,76.06 327.93,76.64 C329.11,77.21 330.03,78.33 331.08,79.18 C332.13,80.02 333.44,80.66 334.22,81.71 C335.01,82.75 335.46,84.16 335.78,85.43 C336.10,86.71 335.95,88.08 336.12,89.34 C336.30,90.60 336.77,91.77 336.84,93.01 C336.91,94.25 336.60,95.45 336.55,96.78 C336.51,98.10 336.91,99.67 336.57,100.97 C336.23,102.26 335.38,103.50 334.53,104.56 C333.67,105.61 332.55,106.53 331.43,107.28 C330.30,108.03 329.02,108.57 327.78,109.06 C326.53,109.55 325.26,110.08 323.98,110.22 C322.69,110.36 321.34,109.96 320.05,109.90 C318.75,109.83 317.50,109.97 316.21,109.82 C314.93,109.67 313.57,109.46 312.35,109.00 C311.12,108.54 309.86,107.89 308.85,107.05 C307.84,106.22 307.10,105.04 306.27,104.00 C305.45,102.95 304.72,101.91 303.90,100.79 C303.08,99.67 301.72,98.57 301.35,97.28 C300.98,95.98 301.58,94.41 301.68,93.01 C301.77,91.61 301.41,90.10 301.92,88.87 C302.43,87.64 303.83,86.64 304.73,85.63 C305.63,84.63 306.48,83.78 307.31,82.85 C308.14,81.93 308.87,81.01 309.73,80.07 C310.58,79.13 311.41,78.08 312.44,77.21 C313.47,76.33 314.63,75.22 315.90,74.82 C317.17,74.43 318.70,74.69 320.05,74.84Z" fill="none" stroke="#3a90b0" stroke-width="2.36" opacity="0.6" filter="url(#bl1)"/>
<path d="M321.23,77.71 A15.35,15.35 0 0 1 323.53,77.57" fill="none" stroke="#1a4a8a" stroke-width="0.78" opacity="0.35"/>
<path d="M317.55,104.10 A11.36,11.36 0 0 1 312.86,103.39" fill="none" stroke="#1a4a8a" stroke-width="0.63" opacity="0.35"/>
<path d="M332.31,82.41 A16.21,16.21 0 0 1 334.78,86.81" fill="none" stroke="#cfe8c0" stroke-width="0.35" opacity="0.35"/>
<path d="M322.03,77.63 A15.50,15.50 0 0 1 328.40,80.90" fill="none" stroke="#5ab4a8" stroke-width="0.50" opacity="0.35"/>
<path d="M308.30,109.87 A20.55,20.55 0 0 1 305.36,107.07" fill="none" stroke="#cfe8c0" stroke-width="0.57" opacity="0.35"/>
<path d="M315.82,78.87 A14.76,14.76 0 0 1 322.07,79.17" fill="none" stroke="#5ab4a8" stroke-width="0.32" opacity="0.35"/>
<path d="M300.73,94.83 A19.41,19.41 0 0 1 302.53,86.55" fill="none" stroke="#5ab4a8" stroke-width="0.66" opacity="0.35"/>
<path d="M331.89,88.65 A12.62,12.62 0 0 1 331.46,93.05" fill="none" stroke="#5ab4a8" stroke-width="0.45" opacity="0.35"/>
<path d="M311.58,110.46 A19.40,19.40 0 0 1 307.23,106.92" fill="none" stroke="#1a4a8a" stroke-width="0.79" opacity="0.35"/>
<path d="M319.48,79.04 A13.99,13.99 0 0 1 324.86,80.79" fill="none" stroke="#cfe8c0" stroke-width="0.77" opacity="0.35"/>
<path d="M309.93,86.74 A11.90,11.90 0 0 1 312.41,85.56" fill="none" stroke="#cfe8c0" stroke-width="0.49" opacity="0.35"/>
<path d="M316.41,79.86 A13.65,13.65 0 0 1 321.33,79.93" fill="none" stroke="#1a4a8a" stroke-width="0.36" opacity="0.35"/>
<path d="M334.87,88.46 A15.50,15.50 0 0 1 334.34,92.09" fill="none" stroke="#cfe8c0" stroke-width="0.36" opacity="0.35"/>
<path d="M326.48,84.03 A11.05,11.05 0 0 1 329.24,88.50" fill="none" stroke="#5ab4a8" stroke-width="0.38" opacity="0.35"/>
<path d="M319.42,82.95 A10.08,10.08 0 0 1 321.07,82.69" fill="none" stroke="#cfe8c0" stroke-width="0.44" opacity="0.35"/>
<path d="M333.82,106.34 A19.17,19.17 0 0 1 327.97,109.13" fill="none" stroke="#1a4a8a" stroke-width="0.54" opacity="0.35"/>
<path d="M303.80,88.03 A16.99,16.99 0 0 1 305.72,82.35" fill="none" stroke="#1a4a8a" stroke-width="0.43" opacity="0.35"/>
<path d="M305.47,91.59 A14.65,14.65 0 0 1 308.95,85.56" fill="none" stroke="#5ab4a8" stroke-width="0.59" opacity="0.35"/>
<path d="M323.80,103.61 A11.25,11.25 0 0 1 318.26,104.29" fill="none" stroke="#cfe8c0" stroke-width="0.32" opacity="0.35"/>
<path d="M312.03,102.22 A12.21,12.21 0 0 1 309.84,101.14" fill="none" stroke="#5ab4a8" stroke-width="0.64" opacity="0.35"/>
<path d="M314.26,109.25 A17.24,17.24 0 0 1 309.06,107.00" fill="none" stroke="#cfe8c0" stroke-width="0.50" opacity="0.35"/>
<path d="M317.58,109.25 A16.43,16.43 0 0 1 311.34,107.60" fill="none" stroke="#5ab4a8" stroke-width="0.46" opacity="0.35"/>
<path d="M330.61,103.12 A14.62,14.62 0 0 1 326.65,105.15" fill="none" stroke="#5ab4a8" stroke-width="0.65" opacity="0.35"/>
<path d="M309.20,112.82 A22.58,22.58 0 0 1 306.69,109.96" fill="none" stroke="#5ab4a8" stroke-width="0.40" opacity="0.35"/>
<path d="M332.43,92.66 A12.39,12.39 0 0 1 332.27,98.54" fill="none" stroke="#5ab4a8" stroke-width="0.57" opacity="0.35"/>
<path d="M340.75,92.07 A20.73,20.73 0 0 1 340.20,100.73" fill="none" stroke="#1a4a8a" stroke-width="0.54" opacity="0.35"/>
<path d="M304.51,84.74 A17.60,17.60 0 0 1 306.70,81.79" fill="none" stroke="#cfe8c0" stroke-width="0.48" opacity="0.35"/>
<path d="M328.89,105.39 A15.21,15.21 0 0 1 322.82,107.16" fill="none" stroke="#1a4a8a" stroke-width="0.46" opacity="0.35"/>
<path d="M330.51,96.19 A10.94,10.94 0 0 1 327.30,100.17" fill="none" stroke="#1a4a8a" stroke-width="0.74" opacity="0.35"/>
<path d="M304.78,98.66 A16.27,16.27 0 0 1 303.46,91.33" fill="none" stroke="#cfe8c0" stroke-width="0.39" opacity="0.35"/>
<path d="M322.96,79.48 A13.84,13.84 0 0 1 326.71,80.96" fill="none" stroke="#1a4a8a" stroke-width="0.79" opacity="0.35"/>
<path d="M333.49,95.33 A13.64,13.64 0 0 1 333.66,98.45" fill="none" stroke="#1a4a8a" stroke-width="0.59" opacity="0.35"/>
<path d="M327.37,103.56 A12.84,12.84 0 0 1 322.60,105.87" fill="none" stroke="#cfe8c0" stroke-width="0.57" opacity="0.35"/>
<path d="M336.52,100.73 A18.20,18.20 0 0 1 334.62,102.48" fill="none" stroke="#5ab4a8" stroke-width="0.75" opacity="0.35"/>
<path d="M320.83,109.53 A16.54,16.54 0 0 1 316.97,110.43" fill="none" stroke="#5ab4a8" stroke-width="0.45" opacity="0.35"/>
<path d="M331.65,106.62 A17.88,17.88 0 0 1 325.69,109.21" fill="none" stroke="#5ab4a8" stroke-width="0.32" opacity="0.35"/>
<path d="M314.50,104.69 A12.93,12.93 0 0 1 308.97,101.32" fill="none" stroke="#5ab4a8" stroke-width="0.64" opacity="0.35"/>
<path d="M339.45,102.70 A21.69,21.69 0 0 1 331.89,109.80" fill="none" stroke="#1a4a8a" stroke-width="0.66" opacity="0.35"/>
<path d="M298.88,91.64 A21.21,21.21 0 0 1 300.49,86.19" fill="none" stroke="#1a4a8a" stroke-width="0.77" opacity="0.35"/>
<path d="M337.59,90.27 A17.75,17.75 0 0 1 336.00,97.77" fill="none" stroke="#5ab4a8" stroke-width="0.70" opacity="0.35"/>
<path d="M326.19,108.52 A16.68,16.68 0 0 1 321.50,110.12" fill="none" stroke="#cfe8c0" stroke-width="0.71" opacity="0.35"/>
<path d="M308.35,94.70 A11.82,11.82 0 0 1 309.35,92.02" fill="none" stroke="#5ab4a8" stroke-width="0.33" opacity="0.35"/>
<path d="M314.05,105.92 A14.24,14.24 0 0 1 309.13,101.69" fill="none" stroke="#5ab4a8" stroke-width="0.41" opacity="0.35"/>
<path d="M325.82,77.89 A16.18,16.18 0 0 1 332.52,81.19" fill="none" stroke="#5ab4a8" stroke-width="0.53" opacity="0.35"/>
<path d="M332.08,109.89 A20.73,20.73 0 0 1 324.22,114.41" fill="none" stroke="#cfe8c0" stroke-width="0.56" opacity="0.35"/>
<path d="M332.06,98.53 A13.22,13.22 0 0 1 329.89,100.14" fill="none" stroke="#1a4a8a" stroke-width="0.37" opacity="0.35"/>
<path d="M308.36,112.65 A22.86,22.86 0 0 1 301.82,105.10" fill="none" stroke="#5ab4a8" stroke-width="0.53" opacity="0.35"/>
<path d="M343.38,96.69 A23.62,23.62 0 0 1 342.53,102.33" fill="none" stroke="#5ab4a8" stroke-width="0.60" opacity="0.35"/>
<path d="M310.79,88.60 A10.26,10.26 0 0 1 311.99,86.04" fill="none" stroke="#5ab4a8" stroke-width="0.71" opacity="0.35"/>
<path d="M315.16,70.99 A22.56,22.56 0 0 1 318.39,69.97" fill="none" stroke="#5ab4a8" stroke-width="0.43" opacity="0.35"/>
<path d="M298.04,109.52 L311.14,102.70" stroke="#ffffff" stroke-width="0.8" opacity="0.8"/>
<path d="M320.05,79.93 C321.05,79.88 322.10,79.56 323.09,79.70 C324.07,79.83 325.10,80.22 325.96,80.72 C326.83,81.22 327.55,82.01 328.28,82.69 C329.01,83.36 329.86,83.97 330.37,84.78 C330.88,85.59 331.07,86.65 331.35,87.57 C331.62,88.48 331.80,89.37 332.03,90.28 C332.25,91.18 332.61,92.08 332.68,93.01 C332.75,93.94 332.54,94.87 332.46,95.84 C332.38,96.82 332.37,97.82 332.19,98.86 C332.00,99.89 331.98,101.25 331.36,102.03 C330.74,102.81 329.40,103.09 328.46,103.56 C327.53,104.03 326.71,104.66 325.75,104.86 C324.80,105.06 323.69,104.64 322.73,104.78 C321.78,104.92 320.98,105.52 320.05,105.69 C319.11,105.87 318.03,106.05 317.12,105.82 C316.22,105.59 315.49,104.74 314.60,104.32 C313.72,103.91 312.65,103.83 311.81,103.34 C310.97,102.85 310.16,102.15 309.56,101.37 C308.96,100.60 308.69,99.59 308.23,98.70 C307.78,97.81 307.16,96.98 306.81,96.03 C306.46,95.08 306.12,94.01 306.13,93.01 C306.15,92.01 306.38,90.88 306.88,90.01 C307.39,89.13 308.48,88.48 309.14,87.76 C309.80,87.03 310.32,86.42 310.83,85.66 C311.34,84.90 311.61,83.90 312.22,83.20 C312.83,82.49 313.67,81.98 314.48,81.45 C315.29,80.92 316.16,80.29 317.09,80.03 C318.01,79.78 319.05,79.99 320.05,79.93Z" fill="none" stroke="#28343a" stroke-width="0.35" opacity="0.5"/>
<path d="M320.05,76.46 C321.26,76.34 322.65,76.26 323.78,76.67 C324.91,77.08 325.91,78.14 326.84,78.91 C327.77,79.69 328.54,80.54 329.36,81.33 C330.18,82.13 331.07,82.81 331.74,83.68 C332.41,84.56 332.80,85.61 333.38,86.59 C333.96,87.56 334.73,88.48 335.22,89.55 C335.71,90.62 336.07,91.80 336.31,93.01 C336.55,94.22 336.87,95.60 336.66,96.80 C336.44,98.00 335.73,99.21 335.02,100.22 C334.32,101.23 333.36,102.13 332.42,102.87 C331.47,103.62 330.32,104.04 329.36,104.69 C328.40,105.33 327.66,106.22 326.67,106.77 C325.69,107.32 324.57,107.69 323.47,108.00 C322.37,108.31 321.20,108.56 320.05,108.61 C318.90,108.66 317.70,108.51 316.56,108.28 C315.42,108.05 314.29,107.69 313.19,107.25 C312.10,106.80 311.04,106.24 310.00,105.61 C308.96,104.98 307.76,104.36 306.93,103.47 C306.11,102.57 305.40,101.40 305.05,100.23 C304.71,99.06 304.79,97.68 304.87,96.47 C304.96,95.27 305.39,94.12 305.57,93.01 C305.74,91.90 305.73,90.85 305.93,89.79 C306.13,88.72 306.45,87.70 306.77,86.62 C307.09,85.53 307.38,84.39 307.87,83.30 C308.36,82.21 308.86,80.87 309.72,80.06 C310.59,79.26 311.93,78.93 313.05,78.48 C314.18,78.04 315.32,77.73 316.48,77.40 C317.65,77.06 318.83,76.58 320.05,76.46Z" fill="none" stroke="#28343a" stroke-width="0.35" opacity="0.5"/>
<path d="M320.05,74.20 C321.44,74.32 322.89,74.55 324.13,75.12 C325.37,75.69 326.39,76.83 327.47,77.60 C328.55,78.38 329.54,79.04 330.61,79.77 C331.67,80.50 332.85,81.12 333.85,82.01 C334.84,82.89 335.76,83.93 336.56,85.06 C337.37,86.18 338.12,87.44 338.66,88.76 C339.21,90.09 339.94,91.62 339.83,93.01 C339.72,94.40 338.61,95.82 337.99,97.10 C337.36,98.39 336.66,99.49 336.08,100.73 C335.51,101.98 335.34,103.50 334.55,104.57 C333.76,105.64 332.43,106.35 331.34,107.17 C330.25,107.99 329.22,109.01 327.99,109.50 C326.76,109.99 325.28,109.90 323.95,110.11 C322.63,110.32 321.37,110.67 320.05,110.75 C318.73,110.83 317.46,110.58 316.04,110.57 C314.62,110.55 312.99,110.94 311.55,110.65 C310.12,110.36 308.51,109.78 307.43,108.83 C306.34,107.89 305.67,106.30 305.05,104.97 C304.43,103.65 304.00,102.24 303.70,100.88 C303.39,99.53 303.30,98.16 303.22,96.85 C303.15,95.54 303.42,94.33 303.25,93.01 C303.08,91.69 302.22,90.29 302.21,88.94 C302.20,87.59 302.63,86.13 303.20,84.90 C303.77,83.66 304.69,82.51 305.63,81.51 C306.56,80.51 307.77,79.85 308.79,78.90 C309.82,77.95 310.59,76.54 311.76,75.79 C312.92,75.04 314.42,74.67 315.80,74.40 C317.18,74.14 318.66,74.08 320.05,74.20Z" fill="none" stroke="#28343a" stroke-width="0.35" opacity="0.5"/>
</g>
<g clip-path="url(#cp11L)"><path d="M311.24,83.12 C312.40,82.45 314.28,82.29 315.96,82.19 C317.64,82.09 319.73,82.03 321.31,82.50 C322.88,82.96 324.34,83.74 325.39,84.97 C326.44,86.21 327.17,88.17 327.59,89.92 C328.01,91.67 328.17,93.73 327.91,95.48 C327.65,97.24 327.02,99.14 326.02,100.43 C325.03,101.72 323.40,102.70 321.93,103.21 C320.47,103.73 318.69,103.78 317.22,103.52 C315.75,103.26 314.23,102.44 313.13,101.67 C312.03,100.89 310.56,99.71 310.62,98.88 C310.67,98.06 312.82,97.60 313.45,96.72 C314.07,95.84 314.70,94.40 314.39,93.63 C314.07,92.86 312.45,92.70 311.56,92.08 C310.67,91.46 309.46,90.90 309.04,89.92 C308.62,88.94 308.68,87.34 309.04,86.21 C309.41,85.07 310.09,83.79 311.24,83.12Z" fill="#e8f2f0" opacity="0.5" filter="url(#bl05)"/>
<path d="M310.35,89.60 C310.75,87.86 311.79,85.24 312.71,83.84 C313.63,82.44 314.90,81.48 315.86,81.22 C316.82,80.96 317.73,81.70 318.48,82.27 C319.22,82.84 321.10,84.10 320.31,84.63 C319.52,85.15 315.16,84.84 313.76,85.41 C312.36,85.98 312.23,87.07 311.93,88.03 C311.62,88.99 311.58,90.35 311.93,91.18 C312.28,92.01 313.28,92.49 314.02,93.01 C314.76,93.53 316.12,93.67 316.38,94.32 C316.64,94.98 316.12,96.20 315.59,96.94 C315.07,97.68 313.89,98.56 313.24,98.77 C312.58,98.99 312.14,98.99 311.66,98.25 C311.18,97.51 310.57,95.76 310.35,94.32 C310.14,92.88 309.96,91.35 310.35,89.60Z" fill="#eef4f8" opacity="0.55"/>
<path d="M307.21,65.50 C308.43,65.06 313.89,64.63 315.33,65.50 C316.77,66.37 315.81,69.08 315.86,70.74 C315.90,72.40 315.81,74.15 315.59,75.46 C315.38,76.77 315.03,78.34 314.55,78.60 C314.07,78.86 313.45,78.08 312.71,77.03 C311.97,75.98 310.88,73.80 310.09,72.31 C309.31,70.83 308.48,69.26 308.00,68.12 C307.52,66.98 305.99,65.94 307.21,65.50Z" fill="#b3b3b3"/>
<path d="M338.91,78.08 C339.35,77.29 341.40,77.46 342.58,78.08 C343.76,78.69 345.42,79.91 345.99,81.74 C346.55,83.58 346.55,88.12 345.99,89.08 C345.42,90.04 343.58,88.56 342.58,87.51 C341.58,86.46 340.57,84.36 339.96,82.79 C339.35,81.22 338.48,78.86 338.91,78.08Z" fill="#b3b3b3"/>
<path d="M309.57,118.69 C307.47,117.99 310.22,115.45 311.14,114.49 C312.06,113.53 313.76,113.05 315.07,112.92 C316.38,112.79 317.82,113.66 319.00,113.71 C320.18,113.75 321.27,112.83 322.14,113.18 C323.02,113.53 323.98,114.89 324.24,115.80 C324.50,116.72 326.16,118.21 323.72,118.69 C321.27,119.17 311.66,119.38 309.57,118.69Z" fill="#b3b3b3"/>
<path d="M313.76,85.41 C314.72,84.84 316.29,84.71 317.69,84.63 C319.09,84.54 320.83,84.50 322.14,84.89 C323.45,85.28 324.68,85.94 325.55,86.98 C326.42,88.03 327.03,89.69 327.38,91.18 C327.73,92.66 327.86,94.41 327.65,95.89 C327.43,97.38 326.90,98.99 326.07,100.08 C325.24,101.18 323.89,102.01 322.67,102.44 C321.45,102.88 319.96,102.92 318.74,102.70 C317.52,102.49 316.25,101.79 315.33,101.13 C314.41,100.48 313.19,99.47 313.24,98.77 C313.28,98.08 315.07,97.68 315.59,96.94 C316.12,96.20 316.64,94.98 316.38,94.32 C316.12,93.67 314.76,93.53 314.02,93.01 C313.28,92.49 312.28,92.01 311.93,91.18 C311.58,90.35 311.62,88.99 311.93,88.03 C312.23,87.07 312.80,85.98 313.76,85.41Z" fill="#b3b3b3"/></g>
<circle cx="319.0" cy="91.7" r="26.2" fill="none" stroke="#a8a8a8" stroke-width="0.5"/>
<text x="311.1" y="65.5" font-size="3.4" fill="#3a3a3a" text-anchor="middle" transform="rotate(-25 311.1 65.5)">60°W</text>
<text x="335.2" y="70.2" font-size="3.4" fill="#3a3a3a" text-anchor="middle" transform="rotate(40 335.2 70.2)">0°</text>
<text x="291.5" y="88.6" font-size="3.4" fill="#3a3a3a" text-anchor="middle" transform="rotate(-75 291.5 88.6)">90°W</text>
<text x="346.2" y="100.1" font-size="3.4" fill="#3a3a3a" text-anchor="middle" transform="rotate(80 346.2 100.1)">60°E</text>
<text x="296.7" y="112.7" font-size="3.4" fill="#3a3a3a" text-anchor="middle" transform="rotate(35 296.7 112.7)">120°W</text>
<text x="329.5" y="117.9" font-size="3.4" fill="#3a3a3a" text-anchor="middle" transform="rotate(-20 329.5 117.9)">180°</text>
<g clip-path="url(#cp12)">
<circle cx="319.0" cy="150.5" r="26.2" fill="#f4faee"/>
<ellipse cx="303.28" cy="147.88" rx="9.17" ry="15.72" fill="#bfe4b4" opacity="0.9" filter="url(#bl2)" transform="rotate(0 303.28 147.88)"/>
<ellipse cx="311.14" cy="168.84" rx="10.48" ry="6.55" fill="#9cd6b0" opacity="0.8" filter="url(#bl2)" transform="rotate(0 311.14 168.84)"/>
<path d="M319.00,150.50 L319.00,122.20 A28.30,28.30 0 0 1 346.87,155.41 Z" fill="#4aa6ac" opacity="0.85" filter="url(#bl2)"/>
<path d="M320.05,138.24 C321.03,138.02 322.18,137.98 323.15,138.21 C324.13,138.45 325.07,139.07 325.91,139.64 C326.74,140.21 327.49,140.92 328.17,141.63 C328.84,142.34 329.29,143.19 329.95,143.91 C330.61,144.64 331.66,145.16 332.14,145.99 C332.62,146.82 332.69,147.92 332.85,148.89 C333.01,149.86 333.25,150.87 333.11,151.81 C332.98,152.75 332.29,153.62 332.03,154.54 C331.77,155.47 331.87,156.47 331.55,157.35 C331.22,158.22 330.53,158.90 330.08,159.81 C329.62,160.72 329.46,162.00 328.82,162.81 C328.17,163.61 327.18,164.26 326.21,164.61 C325.25,164.97 324.08,164.92 323.05,164.95 C322.02,164.98 321.02,164.90 320.05,164.79 C319.07,164.67 318.10,164.58 317.20,164.27 C316.31,163.96 315.56,163.33 314.69,162.95 C313.81,162.56 312.80,162.43 311.95,161.96 C311.11,161.49 310.18,160.89 309.63,160.12 C309.07,159.35 309.04,158.21 308.60,157.32 C308.17,156.43 307.39,155.70 307.03,154.78 C306.67,153.86 306.57,152.83 306.45,151.81 C306.32,150.79 306.03,149.64 306.26,148.66 C306.50,147.68 307.20,146.73 307.84,145.93 C308.48,145.14 309.40,144.57 310.11,143.89 C310.82,143.20 311.34,142.39 312.09,141.83 C312.84,141.26 313.74,140.88 314.60,140.50 C315.46,140.12 316.34,139.93 317.25,139.55 C318.16,139.18 319.06,138.46 320.05,138.24Z" fill="none" stroke="#22689f" stroke-width="7.86" opacity="0.9" filter="url(#bl1)"/>
<ellipse cx="340.48" cy="138.71" rx="3.93" ry="7.86" fill="#143a88" opacity="0.9" filter="url(#bl2)" transform="rotate(30 340.48 138.71)"/>
<ellipse cx="328.17" cy="129.54" rx="7.86" ry="3.14" fill="#2a6aa8" opacity="0.8" filter="url(#bl2)" transform="rotate(0 328.17 129.54)"/>
<path d="M327.76,160.13 A11.35,11.35 0 0 1 326.60,162.37" fill="none" stroke="#66bca8" stroke-width="0.94" opacity="0.8"/>
<path d="M339.93,156.05 A20.33,20.33 0 0 1 339.23,160.40" fill="none" stroke="#1f5a9c" stroke-width="0.87" opacity="0.8"/>
<path d="M307.37,159.68 A14.93,14.93 0 0 1 306.13,153.49" fill="none" stroke="#1f5a9c" stroke-width="0.99" opacity="0.8"/>
<path d="M336.59,159.45 A18.22,18.22 0 0 1 334.89,162.76" fill="none" stroke="#1f5a9c" stroke-width="0.87" opacity="0.8"/>
<path d="M324.20,132.05 A20.19,20.19 0 0 1 331.88,136.38" fill="none" stroke="#66bca8" stroke-width="0.62" opacity="0.8"/>
<path d="M321.51,161.11 A9.41,9.41 0 0 1 318.66,160.06" fill="none" stroke="#1f5a9c" stroke-width="0.81" opacity="0.8"/>
<path d="M318.38,138.58 A13.33,13.33 0 0 1 319.99,138.16" fill="none" stroke="#66bca8" stroke-width="0.75" opacity="0.8"/>
<path d="M323.99,160.91 A9.92,9.92 0 0 1 319.96,161.47" fill="none" stroke="#1f5a9c" stroke-width="0.80" opacity="0.8"/>
<path d="M328.66,164.86 A15.63,15.63 0 0 1 323.37,166.80" fill="none" stroke="#1f5a9c" stroke-width="0.45" opacity="0.8"/>
<path d="M326.83,139.07 A14.43,14.43 0 0 1 332.00,143.57" fill="none" stroke="#3a94b0" stroke-width="0.72" opacity="0.8"/>
<path d="M310.91,142.03 A13.39,13.39 0 0 1 315.32,140.30" fill="none" stroke="#1f5a9c" stroke-width="0.83" opacity="0.8"/>
<path d="M300.07,155.59 A20.33,20.33 0 0 1 299.20,147.89" fill="none" stroke="#66bca8" stroke-width="0.82" opacity="0.8"/>
<path d="M308.71,137.23 A18.47,18.47 0 0 1 313.35,135.77" fill="none" stroke="#66bca8" stroke-width="0.65" opacity="0.8"/>
<path d="M309.99,144.66 A12.34,12.34 0 0 1 314.56,140.95" fill="none" stroke="#66bca8" stroke-width="0.68" opacity="0.8"/>
<path d="M309.95,153.60 A10.26,10.26 0 0 1 309.66,149.27" fill="none" stroke="#66bca8" stroke-width="0.53" opacity="0.8"/>
<path d="M300.78,159.98 A20.93,20.93 0 0 1 299.95,155.69" fill="none" stroke="#66bca8" stroke-width="0.63" opacity="0.8"/>
<path d="M307.65,137.73 A18.76,18.76 0 0 1 314.36,134.72" fill="none" stroke="#1f5a9c" stroke-width="0.53" opacity="0.8"/>
<path d="M332.23,149.92 A12.32,12.32 0 0 1 333.53,153.63" fill="none" stroke="#66bca8" stroke-width="0.74" opacity="0.8"/>
<path d="M330.11,144.98 A12.16,12.16 0 0 1 331.84,147.31" fill="none" stroke="#1f5a9c" stroke-width="0.89" opacity="0.8"/>
<path d="M323.86,162.87 A11.70,11.70 0 0 1 319.25,164.20" fill="none" stroke="#3a94b0" stroke-width="0.98" opacity="0.8"/>
<path d="M314.13,144.30 A9.56,9.56 0 0 1 317.73,142.29" fill="none" stroke="#1f5a9c" stroke-width="0.78" opacity="0.8"/>
<path d="M319.11,163.26 A11.49,11.49 0 0 1 314.88,162.74" fill="none" stroke="#1f5a9c" stroke-width="0.43" opacity="0.8"/>
<path d="M309.68,157.81 A11.97,11.97 0 0 1 308.46,153.53" fill="none" stroke="#3a94b0" stroke-width="0.57" opacity="0.8"/>
<path d="M332.22,152.50 A12.19,12.19 0 0 1 330.72,155.21" fill="none" stroke="#66bca8" stroke-width="0.57" opacity="0.8"/>
<path d="M309.81,168.54 A19.62,19.62 0 0 1 306.04,166.25" fill="none" stroke="#1f5a9c" stroke-width="0.46" opacity="0.8"/>
<path d="M322.97,167.04 A15.51,15.51 0 0 1 318.61,168.31" fill="none" stroke="#3a94b0" stroke-width="0.44" opacity="0.8"/>
<path d="M320.66,171.79 A19.99,19.99 0 0 1 311.94,168.79" fill="none" stroke="#66bca8" stroke-width="0.89" opacity="0.8"/>
<path d="M316.24,168.82 A17.43,17.43 0 0 1 310.01,165.77" fill="none" stroke="#3a94b0" stroke-width="0.59" opacity="0.8"/>
<path d="M335.31,165.55 A20.54,20.54 0 0 1 332.33,167.35" fill="none" stroke="#66bca8" stroke-width="0.71" opacity="0.8"/>
<path d="M333.00,142.21 A16.12,16.12 0 0 1 334.37,147.76" fill="none" stroke="#3a94b0" stroke-width="0.77" opacity="0.8"/>
<path d="M315.71,163.42 A12.40,12.40 0 0 1 312.00,162.01" fill="none" stroke="#1f5a9c" stroke-width="0.72" opacity="0.8"/>
<path d="M312.00,165.15 A15.58,15.58 0 0 1 307.52,161.37" fill="none" stroke="#66bca8" stroke-width="0.42" opacity="0.8"/>
<path d="M327.59,158.84 A10.31,10.31 0 0 1 326.19,160.61" fill="none" stroke="#3a94b0" stroke-width="0.41" opacity="0.8"/>
<path d="M338.37,159.12 A19.73,19.73 0 0 1 336.41,163.04" fill="none" stroke="#3a94b0" stroke-width="0.80" opacity="0.8"/>
<path d="M300.47,151.51 A19.58,19.58 0 0 1 302.19,146.98" fill="none" stroke="#3a94b0" stroke-width="0.63" opacity="0.8"/>
<path d="M330.73,145.07 A12.63,12.63 0 0 1 333.23,148.02" fill="none" stroke="#1f5a9c" stroke-width="0.91" opacity="0.8"/>
<path d="M332.21,157.11 A13.27,13.27 0 0 1 329.15,162.65" fill="none" stroke="#1f5a9c" stroke-width="0.43" opacity="0.8"/>
<path d="M329.28,169.60 A20.04,20.04 0 0 1 320.98,170.82" fill="none" stroke="#1f5a9c" stroke-width="0.95" opacity="0.8"/>
<path d="M315.47,132.03 A20.30,20.30 0 0 1 319.68,130.78" fill="none" stroke="#3a94b0" stroke-width="0.99" opacity="0.8"/>
<path d="M300.78,151.46 A19.28,19.28 0 0 1 302.20,142.81" fill="none" stroke="#3a94b0" stroke-width="0.69" opacity="0.8"/>
<path d="M336.19,152.06 A16.14,16.14 0 0 1 334.43,157.72" fill="none" stroke="#66bca8" stroke-width="0.50" opacity="0.8"/>
<path d="M316.44,143.02 A9.50,9.50 0 0 1 320.33,142.90" fill="none" stroke="#1f5a9c" stroke-width="0.52" opacity="0.8"/>
<path d="M309.33,158.16 A12.46,12.46 0 0 1 307.35,156.04" fill="none" stroke="#3a94b0" stroke-width="0.57" opacity="0.8"/>
<path d="M326.90,136.61 A16.67,16.67 0 0 1 329.33,139.06" fill="none" stroke="#66bca8" stroke-width="0.73" opacity="0.8"/>
<path d="M298.83,156.02 A21.63,21.63 0 0 1 298.78,150.67" fill="none" stroke="#3a94b0" stroke-width="0.76" opacity="0.8"/>
<path d="M309.68,157.98 A12.07,12.07 0 0 1 307.59,155.25" fill="none" stroke="#1f5a9c" stroke-width="0.58" opacity="0.8"/>
<path d="M330.80,161.82 A14.69,14.69 0 0 1 328.30,162.63" fill="none" stroke="#66bca8" stroke-width="0.74" opacity="0.8"/>
<path d="M321.75,161.46 A9.80,9.80 0 0 1 317.45,162.19" fill="none" stroke="#1f5a9c" stroke-width="0.78" opacity="0.8"/>
<path d="M325.58,171.93 A20.87,20.87 0 0 1 323.00,173.52" fill="none" stroke="#66bca8" stroke-width="0.46" opacity="0.8"/>
<path d="M299.96,150.80 A20.12,20.12 0 0 1 300.63,142.93" fill="none" stroke="#1f5a9c" stroke-width="0.97" opacity="0.8"/>
<path d="M313.93,165.30 A14.82,14.82 0 0 1 310.82,162.62" fill="none" stroke="#1f5a9c" stroke-width="0.49" opacity="0.8"/>
<path d="M299.46,146.35 A21.30,21.30 0 0 1 302.00,139.01" fill="none" stroke="#66bca8" stroke-width="0.64" opacity="0.8"/>
<path d="M334.97,163.30 A18.84,18.84 0 0 1 332.83,165.96" fill="none" stroke="#1f5a9c" stroke-width="0.94" opacity="0.8"/>
<path d="M317.80,169.84 A18.17,18.17 0 0 1 312.72,167.83" fill="none" stroke="#1f5a9c" stroke-width="0.97" opacity="0.8"/>
<path d="M308.35,162.02 A15.53,15.53 0 0 1 304.61,156.55" fill="none" stroke="#1f5a9c" stroke-width="0.71" opacity="0.8"/>
<path d="M328.70,146.33 A10.24,10.24 0 0 1 330.99,150.35" fill="none" stroke="#3a94b0" stroke-width="0.96" opacity="0.8"/>
<path d="M338.35,161.29 A20.61,20.61 0 0 1 335.36,164.11" fill="none" stroke="#3a94b0" stroke-width="0.49" opacity="0.8"/>
<path d="M332.63,161.10 A15.64,15.64 0 0 1 330.80,161.60" fill="none" stroke="#66bca8" stroke-width="0.82" opacity="0.8"/>
<path d="M327.22,143.34 A11.10,11.10 0 0 1 328.40,145.75" fill="none" stroke="#3a94b0" stroke-width="0.62" opacity="0.8"/>
<path d="M315.96,139.38 A13.09,13.09 0 0 1 317.79,137.73" fill="none" stroke="#66bca8" stroke-width="0.44" opacity="0.8"/>
<path d="M308.35,154.26 A11.95,11.95 0 0 1 308.15,151.92" fill="none" stroke="#3a94b0" stroke-width="0.45" opacity="0.8"/>
<path d="M319.23,165.54 A13.75,13.75 0 0 1 315.66,164.79" fill="none" stroke="#3a94b0" stroke-width="0.87" opacity="0.8"/>
<path d="M304.91,167.06 A21.49,21.49 0 0 1 302.99,162.69" fill="none" stroke="#1f5a9c" stroke-width="0.57" opacity="0.8"/>
<path d="M323.41,173.11 A21.57,21.57 0 0 1 313.70,173.29" fill="none" stroke="#3a94b0" stroke-width="0.54" opacity="0.8"/>
<path d="M330.71,159.18 A12.96,12.96 0 0 1 329.08,160.22" fill="none" stroke="#1f5a9c" stroke-width="0.99" opacity="0.8"/>
<path d="M337.10,147.85 A17.51,17.51 0 0 1 337.73,149.57" fill="none" stroke="#3a94b0" stroke-width="0.85" opacity="0.8"/>
<path d="M301.40,162.06 A21.28,21.28 0 0 1 298.82,155.35" fill="none" stroke="#66bca8" stroke-width="0.68" opacity="0.8"/>
<path d="M308.87,152.49 A11.20,11.20 0 0 1 308.95,148.57" fill="none" stroke="#66bca8" stroke-width="0.97" opacity="0.8"/>
<path d="M321.42,139.48 A12.40,12.40 0 0 1 324.64,140.55" fill="none" stroke="#3a94b0" stroke-width="0.98" opacity="0.8"/>
<path d="M332.47,168.57 A20.86,20.86 0 0 1 325.13,171.48" fill="none" stroke="#3a94b0" stroke-width="0.42" opacity="0.8"/>
<path d="M308.25,151.59 A11.80,11.80 0 0 1 309.61,147.24" fill="none" stroke="#66bca8" stroke-width="0.76" opacity="0.8"/>
<path d="M334.74,143.86 A16.71,16.71 0 0 1 337.88,150.33" fill="none" stroke="#66bca8" stroke-width="0.43" opacity="0.8"/>
<path d="M322.91,166.86 A15.32,15.32 0 0 1 318.11,166.80" fill="none" stroke="#1f5a9c" stroke-width="0.80" opacity="0.8"/>
<path d="M326.67,169.89 A19.25,19.25 0 0 1 321.39,170.33" fill="none" stroke="#3a94b0" stroke-width="0.70" opacity="0.8"/>
<path d="M321.79,138.72 A13.20,13.20 0 0 1 323.72,140.34" fill="none" stroke="#3a94b0" stroke-width="0.88" opacity="0.8"/>
<path d="M311.90,156.86 A9.59,9.59 0 0 1 311.01,153.70" fill="none" stroke="#3a94b0" stroke-width="0.98" opacity="0.8"/>
<path d="M302.18,142.27 A20.26,20.26 0 0 1 303.93,137.68" fill="none" stroke="#66bca8" stroke-width="0.52" opacity="0.8"/>
<path d="M320.63,142.46 A9.37,9.37 0 0 1 323.12,144.12" fill="none" stroke="#3a94b0" stroke-width="0.48" opacity="0.8"/>
<path d="M315.75,172.55 A21.18,21.18 0 0 1 309.01,169.92" fill="none" stroke="#1f5a9c" stroke-width="0.70" opacity="0.8"/>
<path d="M326.47,160.17 A10.54,10.54 0 0 1 323.68,162.06" fill="none" stroke="#1f5a9c" stroke-width="0.68" opacity="0.8"/>
<path d="M338.80,144.46 A20.14,20.14 0 0 1 338.82,148.20" fill="none" stroke="#3a94b0" stroke-width="0.86" opacity="0.8"/>
<path d="M329.65,145.49 A11.49,11.49 0 0 1 332.61,149.63" fill="none" stroke="#1f5a9c" stroke-width="0.72" opacity="0.8"/>
<path d="M331.31,139.89 A16.40,16.40 0 0 1 333.25,143.15" fill="none" stroke="#3a94b0" stroke-width="0.43" opacity="0.8"/>
<path d="M333.91,145.91 A15.07,15.07 0 0 1 334.75,148.95" fill="none" stroke="#3a94b0" stroke-width="0.61" opacity="0.8"/>
<path d="M329.74,154.50 A10.06,10.06 0 0 1 327.16,158.69" fill="none" stroke="#66bca8" stroke-width="0.76" opacity="0.8"/>
<path d="M319.77,138.24 A13.57,13.57 0 0 1 323.73,139.40" fill="none" stroke="#1f5a9c" stroke-width="0.78" opacity="0.8"/>
<path d="M315.44,143.74 A9.29,9.29 0 0 1 318.07,142.13" fill="none" stroke="#66bca8" stroke-width="0.78" opacity="0.8"/>
<path d="M326.36,172.15 A21.30,21.30 0 0 1 316.83,173.55" fill="none" stroke="#1f5a9c" stroke-width="0.53" opacity="0.8"/>
<path d="M310.64,158.16 A11.34,11.34 0 0 1 309.75,153.74" fill="none" stroke="#1f5a9c" stroke-width="0.44" opacity="0.8"/>
<path d="M327.14,135.23 A18.03,18.03 0 0 1 329.98,137.66" fill="none" stroke="#1f5a9c" stroke-width="0.79" opacity="0.8"/>
<path d="M339.61,156.42 A20.10,20.10 0 0 1 336.23,161.52" fill="none" stroke="#66bca8" stroke-width="0.50" opacity="0.8"/>
<path d="M305.55,142.78 A17.08,17.08 0 0 1 309.72,138.39" fill="none" stroke="#3a94b0" stroke-width="0.96" opacity="0.8"/>
<path d="M299.99,147.11 A20.60,20.60 0 0 1 303.69,141.33" fill="none" stroke="#3a94b0" stroke-width="0.71" opacity="0.8"/>
<path d="M302.89,160.16 A19.08,19.08 0 0 1 300.85,151.57" fill="none" stroke="#66bca8" stroke-width="0.81" opacity="0.8"/>
<path d="M303.51,148.98 A16.78,16.78 0 0 1 306.40,141.86" fill="none" stroke="#1f5a9c" stroke-width="0.99" opacity="0.8"/>
<path d="M338.82,152.79 A18.80,18.80 0 0 1 336.73,159.42" fill="none" stroke="#66bca8" stroke-width="0.88" opacity="0.8"/>
<path d="M329.54,148.00 A10.23,10.23 0 0 1 329.83,152.95" fill="none" stroke="#1f5a9c" stroke-width="0.52" opacity="0.8"/>
<path d="M323.84,141.64 A10.85,10.85 0 0 1 327.66,143.84" fill="none" stroke="#1f5a9c" stroke-width="0.63" opacity="0.8"/>
<path d="M300.12,151.06 A19.94,19.94 0 0 1 302.71,143.57" fill="none" stroke="#66bca8" stroke-width="0.50" opacity="0.8"/>
<path d="M333.00,169.04 A21.56,21.56 0 0 1 324.19,171.85" fill="none" stroke="#3a94b0" stroke-width="0.69" opacity="0.8"/>
<path d="M300.88,142.56 A21.28,21.28 0 0 1 302.77,138.36" fill="none" stroke="#3a94b0" stroke-width="0.72" opacity="0.8"/>
<path d="M305.93,155.57 A14.61,14.61 0 0 1 306.80,150.56" fill="none" stroke="#66bca8" stroke-width="0.89" opacity="0.8"/>
<path d="M330.79,132.59 A22.02,22.02 0 0 1 337.32,140.14" fill="none" stroke="#66bca8" stroke-width="0.79" opacity="0.8"/>
<path d="M324.16,142.47 A10.21,10.21 0 0 1 326.18,142.20" fill="none" stroke="#66bca8" stroke-width="0.78" opacity="0.8"/>
<path d="M313.23,135.32 A17.84,17.84 0 0 1 316.38,134.42" fill="none" stroke="#1f5a9c" stroke-width="0.56" opacity="0.8"/>
<path d="M312.89,141.99 A12.15,12.15 0 0 1 317.88,138.76" fill="none" stroke="#3a94b0" stroke-width="0.94" opacity="0.8"/>
<path d="M320.50,162.86 A11.06,11.06 0 0 1 317.25,161.57" fill="none" stroke="#1f5a9c" stroke-width="0.91" opacity="0.8"/>
<path d="M316.15,140.42 A12.04,12.04 0 0 1 321.89,139.36" fill="none" stroke="#1f5a9c" stroke-width="0.64" opacity="0.8"/>
<path d="M333.69,164.12 A18.38,18.38 0 0 1 326.94,169.78" fill="none" stroke="#66bca8" stroke-width="0.90" opacity="0.8"/>
<path d="M333.07,163.68 A17.62,17.62 0 0 1 331.59,165.62" fill="none" stroke="#66bca8" stroke-width="0.94" opacity="0.8"/>
<path d="M336.35,147.63 A16.83,16.83 0 0 1 336.14,152.36" fill="none" stroke="#3a94b0" stroke-width="0.74" opacity="0.8"/>
<path d="M316.46,131.58 A20.54,20.54 0 0 1 325.25,130.97" fill="none" stroke="#66bca8" stroke-width="0.64" opacity="0.8"/>
<path d="M306.80,158.20 A14.71,14.71 0 0 1 305.90,152.77" fill="none" stroke="#3a94b0" stroke-width="0.56" opacity="0.8"/>
<path d="M310.41,140.53 A14.84,14.84 0 0 1 312.87,139.18" fill="none" stroke="#1f5a9c" stroke-width="0.71" opacity="0.8"/>
<path d="M336.54,149.19 A16.70,16.70 0 0 1 337.01,156.94" fill="none" stroke="#3a94b0" stroke-width="0.68" opacity="0.8"/>
<path d="M319.11,161.95 A10.19,10.19 0 0 1 315.31,161.84" fill="none" stroke="#1f5a9c" stroke-width="0.76" opacity="0.8"/>
<path d="M309.73,167.66 A18.92,18.92 0 0 1 302.87,161.70" fill="none" stroke="#1f5a9c" stroke-width="0.82" opacity="0.8"/>
<path d="M334.93,150.62 A14.93,14.93 0 0 1 334.90,154.07" fill="none" stroke="#1f5a9c" stroke-width="0.61" opacity="0.8"/>
<path d="M300.77,140.89 A22.15,22.15 0 0 1 305.73,135.07" fill="none" stroke="#3a94b0" stroke-width="0.72" opacity="0.8"/>
<path d="M333.00,153.06 A13.02,13.02 0 0 1 330.12,157.90" fill="none" stroke="#3a94b0" stroke-width="0.88" opacity="0.8"/>
<path d="M305.76,163.72 A18.60,18.60 0 0 1 305.14,161.68" fill="none" stroke="#5ab4a8" stroke-width="0.46" opacity="0.8"/>
<path d="M298.18,153.09 A21.91,21.91 0 0 1 300.06,146.50" fill="none" stroke="#a8dcb0" stroke-width="0.53" opacity="0.8"/>
<path d="M319.45,169.60 A17.80,17.80 0 0 1 317.43,169.82" fill="none" stroke="#5ab4a8" stroke-width="0.65" opacity="0.8"/>
<path d="M327.84,175.39 A24.83,24.83 0 0 1 322.79,177.17" fill="none" stroke="#a8dcb0" stroke-width="0.82" opacity="0.8"/>
<path d="M341.77,165.64 A25.75,25.75 0 0 1 338.93,168.68" fill="none" stroke="#a8dcb0" stroke-width="0.63" opacity="0.8"/>
<path d="M334.37,163.51 A18.49,18.49 0 0 1 330.49,165.60" fill="none" stroke="#ffffff" stroke-width="0.72" opacity="0.8"/>
<path d="M316.43,130.61 A21.51,21.51 0 0 1 321.89,129.52" fill="none" stroke="#5ab4a8" stroke-width="0.93" opacity="0.8"/>
<path d="M332.61,162.42 A16.45,16.45 0 0 1 330.82,164.80" fill="none" stroke="#ffffff" stroke-width="0.99" opacity="0.8"/>
<path d="M304.50,139.70 A19.70,19.70 0 0 1 311.31,134.29" fill="none" stroke="#ffffff" stroke-width="0.50" opacity="0.8"/>
<path d="M338.26,165.98 A23.08,23.08 0 0 1 332.19,172.00" fill="none" stroke="#a8dcb0" stroke-width="0.77" opacity="0.8"/>
<path d="M335.38,143.52 A17.43,17.43 0 0 1 337.07,150.04" fill="none" stroke="#5ab4a8" stroke-width="0.81" opacity="0.8"/>
<path d="M343.39,147.30 A23.77,23.77 0 0 1 342.64,152.69" fill="none" stroke="#a8dcb0" stroke-width="0.88" opacity="0.8"/>
<path d="M334.76,172.38 A25.29,25.29 0 0 1 332.13,174.22" fill="none" stroke="#5ab4a8" stroke-width="0.59" opacity="0.8"/>
<path d="M299.08,165.98 A25.30,25.30 0 0 1 296.26,160.12" fill="none" stroke="#ffffff" stroke-width="0.48" opacity="0.8"/>
<path d="M296.51,152.55 A23.55,23.55 0 0 1 297.62,145.26" fill="none" stroke="#5ab4a8" stroke-width="0.64" opacity="0.8"/>
<path d="M340.72,147.78 A21.06,21.06 0 0 1 339.11,157.84" fill="none" stroke="#a8dcb0" stroke-width="0.92" opacity="0.8"/>
<path d="M338.77,138.71 A22.85,22.85 0 0 1 340.89,141.83" fill="none" stroke="#ffffff" stroke-width="0.63" opacity="0.8"/>
<path d="M319.42,125.92 A25.90,25.90 0 0 1 327.65,126.07" fill="none" stroke="#a8dcb0" stroke-width="0.81" opacity="0.8"/>
<path d="M335.60,134.07 A23.59,23.59 0 0 1 342.45,142.41" fill="none" stroke="#ffffff" stroke-width="0.47" opacity="0.8"/>
<path d="M330.30,175.40 A25.72,25.72 0 0 1 323.47,178.29" fill="none" stroke="#ffffff" stroke-width="0.98" opacity="0.8"/>
<path d="M303.26,150.55 A16.84,16.84 0 0 1 304.10,145.47" fill="none" stroke="#5ab4a8" stroke-width="0.70" opacity="0.8"/>
<path d="M336.57,146.32 A17.41,17.41 0 0 1 338.60,150.48" fill="none" stroke="#5ab4a8" stroke-width="0.95" opacity="0.8"/>
<path d="M310.21,165.54 A16.89,16.89 0 0 1 306.92,161.86" fill="none" stroke="#ffffff" stroke-width="0.54" opacity="0.8"/>
<path d="M336.57,150.86 A16.55,16.55 0 0 1 336.58,156.38" fill="none" stroke="#a8dcb0" stroke-width="0.99" opacity="0.8"/>
<path d="M315.43,173.97 A22.63,22.63 0 0 1 311.76,174.12" fill="none" stroke="#a8dcb0" stroke-width="0.56" opacity="0.8"/>
<path d="M307.16,139.33 A17.94,17.94 0 0 1 310.89,136.26" fill="none" stroke="#5ab4a8" stroke-width="0.81" opacity="0.8"/>
<path d="M297.90,157.06 A22.76,22.76 0 0 1 297.63,151.21" fill="none" stroke="#5ab4a8" stroke-width="0.67" opacity="0.8"/>
<path d="M335.99,151.60 A15.94,15.94 0 0 1 336.03,153.61" fill="none" stroke="#5ab4a8" stroke-width="0.53" opacity="0.8"/>
<path d="M327.86,135.46 A18.12,18.12 0 0 1 333.79,138.43" fill="none" stroke="#ffffff" stroke-width="0.44" opacity="0.8"/>
<path d="M337.96,150.46 A17.97,17.97 0 0 1 336.33,156.71" fill="none" stroke="#5ab4a8" stroke-width="0.75" opacity="0.8"/>
<path d="M340.01,150.93 A19.99,19.99 0 0 1 338.41,156.40" fill="none" stroke="#5ab4a8" stroke-width="0.66" opacity="0.8"/>
<path d="M330.84,172.53 A23.36,23.36 0 0 1 324.62,175.18" fill="none" stroke="#5ab4a8" stroke-width="0.46" opacity="0.8"/>
<path d="M334.26,172.07 A24.75,24.75 0 0 1 328.90,174.22" fill="none" stroke="#a8dcb0" stroke-width="0.72" opacity="0.8"/>
<path d="M335.91,138.72 A20.57,20.57 0 0 1 338.79,141.17" fill="none" stroke="#a8dcb0" stroke-width="0.67" opacity="0.8"/>
<path d="M307.62,141.35 A16.25,16.25 0 0 1 310.85,136.85" fill="none" stroke="#a8dcb0" stroke-width="0.98" opacity="0.8"/>
<path d="M312.25,136.18 A17.46,17.46 0 0 1 319.64,134.39" fill="none" stroke="#a8dcb0" stroke-width="0.92" opacity="0.8"/>
<path d="M310.99,138.93 A15.74,15.74 0 0 1 313.37,137.87" fill="none" stroke="#ffffff" stroke-width="0.57" opacity="0.8"/>
<path d="M297.45,159.69 A23.93,23.93 0 0 1 295.73,150.43" fill="none" stroke="#ffffff" stroke-width="0.49" opacity="0.8"/>
<path d="M340.91,158.11 A21.79,21.79 0 0 1 335.60,167.23" fill="none" stroke="#5ab4a8" stroke-width="0.59" opacity="0.8"/>
<path d="M327.90,127.70 A25.36,25.36 0 0 1 334.53,130.90" fill="none" stroke="#a8dcb0" stroke-width="0.98" opacity="0.8"/>
<path d="M330.64,132.58 A21.96,21.96 0 0 1 334.10,134.35" fill="none" stroke="#a8dcb0" stroke-width="0.64" opacity="0.8"/>
<path d="M312.23,131.47 A21.79,21.79 0 0 1 319.24,131.24" fill="none" stroke="#a8dcb0" stroke-width="0.65" opacity="0.8"/>
<path d="M307.24,173.88 A25.52,25.52 0 0 1 301.71,168.42" fill="none" stroke="#5ab4a8" stroke-width="0.59" opacity="0.8"/>
<path d="M342.42,154.01 A22.48,22.48 0 0 1 341.72,157.36" fill="none" stroke="#a8dcb0" stroke-width="0.41" opacity="0.8"/>
<path d="M308.48,163.95 A16.77,16.77 0 0 1 305.12,159.66" fill="none" stroke="#5ab4a8" stroke-width="0.56" opacity="0.8"/>
<path d="M309.90,129.04 A24.93,24.93 0 0 1 320.86,127.23" fill="none" stroke="#a8dcb0" stroke-width="0.66" opacity="0.8"/>
<path d="M313.07,176.89 A26.03,26.03 0 0 1 307.36,175.46" fill="none" stroke="#5ab4a8" stroke-width="0.40" opacity="0.8"/>
<path d="M299.36,142.53 A22.67,22.67 0 0 1 300.96,137.56" fill="none" stroke="#a8dcb0" stroke-width="0.56" opacity="0.8"/>
<path d="M308.97,138.46 A17.35,17.35 0 0 1 315.15,135.76" fill="none" stroke="#a8dcb0" stroke-width="0.83" opacity="0.8"/>
<path d="M337.75,146.50 A18.49,18.49 0 0 1 338.47,152.96" fill="none" stroke="#a8dcb0" stroke-width="0.46" opacity="0.8"/>
<path d="M327.33,165.79 A15.76,15.76 0 0 1 324.43,167.68" fill="none" stroke="#5ab4a8" stroke-width="0.99" opacity="0.8"/>
<path d="M339.69,139.62 A23.12,23.12 0 0 1 342.42,145.40" fill="none" stroke="#a8dcb0" stroke-width="0.45" opacity="0.8"/>
<path d="M305.68,135.90 A21.44,21.44 0 0 1 314.03,130.32" fill="none" stroke="#5ab4a8" stroke-width="0.73" opacity="0.8"/>
<path d="M328.39,169.48 A19.54,19.54 0 0 1 326.64,171.41" fill="none" stroke="#a8dcb0" stroke-width="0.94" opacity="0.8"/>
<path d="M336.32,147.64 A16.80,16.80 0 0 1 337.56,150.92" fill="none" stroke="#ffffff" stroke-width="0.98" opacity="0.8"/>
<path d="M301.85,151.87 A18.20,18.20 0 0 1 304.59,144.01" fill="none" stroke="#a8dcb0" stroke-width="0.93" opacity="0.8"/>
<path d="M323.03,132.84 A19.20,19.20 0 0 1 330.68,134.48" fill="none" stroke="#5ab4a8" stroke-width="0.92" opacity="0.8"/>
<path d="M297.80,142.88 A23.97,23.97 0 0 1 300.96,139.07" fill="none" stroke="#a8dcb0" stroke-width="0.92" opacity="0.8"/>
<path d="M340.28,148.27 A20.54,20.54 0 0 1 339.44,156.83" fill="none" stroke="#a8dcb0" stroke-width="0.53" opacity="0.8"/>
<path d="M304.31,161.79 A18.64,18.64 0 0 1 303.35,157.08" fill="none" stroke="#ffffff" stroke-width="0.61" opacity="0.8"/>
<circle cx="325.00" cy="131.78" r="0.40" fill="#ffffff" opacity="0.75"/>
<circle cx="324.75" cy="171.43" r="0.86" fill="#ffffff" opacity="0.75"/>
<circle cx="324.98" cy="168.08" r="0.31" fill="#ffffff" opacity="0.75"/>
<circle cx="326.10" cy="165.19" r="0.90" fill="#ffffff" opacity="0.75"/>
<circle cx="313.73" cy="172.58" r="0.60" fill="#ffffff" opacity="0.75"/>
<circle cx="341.03" cy="141.31" r="0.87" fill="#ffffff" opacity="0.75"/>
<circle cx="326.81" cy="158.65" r="0.66" fill="#ffffff" opacity="0.75"/>
<circle cx="320.60" cy="173.83" r="0.72" fill="#ffffff" opacity="0.75"/>
<circle cx="319.28" cy="170.20" r="0.56" fill="#ffffff" opacity="0.75"/>
<circle cx="322.77" cy="143.25" r="0.96" fill="#ffffff" opacity="0.75"/>
<circle cx="308.79" cy="144.75" r="0.92" fill="#ffffff" opacity="0.75"/>
<circle cx="318.69" cy="161.46" r="0.90" fill="#ffffff" opacity="0.75"/>
<circle cx="307.42" cy="173.35" r="0.78" fill="#ffffff" opacity="0.75"/>
<circle cx="330.80" cy="135.80" r="0.85" fill="#ffffff" opacity="0.75"/>
<circle cx="311.78" cy="140.59" r="0.67" fill="#ffffff" opacity="0.75"/>
<circle cx="309.64" cy="155.11" r="0.89" fill="#ffffff" opacity="0.75"/>
<circle cx="311.43" cy="150.12" r="0.71" fill="#ffffff" opacity="0.75"/>
<circle cx="328.36" cy="159.42" r="0.72" fill="#ffffff" opacity="0.75"/>
<circle cx="316.59" cy="134.16" r="0.38" fill="#ffffff" opacity="0.75"/>
<circle cx="320.75" cy="173.95" r="0.97" fill="#ffffff" opacity="0.75"/>
<circle cx="311.64" cy="153.68" r="0.98" fill="#ffffff" opacity="0.75"/>
<circle cx="314.44" cy="159.34" r="0.39" fill="#ffffff" opacity="0.75"/>
<circle cx="330.39" cy="134.63" r="0.41" fill="#ffffff" opacity="0.75"/>
<circle cx="310.83" cy="148.33" r="0.67" fill="#ffffff" opacity="0.75"/>
<circle cx="323.04" cy="159.82" r="0.30" fill="#ffffff" opacity="0.75"/>
<circle cx="305.37" cy="130.63" r="0.39" fill="#ffffff" opacity="0.75"/>
<circle cx="294.17" cy="154.32" r="0.93" fill="#ffffff" opacity="0.75"/>
<circle cx="310.76" cy="141.27" r="0.80" fill="#ffffff" opacity="0.75"/>
<circle cx="320.35" cy="176.86" r="0.79" fill="#ffffff" opacity="0.75"/>
<circle cx="300.44" cy="138.72" r="0.57" fill="#ffffff" opacity="0.75"/>
<circle cx="310.75" cy="154.05" r="0.44" fill="#ffffff" opacity="0.75"/>
<circle cx="314.12" cy="137.73" r="0.78" fill="#ffffff" opacity="0.75"/>
<circle cx="314.27" cy="163.04" r="0.71" fill="#ffffff" opacity="0.75"/>
<circle cx="312.80" cy="139.99" r="0.54" fill="#ffffff" opacity="0.75"/>
<circle cx="330.28" cy="147.44" r="0.88" fill="#ffffff" opacity="0.75"/>
<circle cx="295.45" cy="158.75" r="0.77" fill="#ffffff" opacity="0.75"/>
<circle cx="317.00" cy="140.28" r="0.43" fill="#ffffff" opacity="0.75"/>
<circle cx="334.62" cy="148.70" r="0.99" fill="#ffffff" opacity="0.75"/>
<circle cx="336.11" cy="149.25" r="0.34" fill="#ffffff" opacity="0.75"/>
<circle cx="323.09" cy="134.20" r="0.73" fill="#ffffff" opacity="0.75"/>
<circle cx="318.37" cy="176.39" r="0.90" fill="#ffffff" opacity="0.75"/>
<circle cx="314.46" cy="134.20" r="0.48" fill="#ffffff" opacity="0.75"/>
<circle cx="335.99" cy="136.83" r="0.41" fill="#ffffff" opacity="0.75"/>
<circle cx="320.84" cy="131.14" r="0.39" fill="#ffffff" opacity="0.75"/>
<circle cx="312.02" cy="160.10" r="0.60" fill="#ffffff" opacity="0.75"/>
<circle cx="321.41" cy="137.11" r="0.53" fill="#ffffff" opacity="0.75"/>
<circle cx="330.34" cy="152.53" r="0.70" fill="#ffffff" opacity="0.75"/>
<circle cx="309.27" cy="155.88" r="0.33" fill="#ffffff" opacity="0.75"/>
<circle cx="340.60" cy="154.17" r="0.49" fill="#ffffff" opacity="0.75"/>
<circle cx="312.68" cy="157.34" r="0.79" fill="#ffffff" opacity="0.75"/>
<circle cx="329.36" cy="144.32" r="0.81" fill="#ffffff" opacity="0.75"/>
<circle cx="323.11" cy="171.17" r="0.50" fill="#ffffff" opacity="0.75"/>
<circle cx="308.42" cy="158.35" r="0.64" fill="#ffffff" opacity="0.75"/>
<circle cx="328.51" cy="174.90" r="0.83" fill="#ffffff" opacity="0.75"/>
<circle cx="313.04" cy="174.10" r="0.73" fill="#ffffff" opacity="0.75"/>
<circle cx="302.92" cy="154.65" r="0.70" fill="#ffffff" opacity="0.75"/>
<circle cx="344.33" cy="146.17" r="0.75" fill="#ffffff" opacity="0.75"/>
<circle cx="302.85" cy="143.77" r="0.32" fill="#ffffff" opacity="0.75"/>
<circle cx="335.15" cy="133.12" r="0.79" fill="#ffffff" opacity="0.75"/>
<circle cx="306.34" cy="131.81" r="0.46" fill="#ffffff" opacity="0.75"/>
<circle cx="318.27" cy="132.83" r="0.81" fill="#ffffff" opacity="0.75"/>
<circle cx="318.74" cy="164.30" r="0.64" fill="#ffffff" opacity="0.75"/>
<circle cx="323.19" cy="164.74" r="0.54" fill="#ffffff" opacity="0.75"/>
<circle cx="324.53" cy="163.75" r="0.40" fill="#ffffff" opacity="0.75"/>
<circle cx="306.45" cy="146.98" r="0.56" fill="#ffffff" opacity="0.75"/>
<circle cx="299.84" cy="147.50" r="0.61" fill="#ffffff" opacity="0.75"/>
<circle cx="340.95" cy="160.03" r="0.47" fill="#ffffff" opacity="0.75"/>
<circle cx="323.44" cy="166.14" r="1.00" fill="#ffffff" opacity="0.75"/>
<circle cx="338.75" cy="150.62" r="0.67" fill="#ffffff" opacity="0.75"/>
<circle cx="323.41" cy="141.14" r="0.92" fill="#ffffff" opacity="0.75"/>
<path d="M320.05,138.73 C321.05,138.68 322.10,138.36 323.09,138.50 C324.07,138.63 325.10,139.02 325.96,139.52 C326.83,140.02 327.55,140.81 328.28,141.49 C329.01,142.16 329.86,142.77 330.37,143.58 C330.88,144.39 331.07,145.45 331.35,146.37 C331.62,147.28 331.80,148.17 332.03,149.08 C332.25,149.98 332.61,150.88 332.68,151.81 C332.75,152.74 332.54,153.67 332.46,154.64 C332.38,155.62 332.37,156.62 332.19,157.66 C332.00,158.69 331.98,160.05 331.36,160.83 C330.74,161.61 329.40,161.89 328.46,162.36 C327.53,162.83 326.71,163.46 325.75,163.66 C324.80,163.86 323.69,163.44 322.73,163.58 C321.78,163.72 320.98,164.32 320.05,164.49 C319.11,164.67 318.03,164.85 317.12,164.62 C316.22,164.39 315.49,163.54 314.60,163.12 C313.72,162.71 312.65,162.63 311.81,162.14 C310.97,161.65 310.16,160.95 309.56,160.17 C308.96,159.40 308.69,158.39 308.23,157.50 C307.78,156.61 307.16,155.78 306.81,154.83 C306.46,153.88 306.12,152.81 306.13,151.81 C306.15,150.81 306.38,149.68 306.88,148.81 C307.39,147.93 308.48,147.28 309.14,146.56 C309.80,145.83 310.32,145.22 310.83,144.46 C311.34,143.70 311.61,142.70 312.22,142.00 C312.83,141.29 313.67,140.78 314.48,140.25 C315.29,139.72 316.16,139.09 317.09,138.83 C318.01,138.58 319.05,138.79 320.05,138.73Z" fill="none" stroke="#28343a" stroke-width="0.35" opacity="0.45"/>
<path d="M320.05,135.26 C321.26,135.14 322.65,135.06 323.78,135.47 C324.91,135.88 325.91,136.94 326.84,137.71 C327.77,138.49 328.54,139.34 329.36,140.13 C330.18,140.93 331.07,141.61 331.74,142.48 C332.41,143.36 332.80,144.41 333.38,145.39 C333.96,146.36 334.73,147.28 335.22,148.35 C335.71,149.42 336.07,150.60 336.31,151.81 C336.55,153.02 336.87,154.40 336.66,155.60 C336.44,156.80 335.73,158.01 335.02,159.02 C334.32,160.03 333.36,160.93 332.42,161.67 C331.47,162.42 330.32,162.84 329.36,163.49 C328.40,164.13 327.66,165.02 326.67,165.57 C325.69,166.12 324.57,166.49 323.47,166.80 C322.37,167.11 321.20,167.36 320.05,167.41 C318.90,167.46 317.70,167.31 316.56,167.08 C315.42,166.85 314.29,166.49 313.19,166.05 C312.10,165.60 311.04,165.04 310.00,164.41 C308.96,163.78 307.76,163.16 306.93,162.27 C306.11,161.37 305.40,160.20 305.05,159.03 C304.71,157.86 304.79,156.48 304.87,155.27 C304.96,154.07 305.39,152.92 305.57,151.81 C305.74,150.70 305.73,149.65 305.93,148.59 C306.13,147.52 306.45,146.50 306.77,145.42 C307.09,144.33 307.38,143.19 307.87,142.10 C308.36,141.01 308.86,139.67 309.72,138.86 C310.59,138.06 311.93,137.73 313.05,137.28 C314.18,136.84 315.32,136.53 316.48,136.20 C317.65,135.86 318.83,135.38 320.05,135.26Z" fill="none" stroke="#28343a" stroke-width="0.35" opacity="0.45"/>
<path d="M320.05,133.00 C321.44,133.12 322.89,133.35 324.13,133.92 C325.37,134.49 326.39,135.63 327.47,136.40 C328.55,137.18 329.54,137.84 330.61,138.57 C331.67,139.30 332.85,139.92 333.85,140.81 C334.84,141.69 335.76,142.73 336.56,143.86 C337.37,144.98 338.12,146.24 338.66,147.56 C339.21,148.89 339.94,150.42 339.83,151.81 C339.72,153.20 338.61,154.62 337.99,155.90 C337.36,157.19 336.66,158.29 336.08,159.53 C335.51,160.78 335.34,162.30 334.55,163.37 C333.76,164.44 332.43,165.15 331.34,165.97 C330.25,166.79 329.22,167.81 327.99,168.30 C326.76,168.79 325.28,168.70 323.95,168.91 C322.63,169.12 321.37,169.47 320.05,169.55 C318.73,169.63 317.46,169.38 316.04,169.37 C314.62,169.35 312.99,169.74 311.55,169.45 C310.12,169.16 308.51,168.58 307.43,167.63 C306.34,166.69 305.67,165.10 305.05,163.77 C304.43,162.45 304.00,161.04 303.70,159.68 C303.39,158.33 303.30,156.96 303.22,155.65 C303.15,154.34 303.42,153.13 303.25,151.81 C303.08,150.49 302.22,149.09 302.21,147.74 C302.20,146.39 302.63,144.93 303.20,143.70 C303.77,142.46 304.69,141.31 305.63,140.31 C306.56,139.31 307.77,138.65 308.79,137.70 C309.82,136.75 310.59,135.34 311.76,134.59 C312.92,133.84 314.42,133.47 315.80,133.20 C317.18,132.94 318.66,132.88 320.05,133.00Z" fill="none" stroke="#28343a" stroke-width="0.35" opacity="0.45"/>
</g>
<g clip-path="url(#cp12L)"><path d="M310.35,148.40 C310.75,146.66 311.79,144.04 312.71,142.64 C313.63,141.24 314.90,140.28 315.86,140.02 C316.82,139.76 317.73,140.50 318.48,141.07 C319.22,141.64 321.10,142.90 320.31,143.43 C319.52,143.95 315.16,143.64 313.76,144.21 C312.36,144.78 312.23,145.87 311.93,146.83 C311.62,147.79 311.58,149.15 311.93,149.98 C312.28,150.81 313.28,151.29 314.02,151.81 C314.76,152.33 316.12,152.47 316.38,153.12 C316.64,153.78 316.12,155.00 315.59,155.74 C315.07,156.48 313.89,157.36 313.24,157.57 C312.58,157.79 312.14,157.79 311.66,157.05 C311.18,156.31 310.57,154.56 310.35,153.12 C310.14,151.68 309.96,150.15 310.35,148.40Z" fill="#eef4f8" opacity="0.55"/>
<path d="M307.21,124.30 C308.43,123.86 313.89,123.43 315.33,124.30 C316.77,125.17 315.81,127.88 315.86,129.54 C315.90,131.20 315.81,132.95 315.59,134.26 C315.38,135.57 315.03,137.14 314.55,137.40 C314.07,137.66 313.45,136.88 312.71,135.83 C311.97,134.78 310.88,132.60 310.09,131.11 C309.31,129.63 308.48,128.06 308.00,126.92 C307.52,125.78 305.99,124.74 307.21,124.30Z" fill="#b3b3b3"/>
<path d="M338.91,136.88 C339.35,136.09 341.40,136.26 342.58,136.88 C343.76,137.49 345.42,138.71 345.99,140.54 C346.55,142.38 346.55,146.92 345.99,147.88 C345.42,148.84 343.58,147.36 342.58,146.31 C341.58,145.26 340.57,143.16 339.96,141.59 C339.35,140.02 338.48,137.66 338.91,136.88Z" fill="#b3b3b3"/>
<path d="M309.57,177.49 C307.47,176.79 310.22,174.25 311.14,173.29 C312.06,172.33 313.76,171.85 315.07,171.72 C316.38,171.59 317.82,172.46 319.00,172.51 C320.18,172.55 321.27,171.63 322.14,171.98 C323.02,172.33 323.98,173.69 324.24,174.60 C324.50,175.52 326.16,177.01 323.72,177.49 C321.27,177.97 311.66,178.18 309.57,177.49Z" fill="#b3b3b3"/>
<path d="M313.76,144.21 C314.72,143.64 316.29,143.51 317.69,143.43 C319.09,143.34 320.83,143.29 322.14,143.69 C323.45,144.08 324.68,144.74 325.55,145.78 C326.42,146.83 327.03,148.49 327.38,149.98 C327.73,151.46 327.86,153.21 327.65,154.69 C327.43,156.18 326.90,157.79 326.07,158.88 C325.24,159.98 323.89,160.81 322.67,161.24 C321.45,161.68 319.96,161.72 318.74,161.50 C317.52,161.29 316.25,160.59 315.33,159.93 C314.41,159.28 313.19,158.27 313.24,157.57 C313.28,156.88 315.07,156.48 315.59,155.74 C316.12,155.00 316.64,153.78 316.38,153.12 C316.12,152.47 314.76,152.33 314.02,151.81 C313.28,151.29 312.28,150.81 311.93,149.98 C311.58,149.15 311.62,147.79 311.93,146.83 C312.23,145.87 312.80,144.78 313.76,144.21Z" fill="#b3b3b3"/></g>
<circle cx="319.0" cy="150.5" r="26.2" fill="none" stroke="#a8a8a8" stroke-width="0.5"/>
<text x="311.1" y="124.3" font-size="3.4" fill="#3a3a3a" text-anchor="middle" transform="rotate(-25 311.1 124.3)">60°W</text>
<text x="335.2" y="129.0" font-size="3.4" fill="#3a3a3a" text-anchor="middle" transform="rotate(40 335.2 129.0)">0°</text>
<text x="291.5" y="147.4" font-size="3.4" fill="#3a3a3a" text-anchor="middle" transform="rotate(-75 291.5 147.4)">90°W</text>
<text x="346.2" y="158.9" font-size="3.4" fill="#3a3a3a" text-anchor="middle" transform="rotate(80 346.2 158.9)">60°E</text>
<text x="296.7" y="171.5" font-size="3.4" fill="#3a3a3a" text-anchor="middle" transform="rotate(35 296.7 171.5)">120°W</text>
<text x="329.5" y="176.7" font-size="3.4" fill="#3a3a3a" text-anchor="middle" transform="rotate(-20 329.5 176.7)">180°</text>
<path d="M319.00,149.30 L319.90,151.30 L318.10,151.30 Z" fill="#111"/>
<g clip-path="url(#cp13)">
<circle cx="319.0" cy="209.0" r="26.2" fill="#8ccfa8"/>
<ellipse cx="304.59" cy="195.90" rx="9.17" ry="9.17" fill="#d6edb8" opacity="0.95" filter="url(#bl2)" transform="rotate(0 304.59 195.90)"/>
<ellipse cx="296.73" cy="211.62" rx="5.24" ry="10.48" fill="#b4e0ac" opacity="0.9" filter="url(#bl2)" transform="rotate(0 296.73 211.62)"/>
<ellipse cx="308.52" cy="229.44" rx="7.86" ry="5.24" fill="#3f9fb2" opacity="0.9" filter="url(#bl2)" transform="rotate(0 308.52 229.44)"/>
<ellipse cx="334.72" cy="223.41" rx="9.17" ry="7.86" fill="#5ab6a8" opacity="0.9" filter="url(#bl2)" transform="rotate(0 334.72 223.41)"/>
<path d="M319.00,209.00 L318.01,180.72 A28.30,28.30 0 0 1 346.87,213.91 Z" fill="#2a62a4" opacity="0.92" filter="url(#bl1)"/>
<ellipse cx="339.96" cy="195.90" rx="4.72" ry="7.86" fill="#0f2a74" opacity="0.95" filter="url(#bl1)" transform="rotate(30 339.96 195.90)"/>
<ellipse cx="328.17" cy="186.73" rx="7.86" ry="3.14" fill="#1c4690" opacity="0.9" filter="url(#bl1)" transform="rotate(15 328.17 186.73)"/>
<path d="M320.05,197.80 C320.95,197.59 322.01,197.55 322.91,197.77 C323.81,197.99 324.67,198.59 325.44,199.12 C326.20,199.65 326.89,200.30 327.50,200.96 C328.12,201.62 328.51,202.41 329.13,203.07 C329.74,203.74 330.74,204.19 331.18,204.95 C331.63,205.71 331.67,206.73 331.82,207.62 C331.97,208.52 332.22,209.44 332.09,210.31 C331.96,211.18 331.30,211.97 331.06,212.82 C330.82,213.67 330.95,214.61 330.65,215.41 C330.35,216.22 329.68,216.82 329.26,217.65 C328.84,218.49 328.72,219.70 328.13,220.45 C327.54,221.19 326.62,221.78 325.73,222.11 C324.84,222.43 323.75,222.37 322.81,222.39 C321.86,222.42 320.94,222.35 320.05,222.25 C319.15,222.15 318.25,222.07 317.43,221.79 C316.61,221.50 315.93,220.89 315.13,220.53 C314.32,220.18 313.38,220.08 312.60,219.65 C311.82,219.23 310.95,218.69 310.44,217.97 C309.93,217.26 309.93,216.19 309.54,215.37 C309.14,214.55 308.38,213.89 308.04,213.05 C307.71,212.21 307.64,211.25 307.52,210.31 C307.40,209.37 307.12,208.31 307.34,207.41 C307.56,206.51 308.23,205.64 308.83,204.91 C309.43,204.18 310.29,203.67 310.93,203.04 C311.58,202.41 312.03,201.63 312.71,201.11 C313.39,200.58 314.23,200.23 315.03,199.88 C315.82,199.54 316.64,199.39 317.48,199.04 C318.31,198.69 319.14,198.01 320.05,197.80Z" fill="none" stroke="#1f5a9c" stroke-width="5.24" opacity="0.88" filter="url(#bl1)"/>
<ellipse cx="328.17" cy="220.79" rx="7.86" ry="6.55" fill="#24609f" opacity="0.45" filter="url(#bl2)" transform="rotate(0 328.17 220.79)"/>
<path d="M320.05,192.14 C321.40,192.29 322.68,192.72 323.99,193.02 C325.31,193.32 326.75,193.36 327.93,193.94 C329.11,194.51 330.03,195.63 331.08,196.48 C332.13,197.32 333.44,197.96 334.22,199.01 C335.01,200.05 335.46,201.46 335.78,202.73 C336.10,204.01 335.95,205.38 336.12,206.64 C336.30,207.90 336.77,209.07 336.84,210.31 C336.91,211.55 336.60,212.75 336.55,214.08 C336.51,215.40 336.91,216.97 336.57,218.27 C336.23,219.56 335.38,220.80 334.53,221.86 C333.67,222.91 332.55,223.83 331.43,224.58 C330.30,225.33 329.02,225.87 327.78,226.36 C326.53,226.85 325.26,227.38 323.98,227.52 C322.69,227.66 321.34,227.26 320.05,227.20 C318.75,227.13 317.50,227.27 316.21,227.12 C314.93,226.97 313.57,226.76 312.35,226.30 C311.12,225.84 309.86,225.19 308.85,224.35 C307.84,223.52 307.10,222.34 306.27,221.30 C305.45,220.25 304.72,219.21 303.90,218.09 C303.08,216.97 301.72,215.87 301.35,214.58 C300.98,213.28 301.58,211.71 301.68,210.31 C301.77,208.91 301.41,207.40 301.92,206.17 C302.43,204.94 303.83,203.94 304.73,202.93 C305.63,201.93 306.48,201.08 307.31,200.15 C308.14,199.23 308.87,198.31 309.73,197.37 C310.58,196.43 311.41,195.38 312.44,194.51 C313.47,193.63 314.63,192.52 315.90,192.12 C317.17,191.73 318.70,191.99 320.05,192.14Z" fill="none" stroke="#3a90b0" stroke-width="2.36" opacity="0.6" filter="url(#bl1)"/>
<path d="M326.56,197.99 A13.94,13.94 0 0 1 329.38,198.58" fill="none" stroke="#5ab4a8" stroke-width="0.31" opacity="0.35"/>
<path d="M323.49,196.37 A14.36,14.36 0 0 1 326.05,198.55" fill="none" stroke="#cfe8c0" stroke-width="0.77" opacity="0.35"/>
<path d="M313.84,203.55 A9.18,9.18 0 0 1 315.37,201.64" fill="none" stroke="#1a4a8a" stroke-width="0.56" opacity="0.35"/>
<path d="M321.17,222.62 A12.36,12.36 0 0 1 316.36,221.52" fill="none" stroke="#1a4a8a" stroke-width="0.52" opacity="0.35"/>
<path d="M335.10,219.11 A17.43,17.43 0 0 1 334.47,221.12" fill="none" stroke="#5ab4a8" stroke-width="0.31" opacity="0.35"/>
<path d="M324.54,196.29 A14.72,14.72 0 0 1 325.76,197.71" fill="none" stroke="#5ab4a8" stroke-width="0.66" opacity="0.35"/>
<path d="M321.10,232.23 A21.94,21.94 0 0 1 314.42,230.97" fill="none" stroke="#cfe8c0" stroke-width="0.59" opacity="0.35"/>
<path d="M307.38,208.70 A12.77,12.77 0 0 1 309.01,204.82" fill="none" stroke="#1a4a8a" stroke-width="0.63" opacity="0.35"/>
<path d="M303.15,199.38 A20.12,20.12 0 0 1 305.34,195.48" fill="none" stroke="#1a4a8a" stroke-width="0.71" opacity="0.35"/>
<path d="M323.60,220.29 A10.60,10.60 0 0 1 319.68,219.76" fill="none" stroke="#cfe8c0" stroke-width="0.43" opacity="0.35"/>
<path d="M316.82,219.83 A10.05,10.05 0 0 1 315.25,219.41" fill="none" stroke="#5ab4a8" stroke-width="0.30" opacity="0.35"/>
<path d="M312.83,187.28 A24.13,24.13 0 0 1 321.77,186.26" fill="none" stroke="#1a4a8a" stroke-width="0.61" opacity="0.35"/>
<path d="M318.05,222.87 A12.71,12.71 0 0 1 314.53,221.40" fill="none" stroke="#cfe8c0" stroke-width="0.49" opacity="0.35"/>
<path d="M310.18,205.03 A11.19,11.19 0 0 1 313.49,200.65" fill="none" stroke="#5ab4a8" stroke-width="0.62" opacity="0.35"/>
<path d="M327.04,204.35 A9.19,9.19 0 0 1 327.00,206.46" fill="none" stroke="#1a4a8a" stroke-width="0.60" opacity="0.35"/>
<path d="M317.29,196.45 A14.13,14.13 0 0 1 323.34,195.31" fill="none" stroke="#1a4a8a" stroke-width="0.53" opacity="0.35"/>
<path d="M325.94,200.10 A11.78,11.78 0 0 1 327.84,201.95" fill="none" stroke="#1a4a8a" stroke-width="0.76" opacity="0.35"/>
<path d="M319.89,221.52 A11.21,11.21 0 0 1 315.20,220.97" fill="none" stroke="#5ab4a8" stroke-width="0.54" opacity="0.35"/>
<path d="M307.90,191.87 A22.08,22.08 0 0 1 313.26,190.59" fill="none" stroke="#1a4a8a" stroke-width="0.74" opacity="0.35"/>
<path d="M323.72,198.59 A12.29,12.29 0 0 1 327.46,200.41" fill="none" stroke="#5ab4a8" stroke-width="0.49" opacity="0.35"/>
<path d="M335.96,192.13 A24.16,24.16 0 0 1 340.67,195.44" fill="none" stroke="#1a4a8a" stroke-width="0.61" opacity="0.35"/>
<path d="M323.46,201.36 A9.58,9.58 0 0 1 326.42,203.28" fill="none" stroke="#5ab4a8" stroke-width="0.31" opacity="0.35"/>
<path d="M328.63,191.59 A20.60,20.60 0 0 1 332.21,194.93" fill="none" stroke="#1a4a8a" stroke-width="0.79" opacity="0.35"/>
<path d="M312.28,203.48 A10.34,10.34 0 0 1 315.46,200.78" fill="none" stroke="#1a4a8a" stroke-width="0.55" opacity="0.35"/>
<path d="M329.99,187.70 A24.70,24.70 0 0 1 334.44,188.72" fill="none" stroke="#1a4a8a" stroke-width="0.79" opacity="0.35"/>
<path d="M331.06,219.98 A14.65,14.65 0 0 1 327.11,223.49" fill="none" stroke="#1a4a8a" stroke-width="0.61" opacity="0.35"/>
<path d="M332.93,221.69 A17.19,17.19 0 0 1 332.07,223.51" fill="none" stroke="#1a4a8a" stroke-width="0.35" opacity="0.35"/>
<path d="M308.48,215.61 A12.73,12.73 0 0 1 307.18,211.27" fill="none" stroke="#1a4a8a" stroke-width="0.62" opacity="0.35"/>
<path d="M318.36,223.70 A13.49,13.49 0 0 1 316.57,222.55" fill="none" stroke="#1a4a8a" stroke-width="0.45" opacity="0.35"/>
<path d="M301.35,222.61 A22.37,22.37 0 0 1 299.22,214.08" fill="none" stroke="#5ab4a8" stroke-width="0.78" opacity="0.35"/>
<path d="M309.30,205.97 A11.59,11.59 0 0 1 310.27,203.74" fill="none" stroke="#5ab4a8" stroke-width="0.45" opacity="0.35"/>
<path d="M314.69,196.31 A14.99,14.99 0 0 1 316.09,195.09" fill="none" stroke="#1a4a8a" stroke-width="0.43" opacity="0.35"/>
<path d="M308.41,188.39 A24.82,24.82 0 0 1 313.30,185.92" fill="none" stroke="#1a4a8a" stroke-width="0.65" opacity="0.35"/>
<path d="M330.54,202.98 A12.80,12.80 0 0 1 330.75,204.60" fill="none" stroke="#cfe8c0" stroke-width="0.78" opacity="0.35"/>
<path d="M302.82,204.80 A18.09,18.09 0 0 1 306.56,200.00" fill="none" stroke="#1a4a8a" stroke-width="0.45" opacity="0.35"/>
<path d="M317.56,226.72 A16.60,16.60 0 0 1 313.43,224.14" fill="none" stroke="#5ab4a8" stroke-width="0.77" opacity="0.35"/>
<path d="M343.40,211.17 A23.37,23.37 0 0 1 340.53,219.49" fill="none" stroke="#5ab4a8" stroke-width="0.47" opacity="0.35"/>
<path d="M331.44,195.58 A18.63,18.63 0 0 1 335.20,198.23" fill="none" stroke="#cfe8c0" stroke-width="0.35" opacity="0.35"/>
<path d="M318.18,195.53 A14.90,14.90 0 0 1 319.84,195.21" fill="none" stroke="#cfe8c0" stroke-width="0.59" opacity="0.35"/>
<path d="M342.67,214.59 A23.02,23.02 0 0 1 341.30,218.78" fill="none" stroke="#5ab4a8" stroke-width="0.64" opacity="0.35"/>
<path d="M303.80,226.42 A22.88,22.88 0 0 1 298.58,219.60" fill="none" stroke="#1a4a8a" stroke-width="0.58" opacity="0.35"/>
<path d="M321.25,198.10 A12.27,12.27 0 0 1 327.13,199.69" fill="none" stroke="#1a4a8a" stroke-width="0.61" opacity="0.35"/>
<path d="M311.51,189.43 A22.55,22.55 0 0 1 314.17,187.97" fill="none" stroke="#5ab4a8" stroke-width="0.70" opacity="0.35"/>
<path d="M299.83,200.99 A22.26,22.26 0 0 1 304.77,193.91" fill="none" stroke="#cfe8c0" stroke-width="0.38" opacity="0.35"/>
<path d="M332.95,198.10 A17.76,17.76 0 0 1 336.95,201.53" fill="none" stroke="#1a4a8a" stroke-width="0.44" opacity="0.35"/>
<path d="M338.56,197.07 A22.76,22.76 0 0 1 340.71,204.31" fill="none" stroke="#1a4a8a" stroke-width="0.67" opacity="0.35"/>
<path d="M340.83,212.63 A20.91,20.91 0 0 1 341.16,215.90" fill="none" stroke="#5ab4a8" stroke-width="0.54" opacity="0.35"/>
<path d="M316.41,200.33 A10.62,10.62 0 0 1 319.12,198.43" fill="none" stroke="#cfe8c0" stroke-width="0.35" opacity="0.35"/>
<path d="M336.39,196.99 A21.08,21.08 0 0 1 337.73,200.77" fill="none" stroke="#1a4a8a" stroke-width="0.44" opacity="0.35"/>
<path d="M307.19,207.66 A13.12,13.12 0 0 1 309.26,205.23" fill="none" stroke="#5ab4a8" stroke-width="0.58" opacity="0.35"/>
<path d="M298.04,226.82 L311.14,220.00" stroke="#ffffff" stroke-width="0.8" opacity="0.8"/>
<path d="M320.05,197.23 C321.05,197.18 322.10,196.86 323.09,197.00 C324.07,197.13 325.10,197.52 325.96,198.02 C326.83,198.52 327.55,199.31 328.28,199.99 C329.01,200.66 329.86,201.27 330.37,202.08 C330.88,202.89 331.07,203.95 331.35,204.87 C331.62,205.78 331.80,206.67 332.03,207.58 C332.25,208.48 332.61,209.38 332.68,210.31 C332.75,211.24 332.54,212.17 332.46,213.14 C332.38,214.12 332.37,215.12 332.19,216.16 C332.00,217.19 331.98,218.55 331.36,219.33 C330.74,220.11 329.40,220.39 328.46,220.86 C327.53,221.33 326.71,221.96 325.75,222.16 C324.80,222.36 323.69,221.94 322.73,222.08 C321.78,222.22 320.98,222.82 320.05,222.99 C319.11,223.17 318.03,223.35 317.12,223.12 C316.22,222.89 315.49,222.04 314.60,221.62 C313.72,221.21 312.65,221.13 311.81,220.64 C310.97,220.15 310.16,219.45 309.56,218.67 C308.96,217.90 308.69,216.89 308.23,216.00 C307.78,215.11 307.16,214.28 306.81,213.33 C306.46,212.38 306.12,211.31 306.13,210.31 C306.15,209.31 306.38,208.18 306.88,207.31 C307.39,206.43 308.48,205.78 309.14,205.06 C309.80,204.33 310.32,203.72 310.83,202.96 C311.34,202.20 311.61,201.20 312.22,200.50 C312.83,199.79 313.67,199.28 314.48,198.75 C315.29,198.22 316.16,197.59 317.09,197.33 C318.01,197.08 319.05,197.29 320.05,197.23Z" fill="none" stroke="#28343a" stroke-width="0.35" opacity="0.5"/>
<path d="M320.05,193.76 C321.26,193.64 322.65,193.56 323.78,193.97 C324.91,194.38 325.91,195.44 326.84,196.21 C327.77,196.99 328.54,197.84 329.36,198.63 C330.18,199.43 331.07,200.11 331.74,200.98 C332.41,201.86 332.80,202.91 333.38,203.89 C333.96,204.86 334.73,205.78 335.22,206.85 C335.71,207.92 336.07,209.10 336.31,210.31 C336.55,211.52 336.87,212.90 336.66,214.10 C336.44,215.30 335.73,216.51 335.02,217.52 C334.32,218.53 333.36,219.43 332.42,220.17 C331.47,220.92 330.32,221.34 329.36,221.99 C328.40,222.63 327.66,223.52 326.67,224.07 C325.69,224.62 324.57,224.99 323.47,225.30 C322.37,225.61 321.20,225.86 320.05,225.91 C318.90,225.96 317.70,225.81 316.56,225.58 C315.42,225.35 314.29,224.99 313.19,224.55 C312.10,224.10 311.04,223.54 310.00,222.91 C308.96,222.28 307.76,221.66 306.93,220.77 C306.11,219.87 305.40,218.70 305.05,217.53 C304.71,216.36 304.79,214.98 304.87,213.77 C304.96,212.57 305.39,211.42 305.57,210.31 C305.74,209.20 305.73,208.15 305.93,207.09 C306.13,206.02 306.45,205.00 306.77,203.92 C307.09,202.83 307.38,201.69 307.87,200.60 C308.36,199.51 308.86,198.17 309.72,197.36 C310.59,196.56 311.93,196.23 313.05,195.78 C314.18,195.34 315.32,195.03 316.48,194.70 C317.65,194.36 318.83,193.88 320.05,193.76Z" fill="none" stroke="#28343a" stroke-width="0.35" opacity="0.5"/>
<path d="M320.05,191.50 C321.44,191.62 322.89,191.85 324.13,192.42 C325.37,192.99 326.39,194.13 327.47,194.90 C328.55,195.68 329.54,196.34 330.61,197.07 C331.67,197.80 332.85,198.42 333.85,199.31 C334.84,200.19 335.76,201.23 336.56,202.36 C337.37,203.48 338.12,204.74 338.66,206.06 C339.21,207.39 339.94,208.92 339.83,210.31 C339.72,211.70 338.61,213.12 337.99,214.40 C337.36,215.69 336.66,216.79 336.08,218.03 C335.51,219.28 335.34,220.80 334.55,221.87 C333.76,222.94 332.43,223.65 331.34,224.47 C330.25,225.29 329.22,226.31 327.99,226.80 C326.76,227.29 325.28,227.20 323.95,227.41 C322.63,227.62 321.37,227.97 320.05,228.05 C318.73,228.13 317.46,227.88 316.04,227.87 C314.62,227.85 312.99,228.24 311.55,227.95 C310.12,227.66 308.51,227.08 307.43,226.13 C306.34,225.19 305.67,223.60 305.05,222.27 C304.43,220.95 304.00,219.54 303.70,218.18 C303.39,216.83 303.30,215.46 303.22,214.15 C303.15,212.84 303.42,211.63 303.25,210.31 C303.08,208.99 302.22,207.59 302.21,206.24 C302.20,204.89 302.63,203.43 303.20,202.20 C303.77,200.96 304.69,199.81 305.63,198.81 C306.56,197.81 307.77,197.15 308.79,196.20 C309.82,195.25 310.59,193.84 311.76,193.09 C312.92,192.34 314.42,191.97 315.80,191.70 C317.18,191.44 318.66,191.38 320.05,191.50Z" fill="none" stroke="#28343a" stroke-width="0.35" opacity="0.5"/>
</g>
<g clip-path="url(#cp13L)"><path d="M311.24,200.42 C312.40,199.75 314.28,199.59 315.96,199.49 C317.64,199.39 319.73,199.33 321.31,199.80 C322.88,200.26 324.34,201.04 325.39,202.27 C326.44,203.51 327.17,205.47 327.59,207.22 C328.01,208.97 328.17,211.03 327.91,212.78 C327.65,214.54 327.02,216.44 326.02,217.73 C325.03,219.02 323.40,220.00 321.93,220.51 C320.47,221.03 318.69,221.08 317.22,220.82 C315.75,220.56 314.23,219.74 313.13,218.97 C312.03,218.19 310.56,217.01 310.62,216.18 C310.67,215.36 312.82,214.90 313.45,214.02 C314.07,213.14 314.70,211.70 314.39,210.93 C314.07,210.16 312.45,210.00 311.56,209.38 C310.67,208.76 309.46,208.20 309.04,207.22 C308.62,206.24 308.68,204.64 309.04,203.51 C309.41,202.37 310.09,201.09 311.24,200.42Z" fill="#e8f2f0" opacity="0.5" filter="url(#bl05)"/>
<path d="M310.35,206.90 C310.75,205.16 311.79,202.54 312.71,201.14 C313.63,199.74 314.90,198.78 315.86,198.52 C316.82,198.26 317.73,199.00 318.48,199.57 C319.22,200.14 321.10,201.40 320.31,201.93 C319.52,202.45 315.16,202.14 313.76,202.71 C312.36,203.28 312.23,204.37 311.93,205.33 C311.62,206.29 311.58,207.65 311.93,208.48 C312.28,209.31 313.28,209.79 314.02,210.31 C314.76,210.83 316.12,210.97 316.38,211.62 C316.64,212.28 316.12,213.50 315.59,214.24 C315.07,214.98 313.89,215.86 313.24,216.07 C312.58,216.29 312.14,216.29 311.66,215.55 C311.18,214.81 310.57,213.06 310.35,211.62 C310.14,210.18 309.96,208.65 310.35,206.90Z" fill="#eef4f8" opacity="0.55"/>
<path d="M307.21,182.80 C308.43,182.36 313.89,181.93 315.33,182.80 C316.77,183.67 315.81,186.38 315.86,188.04 C315.90,189.70 315.81,191.45 315.59,192.76 C315.38,194.07 315.03,195.64 314.55,195.90 C314.07,196.16 313.45,195.38 312.71,194.33 C311.97,193.28 310.88,191.10 310.09,189.61 C309.31,188.13 308.48,186.56 308.00,185.42 C307.52,184.28 305.99,183.24 307.21,182.80Z" fill="#b3b3b3"/>
<path d="M338.91,195.38 C339.35,194.59 341.40,194.76 342.58,195.38 C343.76,195.99 345.42,197.21 345.99,199.04 C346.55,200.88 346.55,205.42 345.99,206.38 C345.42,207.34 343.58,205.86 342.58,204.81 C341.58,203.76 340.57,201.66 339.96,200.09 C339.35,198.52 338.48,196.16 338.91,195.38Z" fill="#b3b3b3"/>
<path d="M309.57,235.99 C307.47,235.29 310.22,232.75 311.14,231.79 C312.06,230.83 313.76,230.35 315.07,230.22 C316.38,230.09 317.82,230.96 319.00,231.01 C320.18,231.05 321.27,230.13 322.14,230.48 C323.02,230.83 323.98,232.19 324.24,233.10 C324.50,234.02 326.16,235.51 323.72,235.99 C321.27,236.47 311.66,236.68 309.57,235.99Z" fill="#b3b3b3"/>
<path d="M313.76,202.71 C314.72,202.14 316.29,202.01 317.69,201.93 C319.09,201.84 320.83,201.79 322.14,202.19 C323.45,202.58 324.68,203.24 325.55,204.28 C326.42,205.33 327.03,206.99 327.38,208.48 C327.73,209.96 327.86,211.71 327.65,213.19 C327.43,214.68 326.90,216.29 326.07,217.38 C325.24,218.48 323.89,219.31 322.67,219.74 C321.45,220.18 319.96,220.22 318.74,220.00 C317.52,219.79 316.25,219.09 315.33,218.43 C314.41,217.78 313.19,216.77 313.24,216.07 C313.28,215.38 315.07,214.98 315.59,214.24 C316.12,213.50 316.64,212.28 316.38,211.62 C316.12,210.97 314.76,210.83 314.02,210.31 C313.28,209.79 312.28,209.31 311.93,208.48 C311.58,207.65 311.62,206.29 311.93,205.33 C312.23,204.37 312.80,203.28 313.76,202.71Z" fill="#b3b3b3"/></g>
<circle cx="319.0" cy="209.0" r="26.2" fill="none" stroke="#a8a8a8" stroke-width="0.5"/>
<text x="311.1" y="182.8" font-size="3.4" fill="#3a3a3a" text-anchor="middle" transform="rotate(-25 311.1 182.8)">60°W</text>
<text x="335.2" y="187.5" font-size="3.4" fill="#3a3a3a" text-anchor="middle" transform="rotate(40 335.2 187.5)">0°</text>
<text x="291.5" y="205.9" font-size="3.4" fill="#3a3a3a" text-anchor="middle" transform="rotate(-75 291.5 205.9)">90°W</text>
<text x="346.2" y="217.4" font-size="3.4" fill="#3a3a3a" text-anchor="middle" transform="rotate(80 346.2 217.4)">60°E</text>
<text x="296.7" y="230.0" font-size="3.4" fill="#3a3a3a" text-anchor="middle" transform="rotate(35 296.7 230.0)">120°W</text>
<text x="329.5" y="235.2" font-size="3.4" fill="#3a3a3a" text-anchor="middle" transform="rotate(-20 329.5 235.2)">180°</text>
<path d="M319.00,207.80 L319.90,209.80 L318.10,209.80 Z" fill="#111"/>
<g clip-path="url(#cp14)">
<circle cx="319.0" cy="267.6" r="26.2" fill="#8ccfa8"/>
<ellipse cx="304.59" cy="254.50" rx="9.17" ry="9.17" fill="#d6edb8" opacity="0.95" filter="url(#bl2)" transform="rotate(0 304.59 254.50)"/>
<ellipse cx="296.73" cy="270.22" rx="5.24" ry="10.48" fill="#b4e0ac" opacity="0.9" filter="url(#bl2)" transform="rotate(0 296.73 270.22)"/>
<ellipse cx="308.52" cy="288.04" rx="7.86" ry="5.24" fill="#3f9fb2" opacity="0.9" filter="url(#bl2)" transform="rotate(0 308.52 288.04)"/>
<ellipse cx="334.72" cy="282.01" rx="9.17" ry="7.86" fill="#5ab6a8" opacity="0.9" filter="url(#bl2)" transform="rotate(0 334.72 282.01)"/>
<path d="M319.00,267.60 L318.01,239.32 A28.30,28.30 0 0 1 346.87,272.51 Z" fill="#2a62a4" opacity="0.92" filter="url(#bl1)"/>
<ellipse cx="339.96" cy="254.50" rx="4.72" ry="7.86" fill="#0f2a74" opacity="0.95" filter="url(#bl1)" transform="rotate(30 339.96 254.50)"/>
<ellipse cx="328.17" cy="245.33" rx="7.86" ry="3.14" fill="#1c4690" opacity="0.9" filter="url(#bl1)" transform="rotate(15 328.17 245.33)"/>
<path d="M320.05,256.40 C320.95,256.19 322.01,256.15 322.91,256.37 C323.81,256.59 324.67,257.19 325.44,257.72 C326.20,258.25 326.89,258.90 327.50,259.56 C328.12,260.22 328.51,261.01 329.13,261.67 C329.74,262.34 330.74,262.79 331.18,263.55 C331.63,264.31 331.67,265.33 331.82,266.22 C331.97,267.12 332.22,268.04 332.09,268.91 C331.96,269.78 331.30,270.57 331.06,271.42 C330.82,272.27 330.95,273.21 330.65,274.01 C330.35,274.82 329.68,275.42 329.26,276.25 C328.84,277.09 328.72,278.30 328.13,279.05 C327.54,279.79 326.62,280.38 325.73,280.71 C324.84,281.03 323.75,280.97 322.81,280.99 C321.86,281.02 320.94,280.95 320.05,280.85 C319.15,280.75 318.25,280.67 317.43,280.39 C316.61,280.10 315.93,279.49 315.13,279.13 C314.32,278.78 313.38,278.68 312.60,278.25 C311.82,277.83 310.95,277.29 310.44,276.57 C309.93,275.86 309.93,274.79 309.54,273.97 C309.14,273.15 308.38,272.49 308.04,271.65 C307.71,270.81 307.64,269.85 307.52,268.91 C307.40,267.97 307.12,266.91 307.34,266.01 C307.56,265.11 308.23,264.24 308.83,263.51 C309.43,262.78 310.29,262.27 310.93,261.64 C311.58,261.01 312.03,260.23 312.71,259.71 C313.39,259.18 314.23,258.83 315.03,258.48 C315.82,258.14 316.64,257.99 317.48,257.64 C318.31,257.29 319.14,256.61 320.05,256.40Z" fill="none" stroke="#1f5a9c" stroke-width="5.24" opacity="0.88" filter="url(#bl1)"/>
<ellipse cx="328.17" cy="279.39" rx="7.86" ry="6.55" fill="#24609f" opacity="0.45" filter="url(#bl2)" transform="rotate(0 328.17 279.39)"/>
<path d="M320.05,250.74 C321.40,250.89 322.68,251.32 323.99,251.62 C325.31,251.92 326.75,251.96 327.93,252.54 C329.11,253.11 330.03,254.23 331.08,255.08 C332.13,255.92 333.44,256.56 334.22,257.61 C335.01,258.65 335.46,260.06 335.78,261.33 C336.10,262.61 335.95,263.98 336.12,265.24 C336.30,266.50 336.77,267.67 336.84,268.91 C336.91,270.15 336.60,271.35 336.55,272.68 C336.51,274.00 336.91,275.57 336.57,276.87 C336.23,278.16 335.38,279.40 334.53,280.46 C333.67,281.51 332.55,282.43 331.43,283.18 C330.30,283.93 329.02,284.47 327.78,284.96 C326.53,285.45 325.26,285.98 323.98,286.12 C322.69,286.26 321.34,285.86 320.05,285.80 C318.75,285.73 317.50,285.87 316.21,285.72 C314.93,285.57 313.57,285.36 312.35,284.90 C311.12,284.44 309.86,283.79 308.85,282.95 C307.84,282.12 307.10,280.94 306.27,279.90 C305.45,278.85 304.72,277.81 303.90,276.69 C303.08,275.57 301.72,274.47 301.35,273.18 C300.98,271.88 301.58,270.31 301.68,268.91 C301.77,267.51 301.41,266.00 301.92,264.77 C302.43,263.54 303.83,262.54 304.73,261.53 C305.63,260.53 306.48,259.68 307.31,258.75 C308.14,257.83 308.87,256.91 309.73,255.97 C310.58,255.03 311.41,253.98 312.44,253.11 C313.47,252.23 314.63,251.12 315.90,250.72 C317.17,250.33 318.70,250.59 320.05,250.74Z" fill="none" stroke="#3a90b0" stroke-width="2.36" opacity="0.6" filter="url(#bl1)"/>
<path d="M310.63,288.81 A22.01,22.01 0 0 1 304.75,283.92" fill="none" stroke="#cfe8c0" stroke-width="0.74" opacity="0.35"/>
<path d="M315.04,292.96 A24.56,24.56 0 0 1 307.40,291.20" fill="none" stroke="#cfe8c0" stroke-width="0.46" opacity="0.35"/>
<path d="M307.49,274.15 A13.61,13.61 0 0 1 306.06,270.36" fill="none" stroke="#1a4a8a" stroke-width="0.45" opacity="0.35"/>
<path d="M329.36,272.55 A10.00,10.00 0 0 1 328.10,275.30" fill="none" stroke="#cfe8c0" stroke-width="0.64" opacity="0.35"/>
<path d="M307.03,263.25 A14.19,14.19 0 0 1 307.95,260.24" fill="none" stroke="#1a4a8a" stroke-width="0.36" opacity="0.35"/>
<path d="M324.75,256.10 A13.64,13.64 0 0 1 329.68,260.34" fill="none" stroke="#1a4a8a" stroke-width="0.67" opacity="0.35"/>
<path d="M329.12,259.62 A12.98,12.98 0 0 1 330.49,262.24" fill="none" stroke="#1a4a8a" stroke-width="0.48" opacity="0.35"/>
<path d="M307.22,277.22 A15.29,15.29 0 0 1 304.77,272.86" fill="none" stroke="#1a4a8a" stroke-width="0.48" opacity="0.35"/>
<path d="M303.85,284.62 A22.56,22.56 0 0 1 300.29,277.19" fill="none" stroke="#1a4a8a" stroke-width="0.36" opacity="0.35"/>
<path d="M332.38,274.39 A13.50,13.50 0 0 1 330.95,275.46" fill="none" stroke="#1a4a8a" stroke-width="0.64" opacity="0.35"/>
<path d="M333.96,285.41 A21.58,21.58 0 0 1 327.76,289.32" fill="none" stroke="#5ab4a8" stroke-width="0.69" opacity="0.35"/>
<path d="M335.68,274.87 A16.73,16.73 0 0 1 334.51,276.67" fill="none" stroke="#5ab4a8" stroke-width="0.36" opacity="0.35"/>
<path d="M307.36,256.58 A17.69,17.69 0 0 1 308.83,255.42" fill="none" stroke="#5ab4a8" stroke-width="0.74" opacity="0.35"/>
<path d="M300.53,255.87 A23.47,23.47 0 0 1 307.74,248.22" fill="none" stroke="#5ab4a8" stroke-width="0.32" opacity="0.35"/>
<path d="M330.83,251.31 A20.64,20.64 0 0 1 336.01,255.99" fill="none" stroke="#5ab4a8" stroke-width="0.77" opacity="0.35"/>
<path d="M330.56,284.68 A18.95,18.95 0 0 1 325.83,287.66" fill="none" stroke="#5ab4a8" stroke-width="0.31" opacity="0.35"/>
<path d="M328.65,280.31 A14.28,14.28 0 0 1 323.01,281.82" fill="none" stroke="#1a4a8a" stroke-width="0.76" opacity="0.35"/>
<path d="M341.27,278.85 A23.44,23.44 0 0 1 333.75,286.86" fill="none" stroke="#cfe8c0" stroke-width="0.78" opacity="0.35"/>
<path d="M300.95,258.21 A21.90,21.90 0 0 1 303.76,252.65" fill="none" stroke="#5ab4a8" stroke-width="0.68" opacity="0.35"/>
<path d="M308.38,288.19 A22.54,22.54 0 0 1 302.89,284.02" fill="none" stroke="#cfe8c0" stroke-width="0.31" opacity="0.35"/>
<path d="M322.78,291.24 A22.50,22.50 0 0 1 313.79,289.37" fill="none" stroke="#1a4a8a" stroke-width="0.40" opacity="0.35"/>
<path d="M329.59,265.04 A10.29,10.29 0 0 1 331.41,269.98" fill="none" stroke="#1a4a8a" stroke-width="0.59" opacity="0.35"/>
<path d="M319.79,259.64 A9.28,9.28 0 0 1 323.57,259.09" fill="none" stroke="#5ab4a8" stroke-width="0.31" opacity="0.35"/>
<path d="M328.74,255.06 A16.35,16.35 0 0 1 334.45,259.71" fill="none" stroke="#cfe8c0" stroke-width="0.69" opacity="0.35"/>
<path d="M309.47,266.09 A10.94,10.94 0 0 1 310.52,264.29" fill="none" stroke="#cfe8c0" stroke-width="0.55" opacity="0.35"/>
<path d="M338.42,276.10 A19.73,19.73 0 0 1 338.42,278.60" fill="none" stroke="#1a4a8a" stroke-width="0.55" opacity="0.35"/>
<path d="M336.91,273.30 A17.42,17.42 0 0 1 335.96,277.32" fill="none" stroke="#1a4a8a" stroke-width="0.47" opacity="0.35"/>
<path d="M320.38,281.25 A12.35,12.35 0 0 1 317.23,279.81" fill="none" stroke="#1a4a8a" stroke-width="0.72" opacity="0.35"/>
<path d="M337.52,269.83 A17.50,17.50 0 0 1 336.19,272.55" fill="none" stroke="#5ab4a8" stroke-width="0.57" opacity="0.35"/>
<path d="M323.24,281.37 A12.86,12.86 0 0 1 318.83,280.46" fill="none" stroke="#1a4a8a" stroke-width="0.37" opacity="0.35"/>
<path d="M331.93,263.87 A12.90,12.90 0 0 1 333.25,268.82" fill="none" stroke="#1a4a8a" stroke-width="0.55" opacity="0.35"/>
<path d="M305.91,288.58 A24.22,24.22 0 0 1 300.81,282.61" fill="none" stroke="#1a4a8a" stroke-width="0.44" opacity="0.35"/>
<path d="M326.53,277.13 A10.47,10.47 0 0 1 326.02,278.51" fill="none" stroke="#1a4a8a" stroke-width="0.62" opacity="0.35"/>
<path d="M314.13,247.82 A21.90,21.90 0 0 1 319.20,248.23" fill="none" stroke="#1a4a8a" stroke-width="0.64" opacity="0.35"/>
<path d="M337.14,252.68 A23.57,23.57 0 0 1 339.81,255.52" fill="none" stroke="#1a4a8a" stroke-width="0.72" opacity="0.35"/>
<path d="M320.36,291.81 A22.90,22.90 0 0 1 310.84,290.78" fill="none" stroke="#cfe8c0" stroke-width="0.44" opacity="0.35"/>
<path d="M301.17,271.27 A19.02,19.02 0 0 1 302.76,262.82" fill="none" stroke="#cfe8c0" stroke-width="0.65" opacity="0.35"/>
<path d="M333.32,282.79 A19.21,19.21 0 0 1 329.50,287.01" fill="none" stroke="#5ab4a8" stroke-width="0.68" opacity="0.35"/>
<path d="M328.17,263.63 A9.69,9.69 0 0 1 328.20,265.57" fill="none" stroke="#5ab4a8" stroke-width="0.46" opacity="0.35"/>
<path d="M314.10,259.37 A11.24,11.24 0 0 1 318.75,258.44" fill="none" stroke="#1a4a8a" stroke-width="0.77" opacity="0.35"/>
<path d="M332.15,289.14 A23.58,23.58 0 0 1 328.80,290.80" fill="none" stroke="#5ab4a8" stroke-width="0.80" opacity="0.35"/>
<path d="M311.07,256.66 A15.19,15.19 0 0 1 315.19,254.28" fill="none" stroke="#5ab4a8" stroke-width="0.55" opacity="0.35"/>
<path d="M319.31,286.56 A17.66,17.66 0 0 1 315.37,286.06" fill="none" stroke="#5ab4a8" stroke-width="0.60" opacity="0.35"/>
<path d="M312.46,255.19 A15.68,15.68 0 0 1 318.12,254.63" fill="none" stroke="#1a4a8a" stroke-width="0.73" opacity="0.35"/>
<path d="M342.50,276.72 A23.77,23.77 0 0 1 337.90,286.06" fill="none" stroke="#cfe8c0" stroke-width="0.40" opacity="0.35"/>
<path d="M324.05,281.32 A13.03,13.03 0 0 1 318.49,282.12" fill="none" stroke="#cfe8c0" stroke-width="0.77" opacity="0.35"/>
<path d="M327.84,274.62 A9.66,9.66 0 0 1 326.57,275.36" fill="none" stroke="#cfe8c0" stroke-width="0.66" opacity="0.35"/>
<path d="M304.98,283.43 A20.93,20.93 0 0 1 298.70,274.87" fill="none" stroke="#cfe8c0" stroke-width="0.46" opacity="0.35"/>
<path d="M308.95,276.97 A13.72,13.72 0 0 1 308.29,273.72" fill="none" stroke="#cfe8c0" stroke-width="0.75" opacity="0.35"/>
<path d="M322.02,258.95 A10.15,10.15 0 0 1 325.51,260.61" fill="none" stroke="#5ab4a8" stroke-width="0.46" opacity="0.35"/>
<path d="M298.04,285.42 L311.14,278.60" stroke="#ffffff" stroke-width="0.8" opacity="0.8"/>
<path d="M320.05,255.83 C321.05,255.78 322.10,255.46 323.09,255.60 C324.07,255.73 325.10,256.12 325.96,256.62 C326.83,257.12 327.55,257.91 328.28,258.59 C329.01,259.26 329.86,259.87 330.37,260.68 C330.88,261.49 331.07,262.55 331.35,263.47 C331.62,264.38 331.80,265.27 332.03,266.18 C332.25,267.08 332.61,267.98 332.68,268.91 C332.75,269.84 332.54,270.77 332.46,271.74 C332.38,272.72 332.37,273.72 332.19,274.76 C332.00,275.79 331.98,277.15 331.36,277.93 C330.74,278.71 329.40,278.99 328.46,279.46 C327.53,279.93 326.71,280.56 325.75,280.76 C324.80,280.96 323.69,280.54 322.73,280.68 C321.78,280.82 320.98,281.42 320.05,281.59 C319.11,281.77 318.03,281.95 317.12,281.72 C316.22,281.49 315.49,280.64 314.60,280.22 C313.72,279.81 312.65,279.73 311.81,279.24 C310.97,278.75 310.16,278.05 309.56,277.27 C308.96,276.50 308.69,275.49 308.23,274.60 C307.78,273.71 307.16,272.88 306.81,271.93 C306.46,270.98 306.12,269.91 306.13,268.91 C306.15,267.91 306.38,266.78 306.88,265.91 C307.39,265.03 308.48,264.38 309.14,263.66 C309.80,262.93 310.32,262.32 310.83,261.56 C311.34,260.80 311.61,259.80 312.22,259.10 C312.83,258.39 313.67,257.88 314.48,257.35 C315.29,256.82 316.16,256.19 317.09,255.93 C318.01,255.68 319.05,255.89 320.05,255.83Z" fill="none" stroke="#28343a" stroke-width="0.35" opacity="0.5"/>
<path d="M320.05,252.36 C321.26,252.24 322.65,252.16 323.78,252.57 C324.91,252.98 325.91,254.04 326.84,254.81 C327.77,255.59 328.54,256.44 329.36,257.23 C330.18,258.03 331.07,258.71 331.74,259.58 C332.41,260.46 332.80,261.51 333.38,262.49 C333.96,263.46 334.73,264.38 335.22,265.45 C335.71,266.52 336.07,267.70 336.31,268.91 C336.55,270.12 336.87,271.50 336.66,272.70 C336.44,273.90 335.73,275.11 335.02,276.12 C334.32,277.13 333.36,278.03 332.42,278.77 C331.47,279.52 330.32,279.94 329.36,280.59 C328.40,281.23 327.66,282.12 326.67,282.67 C325.69,283.22 324.57,283.59 323.47,283.90 C322.37,284.21 321.20,284.46 320.05,284.51 C318.90,284.56 317.70,284.41 316.56,284.18 C315.42,283.95 314.29,283.59 313.19,283.15 C312.10,282.70 311.04,282.14 310.00,281.51 C308.96,280.88 307.76,280.26 306.93,279.37 C306.11,278.47 305.40,277.30 305.05,276.13 C304.71,274.96 304.79,273.58 304.87,272.37 C304.96,271.17 305.39,270.02 305.57,268.91 C305.74,267.80 305.73,266.75 305.93,265.69 C306.13,264.62 306.45,263.60 306.77,262.52 C307.09,261.43 307.38,260.29 307.87,259.20 C308.36,258.11 308.86,256.77 309.72,255.96 C310.59,255.16 311.93,254.83 313.05,254.38 C314.18,253.94 315.32,253.63 316.48,253.30 C317.65,252.96 318.83,252.48 320.05,252.36Z" fill="none" stroke="#28343a" stroke-width="0.35" opacity="0.5"/>
<path d="M320.05,250.10 C321.44,250.22 322.89,250.45 324.13,251.02 C325.37,251.59 326.39,252.73 327.47,253.50 C328.55,254.28 329.54,254.94 330.61,255.67 C331.67,256.40 332.85,257.02 333.85,257.91 C334.84,258.79 335.76,259.83 336.56,260.96 C337.37,262.08 338.12,263.34 338.66,264.66 C339.21,265.99 339.94,267.52 339.83,268.91 C339.72,270.30 338.61,271.72 337.99,273.00 C337.36,274.29 336.66,275.39 336.08,276.63 C335.51,277.88 335.34,279.40 334.55,280.47 C333.76,281.54 332.43,282.25 331.34,283.07 C330.25,283.89 329.22,284.91 327.99,285.40 C326.76,285.89 325.28,285.80 323.95,286.01 C322.63,286.22 321.37,286.57 320.05,286.65 C318.73,286.73 317.46,286.48 316.04,286.47 C314.62,286.45 312.99,286.84 311.55,286.55 C310.12,286.26 308.51,285.68 307.43,284.73 C306.34,283.79 305.67,282.20 305.05,280.87 C304.43,279.55 304.00,278.14 303.70,276.78 C303.39,275.43 303.30,274.06 303.22,272.75 C303.15,271.44 303.42,270.23 303.25,268.91 C303.08,267.59 302.22,266.19 302.21,264.84 C302.20,263.49 302.63,262.03 303.20,260.80 C303.77,259.56 304.69,258.41 305.63,257.41 C306.56,256.41 307.77,255.75 308.79,254.80 C309.82,253.85 310.59,252.44 311.76,251.69 C312.92,250.94 314.42,250.57 315.80,250.30 C317.18,250.04 318.66,249.98 320.05,250.10Z" fill="none" stroke="#28343a" stroke-width="0.35" opacity="0.5"/>
</g>
<g clip-path="url(#cp14L)"><path d="M311.24,259.02 C312.40,258.35 314.28,258.19 315.96,258.09 C317.64,257.99 319.73,257.93 321.31,258.40 C322.88,258.86 324.34,259.64 325.39,260.87 C326.44,262.11 327.17,264.07 327.59,265.82 C328.01,267.57 328.17,269.63 327.91,271.38 C327.65,273.14 327.02,275.04 326.02,276.33 C325.03,277.62 323.40,278.60 321.93,279.11 C320.47,279.63 318.69,279.68 317.22,279.42 C315.75,279.16 314.23,278.34 313.13,277.57 C312.03,276.79 310.56,275.61 310.62,274.78 C310.67,273.96 312.82,273.50 313.45,272.62 C314.07,271.74 314.70,270.30 314.39,269.53 C314.07,268.76 312.45,268.60 311.56,267.98 C310.67,267.36 309.46,266.80 309.04,265.82 C308.62,264.84 308.68,263.24 309.04,262.11 C309.41,260.97 310.09,259.69 311.24,259.02Z" fill="#e8f2f0" opacity="0.5" filter="url(#bl05)"/>
<path d="M310.35,265.50 C310.75,263.76 311.79,261.14 312.71,259.74 C313.63,258.34 314.90,257.38 315.86,257.12 C316.82,256.86 317.73,257.60 318.48,258.17 C319.22,258.74 321.10,260.00 320.31,260.53 C319.52,261.05 315.16,260.74 313.76,261.31 C312.36,261.88 312.23,262.97 311.93,263.93 C311.62,264.89 311.58,266.25 311.93,267.08 C312.28,267.91 313.28,268.39 314.02,268.91 C314.76,269.43 316.12,269.57 316.38,270.22 C316.64,270.88 316.12,272.10 315.59,272.84 C315.07,273.58 313.89,274.46 313.24,274.67 C312.58,274.89 312.14,274.89 311.66,274.15 C311.18,273.41 310.57,271.66 310.35,270.22 C310.14,268.78 309.96,267.25 310.35,265.50Z" fill="#eef4f8" opacity="0.55"/>
<path d="M307.21,241.40 C308.43,240.96 313.89,240.53 315.33,241.40 C316.77,242.27 315.81,244.98 315.86,246.64 C315.90,248.30 315.81,250.05 315.59,251.36 C315.38,252.67 315.03,254.24 314.55,254.50 C314.07,254.76 313.45,253.98 312.71,252.93 C311.97,251.88 310.88,249.70 310.09,248.21 C309.31,246.73 308.48,245.16 308.00,244.02 C307.52,242.88 305.99,241.84 307.21,241.40Z" fill="#b3b3b3"/>
<path d="M338.91,253.98 C339.35,253.19 341.40,253.36 342.58,253.98 C343.76,254.59 345.42,255.81 345.99,257.64 C346.55,259.48 346.55,264.02 345.99,264.98 C345.42,265.94 343.58,264.46 342.58,263.41 C341.58,262.36 340.57,260.26 339.96,258.69 C339.35,257.12 338.48,254.76 338.91,253.98Z" fill="#b3b3b3"/>
<path d="M309.57,294.59 C307.47,293.89 310.22,291.35 311.14,290.39 C312.06,289.43 313.76,288.95 315.07,288.82 C316.38,288.69 317.82,289.56 319.00,289.61 C320.18,289.65 321.27,288.73 322.14,289.08 C323.02,289.43 323.98,290.79 324.24,291.70 C324.50,292.62 326.16,294.11 323.72,294.59 C321.27,295.07 311.66,295.28 309.57,294.59Z" fill="#b3b3b3"/>
<path d="M313.76,261.31 C314.72,260.74 316.29,260.61 317.69,260.53 C319.09,260.44 320.83,260.39 322.14,260.79 C323.45,261.18 324.68,261.84 325.55,262.88 C326.42,263.93 327.03,265.59 327.38,267.08 C327.73,268.56 327.86,270.31 327.65,271.79 C327.43,273.28 326.90,274.89 326.07,275.98 C325.24,277.08 323.89,277.91 322.67,278.34 C321.45,278.78 319.96,278.82 318.74,278.60 C317.52,278.39 316.25,277.69 315.33,277.03 C314.41,276.38 313.19,275.37 313.24,274.67 C313.28,273.98 315.07,273.58 315.59,272.84 C316.12,272.10 316.64,270.88 316.38,270.22 C316.12,269.57 314.76,269.43 314.02,268.91 C313.28,268.39 312.28,267.91 311.93,267.08 C311.58,266.25 311.62,264.89 311.93,263.93 C312.23,262.97 312.80,261.88 313.76,261.31Z" fill="#b3b3b3"/></g>
<circle cx="319.0" cy="267.6" r="26.2" fill="none" stroke="#a8a8a8" stroke-width="0.5"/>
<text x="311.1" y="241.4" font-size="3.4" fill="#3a3a3a" text-anchor="middle" transform="rotate(-25 311.1 241.4)">60°W</text>
<text x="335.2" y="246.1" font-size="3.4" fill="#3a3a3a" text-anchor="middle" transform="rotate(40 335.2 246.1)">0°</text>
<text x="291.5" y="264.5" font-size="3.4" fill="#3a3a3a" text-anchor="middle" transform="rotate(-75 291.5 264.5)">90°W</text>
<text x="346.2" y="276.0" font-size="3.4" fill="#3a3a3a" text-anchor="middle" transform="rotate(80 346.2 276.0)">60°E</text>
<text x="296.7" y="288.6" font-size="3.4" fill="#3a3a3a" text-anchor="middle" transform="rotate(35 296.7 288.6)">120°W</text>
<text x="329.5" y="293.8" font-size="3.4" fill="#3a3a3a" text-anchor="middle" transform="rotate(-20 329.5 293.8)">180°</text>
<path d="M319.00,266.40 L319.90,268.40 L318.10,268.40 Z" fill="#111"/>
<line x1="76.5" y1="117.4" x2="76.5" y2="151.0" stroke="#808080" stroke-width="0.35" opacity="0.9"/>
<line x1="76.5" y1="176.2" x2="76.5" y2="209.5" stroke="#808080" stroke-width="0.35" opacity="0.9"/>
<line x1="76.5" y1="234.7" x2="76.5" y2="268.1" stroke="#808080" stroke-width="0.35" opacity="0.9"/>
<line x1="318.8" y1="117.4" x2="318.8" y2="151.0" stroke="#808080" stroke-width="0.35" opacity="0.9"/>
<line x1="318.8" y1="176.2" x2="318.8" y2="209.5" stroke="#808080" stroke-width="0.35" opacity="0.9"/>
<line x1="318.8" y1="234.7" x2="318.8" y2="268.1" stroke="#808080" stroke-width="0.35" opacity="0.9"/>
<polyline points="102.5,31.3 108.6,31.3 108.6,270.3 103.7,270.3" fill="none" stroke="#333" stroke-width="0.55"/>
<path d="M102.5,270.3 L105.5,268.8 L105.5,271.8 Z" fill="#222"/>
<polyline points="345.3,31.3 351.0,31.3 351.0,270.3 346.5,270.3" fill="none" stroke="#333" stroke-width="0.55"/>
<path d="M345.3,270.3 L348.3,268.8 L348.3,271.8 Z" fill="#222"/>
<rect x="43.8" y="297.9" width="68" height="2" fill="url(#cbA)"/>
<text x="44.20" y="304.30" font-size="3.3" text-anchor="middle" fill="#555" >0</text>
<text x="55.47" y="304.30" font-size="3.3" text-anchor="middle" fill="#555" >5</text>
<text x="66.74" y="304.30" font-size="3.3" text-anchor="middle" fill="#555" >10</text>
<text x="78.01" y="304.30" font-size="3.3" text-anchor="middle" fill="#555" >15</text>
<text x="89.28" y="304.30" font-size="3.3" text-anchor="middle" fill="#555" >20</text>
<text x="100.55" y="304.30" font-size="3.3" text-anchor="middle" fill="#555" >25</text>
<text x="111.82" y="304.30" font-size="3.3" text-anchor="middle" fill="#555" >30</text>
<rect x="286.3" y="298" width="68.2" height="2" fill="url(#cbC)"/>
<text x="288.50" y="304.30" font-size="3.3" text-anchor="middle" fill="#555" >0.75</text>
<text x="304.10" y="304.30" font-size="3.3" text-anchor="middle" fill="#555" >0.8</text>
<text x="319.70" y="304.30" font-size="3.3" text-anchor="middle" fill="#555" >0.85</text>
<text x="335.30" y="304.30" font-size="3.3" text-anchor="middle" fill="#555" >0.9</text>
<text x="350.90" y="304.30" font-size="3.3" text-anchor="middle" fill="#555" >0.95</text>
<line x1="149.20" y1="25" x2="149.20" y2="80" stroke="#e3e3e3" stroke-width="0.6"/>
<line x1="173.40" y1="25" x2="173.40" y2="80" stroke="#e3e3e3" stroke-width="0.6"/>
<line x1="197.60" y1="25" x2="197.60" y2="80" stroke="#e3e3e3" stroke-width="0.6"/>
<line x1="221.80" y1="25" x2="221.80" y2="80" stroke="#e3e3e3" stroke-width="0.6"/>
<line x1="125" y1="71.54" x2="246" y2="71.54" stroke="#e3e3e3" stroke-width="0.6"/>
<line x1="125" y1="54.62" x2="246" y2="54.62" stroke="#e3e3e3" stroke-width="0.6"/>
<line x1="125" y1="37.69" x2="246" y2="37.69" stroke="#e3e3e3" stroke-width="0.6"/>
<polyline points="125.0,34.3 135.0,36.2 149.3,38.5 160.0,41.5 173.6,46.0 186.0,51.7 193.0,55.5 202.7,64.3 208.3,67.0 216.8,69.0 227.0,68.0 234.6,63.3 240.0,58.6 243.5,56.5" fill="none" stroke="#9c4fd9" stroke-width="0.9" opacity="1" stroke-linejoin="round" stroke-linecap="round"/>
<polyline points="125.0,38.0 135.0,37.5 146.0,35.5 159.6,33.6 167.0,33.8 173.6,35.2 184.0,39.5 193.4,46.0 202.7,62.0 210.0,68.5 217.7,71.5 224.0,72.0 229.0,70.5 232.7,71.5 237.4,69.5 241.0,71.0 245.8,65.2" fill="none" stroke="#e9b732" stroke-width="0.8" opacity="1" stroke-linejoin="round" stroke-linecap="round"/>
<polyline points="125.0,37.5 135.0,37.0 146.0,35.8 159.6,33.2 167.0,33.5 173.6,35.0 184.0,39.5 193.4,46.0 202.7,62.0 210.0,67.5 217.7,70.5 224.0,71.5 229.0,69.0 232.7,70.0 236.4,63.3 242.0,70.4" fill="none" stroke="#3d8fd1" stroke-width="0.8" opacity="1" stroke-linejoin="round" stroke-linecap="round"/>
<polyline points="125.0,38.0 135.0,37.8 146.0,36.0 159.6,34.3 167.0,34.3 173.6,35.8 184.0,40.9 193.4,48.0 202.7,63.3 210.0,69.0 217.7,72.7 224.0,73.6 229.0,71.7 232.7,73.6 237.4,69.0 240.0,73.0" fill="none" stroke="#e07a45" stroke-width="0.9" opacity="1" stroke-linejoin="round" stroke-linecap="round"/>
<polyline points="125.0,36.0 128.5,37.0 131.5,41.0 135.0,35.0 138.0,36.5 141.0,41.8 146.5,35.6 152.0,35.0 159.6,32.4 162.0,34.3 167.0,32.4 173.6,35.2 179.0,42.7 182.0,37.0 186.0,39.0 193.4,44.6 202.7,59.6 205.5,68.0 211.0,64.3 216.8,69.0 223.3,66.0 228.0,74.6 234.6,67.0 240.0,70.8 243.0,70.0" fill="none" stroke="#5fb548" stroke-width="0.9" opacity="1" stroke-linejoin="round" stroke-linecap="round"/>
<rect x="125" y="25" width="121" height="55" fill="none" stroke="#6e6e6e" stroke-width="0.75"/>
<line x1="149.20" y1="25" x2="149.20" y2="26.3" stroke="#262626" stroke-width="0.6"/>
<line x1="149.20" y1="80" x2="149.20" y2="78.7" stroke="#262626" stroke-width="0.6"/>
<line x1="173.40" y1="25" x2="173.40" y2="26.3" stroke="#262626" stroke-width="0.6"/>
<line x1="173.40" y1="80" x2="173.40" y2="78.7" stroke="#262626" stroke-width="0.6"/>
<line x1="197.60" y1="25" x2="197.60" y2="26.3" stroke="#262626" stroke-width="0.6"/>
<line x1="197.60" y1="80" x2="197.60" y2="78.7" stroke="#262626" stroke-width="0.6"/>
<line x1="221.80" y1="25" x2="221.80" y2="26.3" stroke="#262626" stroke-width="0.6"/>
<line x1="221.80" y1="80" x2="221.80" y2="78.7" stroke="#262626" stroke-width="0.6"/>
<line x1="125" y1="71.54" x2="126.3" y2="71.54" stroke="#262626" stroke-width="0.6"/>
<line x1="246" y1="71.54" x2="244.7" y2="71.54" stroke="#262626" stroke-width="0.6"/>
<text x="122.80" y="73.64" font-size="6.0" text-anchor="end" fill="#3c3c3c" >20</text>
<line x1="125" y1="54.62" x2="126.3" y2="54.62" stroke="#262626" stroke-width="0.6"/>
<line x1="246" y1="54.62" x2="244.7" y2="54.62" stroke="#262626" stroke-width="0.6"/>
<text x="122.80" y="56.72" font-size="6.0" text-anchor="end" fill="#3c3c3c" >40</text>
<line x1="125" y1="37.69" x2="126.3" y2="37.69" stroke="#262626" stroke-width="0.6"/>
<line x1="246" y1="37.69" x2="244.7" y2="37.69" stroke="#262626" stroke-width="0.6"/>
<text x="122.80" y="39.79" font-size="6.0" text-anchor="end" fill="#3c3c3c" >60</text>
<text x="185.50" y="22.70" font-size="6.9" text-anchor="middle" fill="#161616" >Subsurface (100-300 m)</text>
<line x1="149.20" y1="89" x2="149.20" y2="144" stroke="#e3e3e3" stroke-width="0.6"/>
<line x1="173.40" y1="89" x2="173.40" y2="144" stroke="#e3e3e3" stroke-width="0.6"/>
<line x1="197.60" y1="89" x2="197.60" y2="144" stroke="#e3e3e3" stroke-width="0.6"/>
<line x1="221.80" y1="89" x2="221.80" y2="144" stroke="#e3e3e3" stroke-width="0.6"/>
<line x1="125" y1="128.72" x2="246" y2="128.72" stroke="#e3e3e3" stroke-width="0.6"/>
<line x1="125" y1="113.44" x2="246" y2="113.44" stroke="#e3e3e3" stroke-width="0.6"/>
<line x1="125" y1="98.17" x2="246" y2="98.17" stroke="#e3e3e3" stroke-width="0.6"/>
<polyline points="125.0,136.6 136.0,134.5 148.3,132.4 160.0,133.0 172.7,133.3 186.0,131.0 195.0,128.0 202.7,124.5 210.0,118.0 214.9,119.8 221.5,123.6 229.0,126.4 234.6,131.4" fill="none" stroke="#9c4fd9" stroke-width="0.9" opacity="1" stroke-linejoin="round" stroke-linecap="round"/>
<polyline points="125.0,119.5 133.0,114.0 142.7,110.0 150.2,107.5 165.0,108.3 172.7,109.0 186.0,111.4 202.7,113.5 210.0,111.4 215.8,120.8 222.0,124.0 226.0,130.7 229.0,126.4 233.6,143.8" fill="none" stroke="#3d8fd1" stroke-width="0.8" opacity="1" stroke-linejoin="round" stroke-linecap="round"/>
<polyline points="125.0,119.8 133.0,114.5 142.7,110.2 150.2,107.2 165.0,108.0 172.7,109.5 186.0,112.0 202.7,114.5 210.0,112.0 215.8,120.0 222.4,121.0 230.8,123.6 234.6,125.5 236.0,119.0" fill="none" stroke="#e9b732" stroke-width="0.8" opacity="1" stroke-linejoin="round" stroke-linecap="round"/>
<polyline points="125.0,119.5 133.0,114.5 142.7,110.0 150.2,107.0 169.0,108.6 186.0,114.2 202.7,116.0 210.0,111.4 214.9,118.9 222.4,118.9 229.9,116.0 233.6,127.3 235.5,121.7" fill="none" stroke="#e07a45" stroke-width="0.9" opacity="1" stroke-linejoin="round" stroke-linecap="round"/>
<polyline points="125.9,109.5 131.0,118.9 133.4,104.0 138.0,108.2 142.7,106.7 146.0,92.0 148.3,105.8 153.0,97.4 155.0,107.7 159.6,98.3 164.3,107.7 169.0,109.5 172.7,113.3 180.0,117.0 182.0,111.4 191.5,109.5 194.3,112.3 202.7,113.3 207.4,110.5 211.0,104.0 213.0,112.3 215.8,120.8 218.6,113.3 221.5,118.0 224.3,115.0 228.0,120.8 230.8,122.6 232.7,126.4 235.5,118.9" fill="none" stroke="#5fb548" stroke-width="0.9" opacity="1" stroke-linejoin="round" stroke-linecap="round"/>
<rect x="125" y="89" width="121" height="55" fill="none" stroke="#6e6e6e" stroke-width="0.75"/>
<line x1="149.20" y1="89" x2="149.20" y2="90.3" stroke="#262626" stroke-width="0.6"/>
<line x1="149.20" y1="144" x2="149.20" y2="142.7" stroke="#262626" stroke-width="0.6"/>
<line x1="173.40" y1="89" x2="173.40" y2="90.3" stroke="#262626" stroke-width="0.6"/>
<line x1="173.40" y1="144" x2="173.40" y2="142.7" stroke="#262626" stroke-width="0.6"/>
<line x1="197.60" y1="89" x2="197.60" y2="90.3" stroke="#262626" stroke-width="0.6"/>
<line x1="197.60" y1="144" x2="197.60" y2="142.7" stroke="#262626" stroke-width="0.6"/>
<line x1="221.80" y1="89" x2="221.80" y2="90.3" stroke="#262626" stroke-width="0.6"/>
<line x1="221.80" y1="144" x2="221.80" y2="142.7" stroke="#262626" stroke-width="0.6"/>
<line x1="125" y1="144.00" x2="126.3" y2="144.00" stroke="#262626" stroke-width="0.6"/>
<line x1="246" y1="144.00" x2="244.7" y2="144.00" stroke="#262626" stroke-width="0.6"/>
<text x="122.80" y="146.10" font-size="6.0" text-anchor="end" fill="#3c3c3c" >0</text>
<line x1="125" y1="128.72" x2="126.3" y2="128.72" stroke="#262626" stroke-width="0.6"/>
<line x1="246" y1="128.72" x2="244.7" y2="128.72" stroke="#262626" stroke-width="0.6"/>
<text x="122.80" y="130.82" font-size="6.0" text-anchor="end" fill="#3c3c3c" >5</text>
<line x1="125" y1="113.44" x2="126.3" y2="113.44" stroke="#262626" stroke-width="0.6"/>
<line x1="246" y1="113.44" x2="244.7" y2="113.44" stroke="#262626" stroke-width="0.6"/>
<text x="122.80" y="115.54" font-size="6.0" text-anchor="end" fill="#3c3c3c" >10</text>
<line x1="125" y1="98.17" x2="126.3" y2="98.17" stroke="#262626" stroke-width="0.6"/>
<line x1="246" y1="98.17" x2="244.7" y2="98.17" stroke="#262626" stroke-width="0.6"/>
<text x="122.80" y="100.27" font-size="6.0" text-anchor="end" fill="#3c3c3c" >15</text>
<text x="185.50" y="86.70" font-size="6.9" text-anchor="middle" fill="#161616" >Intermediate (1400-2000 m)</text>
<line x1="149.20" y1="153" x2="149.20" y2="208" stroke="#e3e3e3" stroke-width="0.6"/>
<line x1="173.40" y1="153" x2="173.40" y2="208" stroke="#e3e3e3" stroke-width="0.6"/>
<line x1="197.60" y1="153" x2="197.60" y2="208" stroke="#e3e3e3" stroke-width="0.6"/>
<line x1="221.80" y1="153" x2="221.80" y2="208" stroke="#e3e3e3" stroke-width="0.6"/>
<line x1="125" y1="197.00" x2="246" y2="197.00" stroke="#e3e3e3" stroke-width="0.6"/>
<line x1="125" y1="186.00" x2="246" y2="186.00" stroke="#e3e3e3" stroke-width="0.6"/>
<line x1="125" y1="175.00" x2="246" y2="175.00" stroke="#e3e3e3" stroke-width="0.6"/>
<line x1="125" y1="164.00" x2="246" y2="164.00" stroke="#e3e3e3" stroke-width="0.6"/>
<polyline points="125.9,194.1 131.5,197.3 136.2,190.4 140.9,193.6 146.0,187.2 149.3,194.1 153.0,189.5 155.8,194.1 163.3,191.3 169.9,189.0 174.6,190.4 180.0,186.6 186.0,186.0 189.6,182.0 195.2,182.3 208.3,172.6 212.0,176.3 215.8,185.7 218.6,179.2 221.5,184.8 224.3,185.7 228.0,192.3 234.6,189.5" fill="none" stroke="#5fb548" stroke-width="0.9" opacity="1" stroke-linejoin="round" stroke-linecap="round"/>
<polyline points="125.9,195.0 131.5,197.0 135.2,192.3 140.0,199.8 144.6,197.9 150.2,193.2 154.0,186.6 157.7,184.8 167.0,186.6 176.4,182.3 186.0,183.8 195.2,182.0 208.3,172.2 217.7,179.2 225.2,182.0 227.0,187.6" fill="none" stroke="#e9b732" stroke-width="0.8" opacity="1" stroke-linejoin="round" stroke-linecap="round"/>
<polyline points="125.9,203.0 129.6,204.4 135.2,202.2 142.7,201.0 150.2,197.0 154.0,191.7 157.7,180.0 162.4,176.0 166.1,182.0 169.9,184.8 176.4,179.2 186.0,182.3 191.5,182.9 195.2,182.0 199.0,179.2 208.3,171.7 212.0,172.6 214.9,170.7 217.7,171.3" fill="none" stroke="#3d8fd1" stroke-width="0.8" opacity="1" stroke-linejoin="round" stroke-linecap="round"/>
<polyline points="154.0,183.8 167.0,186.6 176.4,182.3 180.0,186.0 184.0,188.5 186.8,190.4 191.5,189.5 199.0,186.6 204.6,179.2 208.3,173.5 214.9,175.4 219.6,178.2 225.2,180.5" fill="none" stroke="#e07a45" stroke-width="0.9" opacity="1" stroke-linejoin="round" stroke-linecap="round"/>
<polyline points="125.9,205.4 142.7,203.5 152.0,203.0 157.7,201.0 167.0,199.8 172.7,197.9 186.0,196.6 187.7,196.6 199.0,179.2 208.3,168.5 214.0,176.3 219.6,178.2 225.2,178.6" fill="none" stroke="#9c4fd9" stroke-width="0.9" opacity="1" stroke-linejoin="round" stroke-linecap="round"/>
<rect x="125" y="153" width="121" height="55" fill="none" stroke="#6e6e6e" stroke-width="0.75"/>
<line x1="149.20" y1="153" x2="149.20" y2="154.3" stroke="#262626" stroke-width="0.6"/>
<line x1="149.20" y1="208" x2="149.20" y2="206.7" stroke="#262626" stroke-width="0.6"/>
<line x1="173.40" y1="153" x2="173.40" y2="154.3" stroke="#262626" stroke-width="0.6"/>
<line x1="173.40" y1="208" x2="173.40" y2="206.7" stroke="#262626" stroke-width="0.6"/>
<line x1="197.60" y1="153" x2="197.60" y2="154.3" stroke="#262626" stroke-width="0.6"/>
<line x1="197.60" y1="208" x2="197.60" y2="206.7" stroke="#262626" stroke-width="0.6"/>
<line x1="221.80" y1="153" x2="221.80" y2="154.3" stroke="#262626" stroke-width="0.6"/>
<line x1="221.80" y1="208" x2="221.80" y2="206.7" stroke="#262626" stroke-width="0.6"/>
<line x1="125" y1="208.00" x2="126.3" y2="208.00" stroke="#262626" stroke-width="0.6"/>
<line x1="246" y1="208.00" x2="244.7" y2="208.00" stroke="#262626" stroke-width="0.6"/>
<text x="122.80" y="210.10" font-size="6.0" text-anchor="end" fill="#3c3c3c" >0</text>
<line x1="125" y1="197.00" x2="126.3" y2="197.00" stroke="#262626" stroke-width="0.6"/>
<line x1="246" y1="197.00" x2="244.7" y2="197.00" stroke="#262626" stroke-width="0.6"/>
<text x="122.80" y="199.10" font-size="6.0" text-anchor="end" fill="#3c3c3c" >5</text>
<line x1="125" y1="186.00" x2="126.3" y2="186.00" stroke="#262626" stroke-width="0.6"/>
<line x1="246" y1="186.00" x2="244.7" y2="186.00" stroke="#262626" stroke-width="0.6"/>
<text x="122.80" y="188.10" font-size="6.0" text-anchor="end" fill="#3c3c3c" >10</text>
<line x1="125" y1="175.00" x2="126.3" y2="175.00" stroke="#262626" stroke-width="0.6"/>
<line x1="246" y1="175.00" x2="244.7" y2="175.00" stroke="#262626" stroke-width="0.6"/>
<text x="122.80" y="177.10" font-size="6.0" text-anchor="end" fill="#3c3c3c" >15</text>
<line x1="125" y1="164.00" x2="126.3" y2="164.00" stroke="#262626" stroke-width="0.6"/>
<line x1="246" y1="164.00" x2="244.7" y2="164.00" stroke="#262626" stroke-width="0.6"/>
<text x="122.80" y="166.10" font-size="6.0" text-anchor="end" fill="#3c3c3c" >20</text>
<line x1="125" y1="153.00" x2="126.3" y2="153.00" stroke="#262626" stroke-width="0.6"/>
<line x1="246" y1="153.00" x2="244.7" y2="153.00" stroke="#262626" stroke-width="0.6"/>
<text x="122.80" y="155.10" font-size="6.0" text-anchor="end" fill="#3c3c3c" >25</text>
<text x="185.50" y="150.70" font-size="6.9" text-anchor="middle" fill="#161616" >Deep (2000-4000 m)</text>
<line x1="149.20" y1="217" x2="149.20" y2="272" stroke="#e3e3e3" stroke-width="0.6"/>
<line x1="173.40" y1="217" x2="173.40" y2="272" stroke="#e3e3e3" stroke-width="0.6"/>
<line x1="197.60" y1="217" x2="197.60" y2="272" stroke="#e3e3e3" stroke-width="0.6"/>
<line x1="221.80" y1="217" x2="221.80" y2="272" stroke="#e3e3e3" stroke-width="0.6"/>
<line x1="125" y1="261.00" x2="246" y2="261.00" stroke="#e3e3e3" stroke-width="0.6"/>
<line x1="125" y1="250.00" x2="246" y2="250.00" stroke="#e3e3e3" stroke-width="0.6"/>
<line x1="125" y1="239.00" x2="246" y2="239.00" stroke="#e3e3e3" stroke-width="0.6"/>
<line x1="125" y1="228.00" x2="246" y2="228.00" stroke="#e3e3e3" stroke-width="0.6"/>
<polyline points="125.9,254.4 131.5,255.7 136.2,252.1 142.7,255.7 145.5,249.3 149.3,253.5 153.0,246.5 155.8,256.3 160.5,241.8 164.3,249.7 168.0,251.6 174.6,244.5 179.2,249.7 182.0,243.7 186.0,246.3 187.7,249.3 189.6,240.0 194.3,240.3 197.0,236.6 201.8,234.4 205.5,233.8 210.0,238.5 215.8,249.7 218.6,244.0 223.3,243.2 228.0,249.7 230.8,246.0" fill="none" stroke="#5fb548" stroke-width="0.9" opacity="1" stroke-linejoin="round" stroke-linecap="round"/>
<polyline points="125.9,255.3 136.2,254.0 142.7,256.8 145.5,250.6 150.2,254.4 153.0,249.7 155.8,256.3 160.5,250.6 169.0,251.6 174.6,249.3 180.0,250.6 186.0,246.9 189.6,240.7 197.0,237.5 202.7,234.4" fill="none" stroke="#e9b732" stroke-width="0.8" opacity="1" stroke-linejoin="round" stroke-linecap="round"/>
<polyline points="125.9,261.0 131.5,258.7 138.0,259.4 145.5,255.3 150.2,261.0 154.9,255.3 157.7,252.5 161.5,258.7 169.0,256.3 174.6,255.7 186.0,250.6 191.5,245.6 199.0,242.2 201.8,242.2 204.6,236.2 206.5,236.2" fill="none" stroke="#3d8fd1" stroke-width="0.8" opacity="1" stroke-linejoin="round" stroke-linecap="round"/>
<polyline points="125.9,266.6 130.6,267.5 135.2,265.6 146.5,263.8 151.2,261.9 154.9,264.3 161.5,261.0 172.7,258.1 184.0,255.0 186.8,255.3 191.5,246.0 193.4,248.2 199.0,226.9 201.8,238.5 206.5,246.3" fill="none" stroke="#9c4fd9" stroke-width="0.9" opacity="1" stroke-linejoin="round" stroke-linecap="round"/>
<rect x="125" y="217" width="121" height="55" fill="none" stroke="#6e6e6e" stroke-width="0.75"/>
<line x1="149.20" y1="217" x2="149.20" y2="218.3" stroke="#262626" stroke-width="0.6"/>
<line x1="149.20" y1="272" x2="149.20" y2="270.7" stroke="#262626" stroke-width="0.6"/>
<line x1="173.40" y1="217" x2="173.40" y2="218.3" stroke="#262626" stroke-width="0.6"/>
<line x1="173.40" y1="272" x2="173.40" y2="270.7" stroke="#262626" stroke-width="0.6"/>
<line x1="197.60" y1="217" x2="197.60" y2="218.3" stroke="#262626" stroke-width="0.6"/>
<line x1="197.60" y1="272" x2="197.60" y2="270.7" stroke="#262626" stroke-width="0.6"/>
<line x1="221.80" y1="217" x2="221.80" y2="218.3" stroke="#262626" stroke-width="0.6"/>
<line x1="221.80" y1="272" x2="221.80" y2="270.7" stroke="#262626" stroke-width="0.6"/>
<line x1="125" y1="272.00" x2="126.3" y2="272.00" stroke="#262626" stroke-width="0.6"/>
<line x1="246" y1="272.00" x2="244.7" y2="272.00" stroke="#262626" stroke-width="0.6"/>
<text x="122.80" y="274.10" font-size="6.0" text-anchor="end" fill="#3c3c3c" >0</text>
<line x1="125" y1="261.00" x2="126.3" y2="261.00" stroke="#262626" stroke-width="0.6"/>
<line x1="246" y1="261.00" x2="244.7" y2="261.00" stroke="#262626" stroke-width="0.6"/>
<text x="122.80" y="263.10" font-size="6.0" text-anchor="end" fill="#3c3c3c" >5</text>
<line x1="125" y1="250.00" x2="126.3" y2="250.00" stroke="#262626" stroke-width="0.6"/>
<line x1="246" y1="250.00" x2="244.7" y2="250.00" stroke="#262626" stroke-width="0.6"/>
<text x="122.80" y="252.10" font-size="6.0" text-anchor="end" fill="#3c3c3c" >10</text>
<line x1="125" y1="239.00" x2="126.3" y2="239.00" stroke="#262626" stroke-width="0.6"/>
<line x1="246" y1="239.00" x2="244.7" y2="239.00" stroke="#262626" stroke-width="0.6"/>
<text x="122.80" y="241.10" font-size="6.0" text-anchor="end" fill="#3c3c3c" >15</text>
<line x1="125" y1="228.00" x2="126.3" y2="228.00" stroke="#262626" stroke-width="0.6"/>
<line x1="246" y1="228.00" x2="244.7" y2="228.00" stroke="#262626" stroke-width="0.6"/>
<text x="122.80" y="230.10" font-size="6.0" text-anchor="end" fill="#3c3c3c" >20</text>
<line x1="125" y1="217.00" x2="126.3" y2="217.00" stroke="#262626" stroke-width="0.6"/>
<line x1="246" y1="217.00" x2="244.7" y2="217.00" stroke="#262626" stroke-width="0.6"/>
<text x="122.80" y="219.10" font-size="6.0" text-anchor="end" fill="#3c3c3c" >25</text>
<text x="185.50" y="214.70" font-size="6.9" text-anchor="middle" fill="#161616" >Abyssal (4000-5600 m)</text>
<line x1="391.20" y1="25" x2="391.20" y2="80" stroke="#e3e3e3" stroke-width="0.6"/>
<line x1="415.40" y1="25" x2="415.40" y2="80" stroke="#e3e3e3" stroke-width="0.6"/>
<line x1="439.60" y1="25" x2="439.60" y2="80" stroke="#e3e3e3" stroke-width="0.6"/>
<line x1="463.80" y1="25" x2="463.80" y2="80" stroke="#e3e3e3" stroke-width="0.6"/>
<line x1="367" y1="63.82" x2="488" y2="63.82" stroke="#e3e3e3" stroke-width="0.6"/>
<line x1="367" y1="47.65" x2="488" y2="47.65" stroke="#e3e3e3" stroke-width="0.6"/>
<line x1="367" y1="31.47" x2="488" y2="31.47" stroke="#e3e3e3" stroke-width="0.6"/>
<polyline points="367.9,35.0 373.5,38.5 390.3,45.5 405.3,58.4 416.6,65.0 428.0,69.5 441.0,74.0 454.0,75.5 463.5,74.5 471.0,73.6 478.0,74.0 484.0,74.6" fill="none" stroke="#3d8fd1" stroke-width="0.8" opacity="1" stroke-linejoin="round" stroke-linecap="round"/>
<polyline points="367.9,35.6 373.5,39.0 390.3,45.5 405.3,58.6 416.6,65.2 428.0,69.9 441.0,75.0 446.6,76.0 457.8,76.4 471.0,74.9 478.4,74.2 482.0,73.0" fill="none" stroke="#e07a45" stroke-width="1.6" opacity="0.6" stroke-linejoin="round" stroke-linecap="round"/>
<polyline points="367.9,34.3 373.5,38.0 390.3,45.0 405.3,58.0 416.6,65.0 428.0,69.5 441.0,74.5 457.8,75.5 471.0,74.0 480.3,72.7 484.0,69.0" fill="none" stroke="#e9b732" stroke-width="0.8" opacity="1" stroke-linejoin="round" stroke-linecap="round"/>
<polyline points="367.9,28.7 370.7,33.4 373.5,39.0 375.7,33.4 379.1,37.5 383.8,35.6 389.4,45.0 395.0,42.4 397.8,50.2 405.3,57.7 411.0,60.5 416.6,66.1 422.2,66.7 428.0,66.1 433.5,69.0 441.0,73.6 446.6,76.0 454.0,74.2 463.5,73.0 471.0,73.6 478.4,73.0 482.0,72.3" fill="none" stroke="#5fb548" stroke-width="0.9" opacity="1" stroke-linejoin="round" stroke-linecap="round"/>
<rect x="367" y="25" width="121" height="55" fill="none" stroke="#6e6e6e" stroke-width="0.75"/>
<line x1="391.20" y1="25" x2="391.20" y2="26.3" stroke="#262626" stroke-width="0.6"/>
<line x1="391.20" y1="80" x2="391.20" y2="78.7" stroke="#262626" stroke-width="0.6"/>
<line x1="415.40" y1="25" x2="415.40" y2="26.3" stroke="#262626" stroke-width="0.6"/>
<line x1="415.40" y1="80" x2="415.40" y2="78.7" stroke="#262626" stroke-width="0.6"/>
<line x1="439.60" y1="25" x2="439.60" y2="26.3" stroke="#262626" stroke-width="0.6"/>
<line x1="439.60" y1="80" x2="439.60" y2="78.7" stroke="#262626" stroke-width="0.6"/>
<line x1="463.80" y1="25" x2="463.80" y2="26.3" stroke="#262626" stroke-width="0.6"/>
<line x1="463.80" y1="80" x2="463.80" y2="78.7" stroke="#262626" stroke-width="0.6"/>
<line x1="367" y1="80.00" x2="368.3" y2="80.00" stroke="#262626" stroke-width="0.6"/>
<line x1="488" y1="80.00" x2="486.7" y2="80.00" stroke="#262626" stroke-width="0.6"/>
<text x="364.80" y="82.10" font-size="6.0" text-anchor="end" fill="#3c3c3c" >1</text>
<line x1="367" y1="63.82" x2="368.3" y2="63.82" stroke="#262626" stroke-width="0.6"/>
<line x1="488" y1="63.82" x2="486.7" y2="63.82" stroke="#262626" stroke-width="0.6"/>
<text x="364.80" y="65.92" font-size="6.0" text-anchor="end" fill="#3c3c3c" >1.5</text>
<line x1="367" y1="47.65" x2="368.3" y2="47.65" stroke="#262626" stroke-width="0.6"/>
<line x1="488" y1="47.65" x2="486.7" y2="47.65" stroke="#262626" stroke-width="0.6"/>
<text x="364.80" y="49.75" font-size="6.0" text-anchor="end" fill="#3c3c3c" >2</text>
<line x1="367" y1="31.47" x2="368.3" y2="31.47" stroke="#262626" stroke-width="0.6"/>
<line x1="488" y1="31.47" x2="486.7" y2="31.47" stroke="#262626" stroke-width="0.6"/>
<text x="364.80" y="33.57" font-size="6.0" text-anchor="end" fill="#3c3c3c" >2.5</text>
<text x="427.50" y="22.70" font-size="6.9" text-anchor="middle" fill="#161616" >Subsurface (100-300 m)</text>
<line x1="391.20" y1="89" x2="391.20" y2="144" stroke="#e3e3e3" stroke-width="0.6"/>
<line x1="415.40" y1="89" x2="415.40" y2="144" stroke="#e3e3e3" stroke-width="0.6"/>
<line x1="439.60" y1="89" x2="439.60" y2="144" stroke="#e3e3e3" stroke-width="0.6"/>
<line x1="463.80" y1="89" x2="463.80" y2="144" stroke="#e3e3e3" stroke-width="0.6"/>
<line x1="367" y1="130.25" x2="488" y2="130.25" stroke="#e3e3e3" stroke-width="0.6"/>
<line x1="367" y1="116.50" x2="488" y2="116.50" stroke="#e3e3e3" stroke-width="0.6"/>
<line x1="367" y1="102.75" x2="488" y2="102.75" stroke="#e3e3e3" stroke-width="0.6"/>
<polyline points="367.9,130.0 375.4,133.0 384.7,137.0 403.5,134.8 414.7,132.0 428.0,131.0 450.3,128.3 459.7,124.5 466.3,118.9 471.0,117.6 476.6,117.0" fill="none" stroke="#3d8fd1" stroke-width="0.8" opacity="1" stroke-linejoin="round" stroke-linecap="round"/>
<polyline points="367.9,130.0 375.4,133.5 384.7,137.0 403.5,134.5 414.7,131.5 428.0,131.0 450.3,129.0 459.7,126.4 467.2,122.6 472.8,121.3 476.6,120.2" fill="none" stroke="#e9b732" stroke-width="0.8" opacity="1" stroke-linejoin="round" stroke-linecap="round"/>
<polyline points="367.9,130.0 375.4,134.8 384.7,137.0 394.0,134.8 403.5,133.0 414.7,128.3 422.2,131.4 428.0,131.4 444.7,129.2 454.0,130.7 465.3,128.8 469.0,128.3 471.9,131.4 475.0,127.3 476.6,127.7" fill="none" stroke="#e07a45" stroke-width="0.9" opacity="1" stroke-linejoin="round" stroke-linecap="round"/>
<polyline points="367.9,120.2 369.7,130.0 373.5,141.4 378.2,122.6 380.6,130.0 383.2,123.6 386.6,130.0 389.4,127.3 396.0,129.2 400.6,126.4 404.4,130.0 408.0,128.3 411.9,124.0 416.6,118.9 421.2,124.0 424.0,133.0 428.0,131.0 431.6,128.3 434.4,129.6 439.0,125.5 444.7,124.5 450.3,127.3 455.0,128.3 461.6,124.5 466.3,127.3 470.0,120.8 472.4,125.5 476.6,127.3" fill="none" stroke="#5fb548" stroke-width="0.9" opacity="1" stroke-linejoin="round" stroke-linecap="round"/>
<rect x="367" y="89" width="121" height="55" fill="none" stroke="#6e6e6e" stroke-width="0.75"/>
<line x1="391.20" y1="89" x2="391.20" y2="90.3" stroke="#262626" stroke-width="0.6"/>
<line x1="391.20" y1="144" x2="391.20" y2="142.7" stroke="#262626" stroke-width="0.6"/>
<line x1="415.40" y1="89" x2="415.40" y2="90.3" stroke="#262626" stroke-width="0.6"/>
<line x1="415.40" y1="144" x2="415.40" y2="142.7" stroke="#262626" stroke-width="0.6"/>
<line x1="439.60" y1="89" x2="439.60" y2="90.3" stroke="#262626" stroke-width="0.6"/>
<line x1="439.60" y1="144" x2="439.60" y2="142.7" stroke="#262626" stroke-width="0.6"/>
<line x1="463.80" y1="89" x2="463.80" y2="90.3" stroke="#262626" stroke-width="0.6"/>
<line x1="463.80" y1="144" x2="463.80" y2="142.7" stroke="#262626" stroke-width="0.6"/>
<line x1="367" y1="144.00" x2="368.3" y2="144.00" stroke="#262626" stroke-width="0.6"/>
<line x1="488" y1="144.00" x2="486.7" y2="144.00" stroke="#262626" stroke-width="0.6"/>
<text x="364.80" y="146.10" font-size="6.0" text-anchor="end" fill="#3c3c3c" >0.8</text>
<line x1="367" y1="130.25" x2="368.3" y2="130.25" stroke="#262626" stroke-width="0.6"/>
<line x1="488" y1="130.25" x2="486.7" y2="130.25" stroke="#262626" stroke-width="0.6"/>
<text x="364.80" y="132.35" font-size="6.0" text-anchor="end" fill="#3c3c3c" >0.85</text>
<line x1="367" y1="116.50" x2="368.3" y2="116.50" stroke="#262626" stroke-width="0.6"/>
<line x1="488" y1="116.50" x2="486.7" y2="116.50" stroke="#262626" stroke-width="0.6"/>
<text x="364.80" y="118.60" font-size="6.0" text-anchor="end" fill="#3c3c3c" >0.9</text>
<line x1="367" y1="102.75" x2="368.3" y2="102.75" stroke="#262626" stroke-width="0.6"/>
<line x1="488" y1="102.75" x2="486.7" y2="102.75" stroke="#262626" stroke-width="0.6"/>
<text x="364.80" y="104.85" font-size="6.0" text-anchor="end" fill="#3c3c3c" >0.95</text>
<line x1="367" y1="89.00" x2="368.3" y2="89.00" stroke="#262626" stroke-width="0.6"/>
<line x1="488" y1="89.00" x2="486.7" y2="89.00" stroke="#262626" stroke-width="0.6"/>
<text x="364.80" y="91.10" font-size="6.0" text-anchor="end" fill="#3c3c3c" >1</text>
<text x="427.50" y="86.70" font-size="6.9" text-anchor="middle" fill="#161616" >Intermediate (1400-2000 m)</text>
<line x1="391.20" y1="153" x2="391.20" y2="208" stroke="#e3e3e3" stroke-width="0.6"/>
<line x1="415.40" y1="153" x2="415.40" y2="208" stroke="#e3e3e3" stroke-width="0.6"/>
<line x1="439.60" y1="153" x2="439.60" y2="208" stroke="#e3e3e3" stroke-width="0.6"/>
<line x1="463.80" y1="153" x2="463.80" y2="208" stroke="#e3e3e3" stroke-width="0.6"/>
<line x1="367" y1="189.67" x2="488" y2="189.67" stroke="#e3e3e3" stroke-width="0.6"/>
<line x1="367" y1="171.33" x2="488" y2="171.33" stroke="#e3e3e3" stroke-width="0.6"/>
<polyline points="367.9,197.9 373.5,197.3 381.0,193.6 386.6,194.1 390.3,196.0 395.0,200.2 401.0,203.2 407.0,203.8 410.0,199.6 411.8,199.6 414.8,202.6 420.2,202.0 426.2,200.2 437.0,199.6 445.4,202.0 447.8,203.8 455.0,203.2 457.8,202.9" fill="none" stroke="#3d8fd1" stroke-width="0.8" opacity="1" stroke-linejoin="round" stroke-linecap="round"/>
<polyline points="367.9,181.0 373.5,197.0 378.2,183.0 381.0,191.0 386.6,191.7 390.3,189.5 395.0,194.8 401.0,194.2 410.6,196.0 416.6,200.2 423.8,200.2 431.0,199.0 439.4,199.0 445.4,202.0 450.2,202.6 455.0,200.8 463.5,202.6 467.0,203.5" fill="none" stroke="#e9b732" stroke-width="0.8" opacity="1" stroke-linejoin="round" stroke-linecap="round"/>
<polyline points="390.0,193.5 395.0,194.2 403.4,193.0 409.4,194.8 414.2,198.4 419.0,200.2 422.6,200.2" fill="none" stroke="#e07a45" stroke-width="0.9" opacity="1" stroke-linejoin="round" stroke-linecap="round"/>
<polyline points="429.2,187.0 433.4,191.2 437.6,190.0 441.2,194.8 443.6,196.0 446.0,202.0 448.4,204.4 455.0,204.4 460.6,204.4" fill="none" stroke="#e07a45" stroke-width="0.9" opacity="1" stroke-linejoin="round" stroke-linecap="round"/>
<polyline points="367.9,180.1 373.5,197.0 378.2,180.5 381.0,186.6 383.8,185.7 388.5,187.6 392.2,185.7 395.0,187.6 397.4,186.4 400.4,188.8 402.8,188.8 405.2,191.8 411.2,193.6 417.8,195.4 423.8,197.8 428.6,197.2 440.6,198.4 445.4,200.8 450.2,199.6 455.0,199.6 463.5,198.8 468.0,201.0 470.0,196.9 473.8,199.8 476.6,196.9" fill="none" stroke="#5fb548" stroke-width="0.9" opacity="1" stroke-linejoin="round" stroke-linecap="round"/>
<rect x="367" y="153" width="121" height="55" fill="none" stroke="#6e6e6e" stroke-width="0.75"/>
<line x1="391.20" y1="153" x2="391.20" y2="154.3" stroke="#262626" stroke-width="0.6"/>
<line x1="391.20" y1="208" x2="391.20" y2="206.7" stroke="#262626" stroke-width="0.6"/>
<line x1="415.40" y1="153" x2="415.40" y2="154.3" stroke="#262626" stroke-width="0.6"/>
<line x1="415.40" y1="208" x2="415.40" y2="206.7" stroke="#262626" stroke-width="0.6"/>
<line x1="439.60" y1="153" x2="439.60" y2="154.3" stroke="#262626" stroke-width="0.6"/>
<line x1="439.60" y1="208" x2="439.60" y2="206.7" stroke="#262626" stroke-width="0.6"/>
<line x1="463.80" y1="153" x2="463.80" y2="154.3" stroke="#262626" stroke-width="0.6"/>
<line x1="463.80" y1="208" x2="463.80" y2="206.7" stroke="#262626" stroke-width="0.6"/>
<line x1="367" y1="208.00" x2="368.3" y2="208.00" stroke="#262626" stroke-width="0.6"/>
<line x1="488" y1="208.00" x2="486.7" y2="208.00" stroke="#262626" stroke-width="0.6"/>
<text x="364.80" y="210.10" font-size="6.0" text-anchor="end" fill="#3c3c3c" >0.6</text>
<line x1="367" y1="189.67" x2="368.3" y2="189.67" stroke="#262626" stroke-width="0.6"/>
<line x1="488" y1="189.67" x2="486.7" y2="189.67" stroke="#262626" stroke-width="0.6"/>
<text x="364.80" y="191.77" font-size="6.0" text-anchor="end" fill="#3c3c3c" >0.7</text>
<line x1="367" y1="171.33" x2="368.3" y2="171.33" stroke="#262626" stroke-width="0.6"/>
<line x1="488" y1="171.33" x2="486.7" y2="171.33" stroke="#262626" stroke-width="0.6"/>
<text x="364.80" y="173.43" font-size="6.0" text-anchor="end" fill="#3c3c3c" >0.8</text>
<line x1="367" y1="153.00" x2="368.3" y2="153.00" stroke="#262626" stroke-width="0.6"/>
<line x1="488" y1="153.00" x2="486.7" y2="153.00" stroke="#262626" stroke-width="0.6"/>
<text x="364.80" y="155.10" font-size="6.0" text-anchor="end" fill="#3c3c3c" >0.9</text>
<text x="427.50" y="150.70" font-size="6.9" text-anchor="middle" fill="#161616" >Deep (2000-4000 m)</text>
<line x1="391.20" y1="217" x2="391.20" y2="272" stroke="#e3e3e3" stroke-width="0.6"/>
<line x1="415.40" y1="217" x2="415.40" y2="272" stroke="#e3e3e3" stroke-width="0.6"/>
<line x1="439.60" y1="217" x2="439.60" y2="272" stroke="#e3e3e3" stroke-width="0.6"/>
<line x1="463.80" y1="217" x2="463.80" y2="272" stroke="#e3e3e3" stroke-width="0.6"/>
<line x1="367" y1="258.25" x2="488" y2="258.25" stroke="#e3e3e3" stroke-width="0.6"/>
<line x1="367" y1="244.50" x2="488" y2="244.50" stroke="#e3e3e3" stroke-width="0.6"/>
<line x1="367" y1="230.75" x2="488" y2="230.75" stroke="#e3e3e3" stroke-width="0.6"/>
<polyline points="367.9,246.9 375.4,249.7 384.7,250.0 394.0,251.6 412.8,254.4 420.3,256.8 428.0,256.3 442.9,259.4 446.6,257.6" fill="none" stroke="#e9b732" stroke-width="0.8" opacity="1" stroke-linejoin="round" stroke-linecap="round"/>
<polyline points="367.9,246.0 372.6,250.6 375.4,248.2 381.0,247.8 386.6,248.8 389.4,246.9 392.2,243.7 398.8,246.0 403.5,248.8 412.8,251.2 420.3,253.1 428.0,253.5 429.7,253.5 432.6,251.2 437.2,252.0 442.9,251.6 445.7,247.5 448.0,248.8" fill="none" stroke="#3d8fd1" stroke-width="0.8" opacity="1" stroke-linejoin="round" stroke-linecap="round"/>
<polyline points="367.9,245.0 373.1,253.5 377.2,249.3 384.7,250.6 390.3,252.5 393.0,248.8 396.0,253.5 399.7,250.6 404.4,254.4 407.2,252.0 412.8,254.4 418.4,256.3 421.2,252.5 423.0,256.3 428.0,255.5 434.0,255.7 442.9,258.7 447.5,256.8 453.2,250.0 457.8,250.6 464.4,245.6 467.6,245.6 470.0,242.2 472.4,245.0" fill="none" stroke="#5fb548" stroke-width="0.9" opacity="1" stroke-linejoin="round" stroke-linecap="round"/>
<rect x="367" y="217" width="121" height="55" fill="none" stroke="#6e6e6e" stroke-width="0.75"/>
<line x1="391.20" y1="217" x2="391.20" y2="218.3" stroke="#262626" stroke-width="0.6"/>
<line x1="391.20" y1="272" x2="391.20" y2="270.7" stroke="#262626" stroke-width="0.6"/>
<line x1="415.40" y1="217" x2="415.40" y2="218.3" stroke="#262626" stroke-width="0.6"/>
<line x1="415.40" y1="272" x2="415.40" y2="270.7" stroke="#262626" stroke-width="0.6"/>
<line x1="439.60" y1="217" x2="439.60" y2="218.3" stroke="#262626" stroke-width="0.6"/>
<line x1="439.60" y1="272" x2="439.60" y2="270.7" stroke="#262626" stroke-width="0.6"/>
<line x1="463.80" y1="217" x2="463.80" y2="218.3" stroke="#262626" stroke-width="0.6"/>
<line x1="463.80" y1="272" x2="463.80" y2="270.7" stroke="#262626" stroke-width="0.6"/>
<line x1="367" y1="272.00" x2="368.3" y2="272.00" stroke="#262626" stroke-width="0.6"/>
<line x1="488" y1="272.00" x2="486.7" y2="272.00" stroke="#262626" stroke-width="0.6"/>
<text x="364.80" y="274.10" font-size="6.0" text-anchor="end" fill="#3c3c3c" >0.4</text>
<line x1="367" y1="258.25" x2="368.3" y2="258.25" stroke="#262626" stroke-width="0.6"/>
<line x1="488" y1="258.25" x2="486.7" y2="258.25" stroke="#262626" stroke-width="0.6"/>
<text x="364.80" y="260.35" font-size="6.0" text-anchor="end" fill="#3c3c3c" >0.45</text>
<line x1="367" y1="244.50" x2="368.3" y2="244.50" stroke="#262626" stroke-width="0.6"/>
<line x1="488" y1="244.50" x2="486.7" y2="244.50" stroke="#262626" stroke-width="0.6"/>
<text x="364.80" y="246.60" font-size="6.0" text-anchor="end" fill="#3c3c3c" >0.5</text>
<line x1="367" y1="230.75" x2="368.3" y2="230.75" stroke="#262626" stroke-width="0.6"/>
<line x1="488" y1="230.75" x2="486.7" y2="230.75" stroke="#262626" stroke-width="0.6"/>
<text x="364.80" y="232.85" font-size="6.0" text-anchor="end" fill="#3c3c3c" >0.55</text>
<line x1="367" y1="217.00" x2="368.3" y2="217.00" stroke="#262626" stroke-width="0.6"/>
<line x1="488" y1="217.00" x2="486.7" y2="217.00" stroke="#262626" stroke-width="0.6"/>
<text x="364.80" y="219.10" font-size="6.0" text-anchor="end" fill="#3c3c3c" >0.6</text>
<text x="427.50" y="214.70" font-size="6.9" text-anchor="middle" fill="#161616" >Abyssal (4000-5600 m)</text>
<text x="125.00" y="279.30" font-size="5.8" text-anchor="middle" fill="#3c3c3c" >30°S</text>
<text x="149.20" y="279.30" font-size="5.8" text-anchor="middle" fill="#3c3c3c" >40°S</text>
<text x="173.40" y="279.30" font-size="5.8" text-anchor="middle" fill="#3c3c3c" >50°S</text>
<text x="197.60" y="279.30" font-size="5.8" text-anchor="middle" fill="#3c3c3c" >60°S</text>
<text x="221.80" y="279.30" font-size="5.8" text-anchor="middle" fill="#3c3c3c" >70°S</text>
<text x="246.00" y="279.30" font-size="5.8" text-anchor="middle" fill="#3c3c3c" >80°S</text>
<text x="185.50" y="286.80" font-size="6.4" text-anchor="middle" fill="#161616" >Latitude</text>
<text x="367.00" y="279.30" font-size="5.8" text-anchor="middle" fill="#3c3c3c" >30°S</text>
<text x="391.20" y="279.30" font-size="5.8" text-anchor="middle" fill="#3c3c3c" >40°S</text>
<text x="415.40" y="279.30" font-size="5.8" text-anchor="middle" fill="#3c3c3c" >50°S</text>
<text x="439.60" y="279.30" font-size="5.8" text-anchor="middle" fill="#3c3c3c" >60°S</text>
<text x="463.80" y="279.30" font-size="5.8" text-anchor="middle" fill="#3c3c3c" >70°S</text>
<text x="488.00" y="279.30" font-size="5.8" text-anchor="middle" fill="#3c3c3c" >80°S</text>
<text x="427.50" y="286.80" font-size="6.4" text-anchor="middle" fill="#161616" >Latitude</text>
<text x="0" y="0" font-size="6.1" text-anchor="middle" fill="#333" transform="translate(113.4 156.2) rotate(-90)">Cant (µmol kg<tspan font-size="4.2" dy="-2">-1</tspan><tspan dy="2">)</tspan></text>
<text x="0" y="0" font-size="6.2" text-anchor="middle" fill="#161616" transform="translate(355.9 155.5) rotate(-90)">Dar</text>
<line x1="194.9" y1="28.60" x2="206.1" y2="28.60" stroke="#3d8fd1" stroke-width="0.8" opacity="1"/>
<text x="207.20" y="30.20" font-size="4.75" text-anchor="start" fill="#161616" >Non-O2-Float Grid</text>
<line x1="194.9" y1="34.05" x2="206.1" y2="34.05" stroke="#e07a45" stroke-width="1.8" opacity="0.55"/>
<text x="207.20" y="35.65" font-size="4.75" text-anchor="start" fill="#161616" >O2-Float Grid</text>
<line x1="194.9" y1="39.50" x2="206.1" y2="39.50" stroke="#e9b732" stroke-width="0.8" opacity="1"/>
<text x="207.20" y="41.10" font-size="4.75" text-anchor="start" fill="#161616" >All-Data Grid</text>
<line x1="194.9" y1="44.95" x2="206.1" y2="44.95" stroke="#5fb548" stroke-width="0.8" opacity="1"/>
<text x="207.20" y="46.55" font-size="4.75" text-anchor="start" fill="#161616" >GLODAP-derived</text>
<line x1="194.9" y1="50.40" x2="206.1" y2="50.40" stroke="#9c4fd9" stroke-width="0.8" opacity="1"/>
<text x="207.20" y="52.00" font-size="4.75" text-anchor="start" fill="#161616" >Trace-derived</text>
<line x1="437.0" y1="28.60" x2="448.2" y2="28.60" stroke="#3d8fd1" stroke-width="0.8" opacity="1"/>
<text x="449.30" y="30.20" font-size="4.75" text-anchor="start" fill="#161616" >Non-O2-Float Grid</text>
<line x1="437.0" y1="34.05" x2="448.2" y2="34.05" stroke="#e07a45" stroke-width="1.8" opacity="0.55"/>
<text x="449.30" y="35.65" font-size="4.75" text-anchor="start" fill="#161616" >O2-Float Grid</text>
<line x1="437.0" y1="39.50" x2="448.2" y2="39.50" stroke="#e9b732" stroke-width="0.8" opacity="1"/>
<text x="449.30" y="41.10" font-size="4.75" text-anchor="start" fill="#161616" >All-Data Grid</text>
<line x1="437.0" y1="44.95" x2="448.2" y2="44.95" stroke="#5fb548" stroke-width="0.8" opacity="1"/>
<text x="449.30" y="46.55" font-size="4.75" text-anchor="start" fill="#161616" >GLODAP-derived</text>
</svg></body></html>
